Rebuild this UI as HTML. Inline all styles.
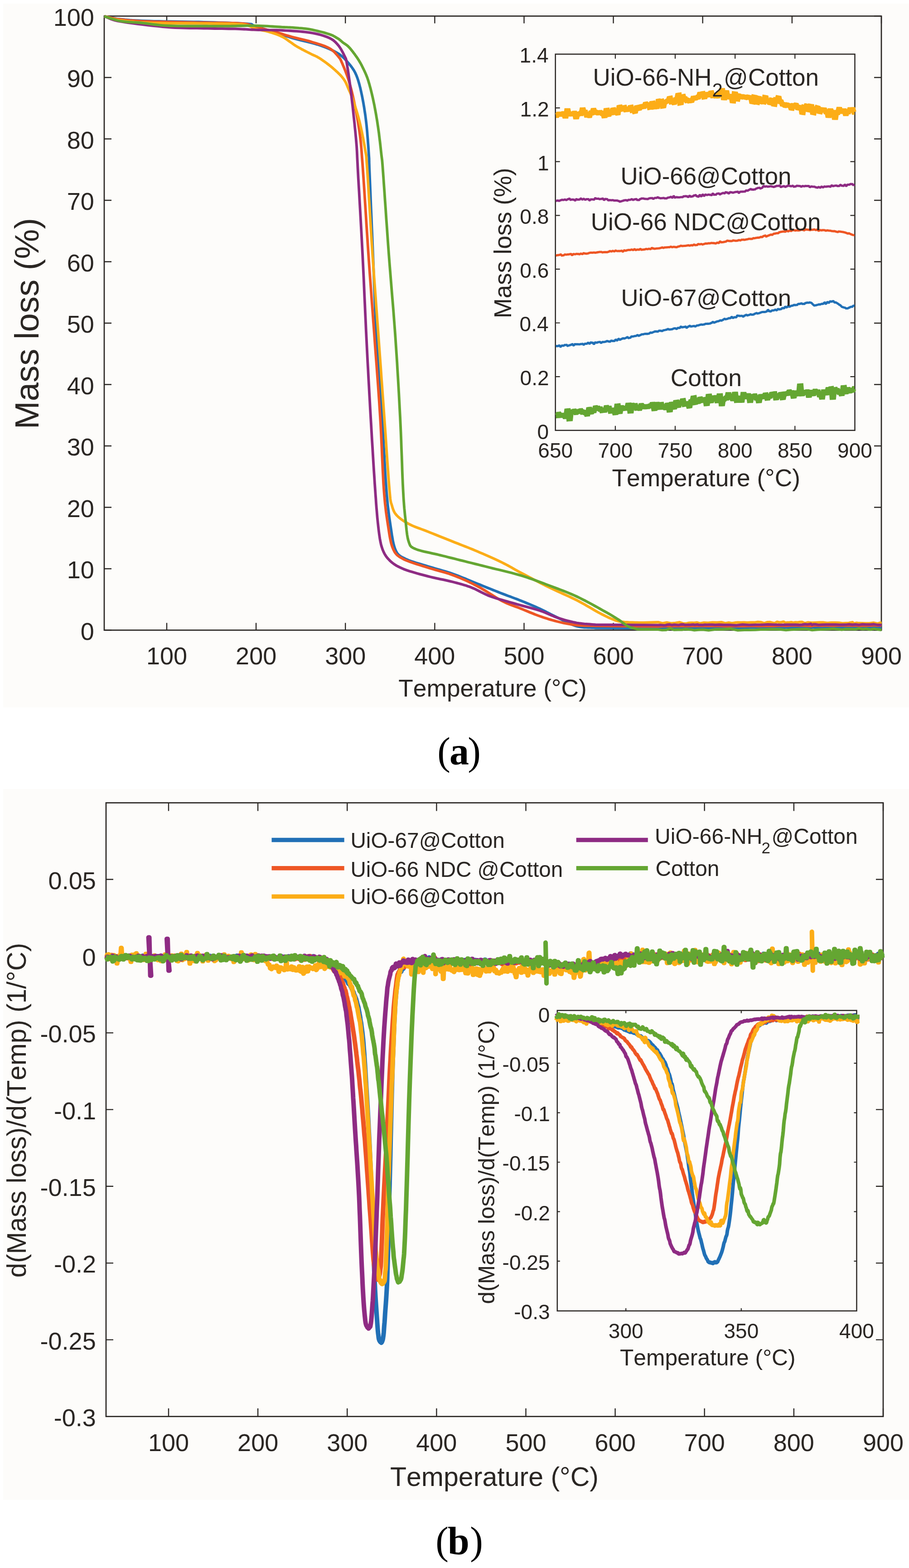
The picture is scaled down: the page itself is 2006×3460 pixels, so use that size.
<!DOCTYPE html><html><head><meta charset="utf-8"><title>TGA figure</title><style>html,body{margin:0;padding:0;background:#fff;overflow:hidden}svg{display:block}text{font-kerning:none}</style></head><body>
<svg width="2006" height="3460" viewBox="0 0 2006 3460">
<rect width="2006" height="3460" fill="#ffffff"/>
<rect x="7" y="8" width="1999" height="1552.8" fill="#fdfcfa"/>
<rect x="7" y="1741" width="1999" height="1568.5" fill="#fdfcfa"/>
<g stroke="#2a2623" fill="none">
<path d="M368 1390.5 V1374.5 M368 35.5 V51.5" stroke-width="2.4"/>
<path d="M565.1 1390.5 V1374.5 M565.1 35.5 V51.5" stroke-width="2.4"/>
<path d="M762.2 1390.5 V1374.5 M762.2 35.5 V51.5" stroke-width="2.4"/>
<path d="M959.4 1390.5 V1374.5 M959.4 35.5 V51.5" stroke-width="2.4"/>
<path d="M1156.5 1390.5 V1374.5 M1156.5 35.5 V51.5" stroke-width="2.4"/>
<path d="M1353.6 1390.5 V1374.5 M1353.6 35.5 V51.5" stroke-width="2.4"/>
<path d="M1550.7 1390.5 V1374.5 M1550.7 35.5 V51.5" stroke-width="2.4"/>
<path d="M1747.9 1390.5 V1374.5 M1747.9 35.5 V51.5" stroke-width="2.4"/>
<path d="M1945 1390.5 V1374.5 M1945 35.5 V51.5" stroke-width="2.4"/>
<path d="M230 1390.5 H246 M1945 1390.5 H1929" stroke-width="2.4"/>
<path d="M230 1255 H246 M1945 1255 H1929" stroke-width="2.4"/>
<path d="M230 1119.5 H246 M1945 1119.5 H1929" stroke-width="2.4"/>
<path d="M230 984 H246 M1945 984 H1929" stroke-width="2.4"/>
<path d="M230 848.5 H246 M1945 848.5 H1929" stroke-width="2.4"/>
<path d="M230 713 H246 M1945 713 H1929" stroke-width="2.4"/>
<path d="M230 577.5 H246 M1945 577.5 H1929" stroke-width="2.4"/>
<path d="M230 442 H246 M1945 442 H1929" stroke-width="2.4"/>
<path d="M230 306.5 H246 M1945 306.5 H1929" stroke-width="2.4"/>
<path d="M230 171 H246 M1945 171 H1929" stroke-width="2.4"/>
<path d="M230 35.5 H246 M1945 35.5 H1929" stroke-width="2.4"/>
<rect x="230" y="35.5" width="1715" height="1355" stroke-width="2.7"/>
</g>
<g>
<path d="M230 36 L233.5 36.7 L236.8 37.3 L239.9 38 L243.1 38.7 L246.2 39.4 L249.6 40.1 L253.1 40.7 L257 41.4 L261.3 42 L266 42.5 L271 43 L276.1 43.5 L281.4 43.9 L286.9 44.4 L292.8 44.8 L299 45.1 L305.8 45.5 L313.2 45.8 L321.2 46.2 L330 46.5 L339.8 46.8 L350.8 47 L362.7 47.3 L375.2 47.5 L388.1 47.7 L401.1 47.9 L414.1 48.1 L426.7 48.3 L438.8 48.5 L450 48.8 L460.9 49.1 L471.8 49.4 L482.7 49.8 L493.4 50.1 L503.8 50.4 L513.6 50.8 L522.8 51.2 L531.2 51.6 L538.7 52.1 L545 52.5 L549.8 52.9 L552.8 53.2 L554.6 53.4 L555.5 53.6 L555.9 53.9 L556.2 54.3 L556.8 54.8 L558.2 55.6 L560.7 56.6 L564.7 58 L570.3 59.8 L577 62 L584.6 64.4 L592.9 67.2 L601.6 70 L610.5 72.9 L619.4 75.8 L628.1 78.6 L636.2 81.1 L643.7 83.4 L650.7 85.4 L657.5 87.2 L664.1 88.9 L670.6 90.5 L676.9 92 L683 93.5 L688.9 95 L694.6 96.5 L700 98.1 L705.3 99.8 L710.3 101.5 L715.1 103.3 L719.7 105.1 L724.1 106.9 L728.2 108.7 L732.2 110.6 L736 112.4 L739.6 114.3 L743.1 116.3 L746.4 118.3 L749.5 120.3 L752.3 122.4 L754.9 124.5 L757.4 126.6 L759.6 128.8 L761.8 131 L763.8 133.2 L765.8 135.5 L767.8 137.8 L769.8 140.2 L771.8 142.6 L773.7 144.9 L775.5 147.3 L777.2 149.6 L778.9 152.1 L780.5 154.6 L782.1 157.3 L783.7 160.2 L785.1 163.3 L786.6 166.6 L788 170.2 L789.3 173.9 L790.6 177.8 L791.8 181.8 L793 186.1 L794.1 190.4 L795.3 195 L796.3 199.7 L797.4 204.6 L798.5 209.7 L799.6 215 L800.6 220.4 L801.7 226.1 L802.7 231.9 L803.7 237.8 L804.6 244 L805.6 250.2 L806.5 256.6 L807.3 263 L808.1 269.6 L808.9 276.5 L809.6 283.7 L810.3 291.3 L810.9 299.1 L811.6 306.9 L812.1 314.6 L812.7 322 L813.2 329.1 L813.6 335.6 L814 341.5 L814.3 346.1 L814.5 349 L814.6 351 L814.6 352.4 L814.6 353.9 L814.7 355.9 L814.7 358.9 L814.9 363.6 L815.1 370.4 L815.5 379.8 L816 392.1 L816.6 406.7 L817.3 423.3 L818 441.4 L818.8 460.7 L819.7 480.8 L820.5 501.1 L821.4 521.4 L822.2 541.1 L823 560 L823.8 578.4 L824.5 596.9 L825.2 615.5 L826 634.1 L826.7 652.8 L827.5 671.5 L828.3 690.1 L829.1 708.6 L830 726.9 L831 745 L832 763 L833.2 780.9 L834.4 798.7 L835.6 816.4 L836.9 834.1 L838.2 851.6 L839.5 868.9 L840.7 886.1 L841.9 903.2 L843 920 L844.1 937 L845.1 954.2 L846.1 971.6 L847 988.8 L848 1005.8 L848.9 1022.3 L849.8 1038.2 L850.7 1053.2 L851.7 1067.2 L852.6 1080 L853.5 1091.5 L854.5 1101.9 L855.4 1111.3 L856.3 1119.9 L857.3 1127.8 L858.2 1135.2 L859.1 1142.1 L860.1 1148.8 L861.1 1155.5 L862.1 1162.1 L863.1 1168.7 L864 1175 L864.9 1181 L865.9 1186.7 L866.8 1192.1 L867.8 1197.2 L869 1201.9 L870.2 1206.4 L871.6 1210.5 L873.1 1214.2 L874.7 1217.5 L876.3 1220.2 L878 1222.4 L879.8 1224.3 L881.7 1226 L883.7 1227.4 L886.1 1228.8 L888.7 1230.2 L891.7 1231.6 L895 1233.3 L898.8 1235 L903 1236.8 L907.6 1238.4 L912.5 1240 L917.6 1241.7 L922.9 1243.3 L928.2 1244.9 L933.7 1246.5 L939 1248.1 L944.3 1249.7 L949.6 1251.3 L954.9 1252.9 L960.3 1254.5 L965.8 1256 L971.3 1257.6 L976.9 1259.2 L982.4 1260.8 L988 1262.6 L993.5 1264.3 L999 1266.2 L1004.5 1268.2 L1010 1270.2 L1015.4 1272.4 L1020.9 1274.6 L1026.4 1276.8 L1031.9 1279.1 L1037.4 1281.4 L1042.8 1283.6 L1048.3 1285.9 L1053.8 1288.1 L1059.3 1290.3 L1065 1292.6 L1070.6 1294.9 L1076.3 1297.2 L1082 1299.4 L1087.6 1301.7 L1093.1 1303.9 L1098.4 1306 L1103.6 1308.1 L1108.5 1310 L1113.2 1311.8 L1117.7 1313.5 L1121.9 1315.1 L1126.1 1316.6 L1130.1 1318.1 L1134.1 1319.6 L1138 1321.1 L1141.9 1322.5 L1145.9 1324.1 L1150 1325.7 L1154.1 1327.4 L1158.2 1329 L1162.3 1330.7 L1166.4 1332.4 L1170.5 1334.2 L1174.6 1335.9 L1178.7 1337.7 L1182.8 1339.5 L1186.9 1341.3 L1191 1343.2 L1195.1 1345.1 L1199.2 1347.1 L1203.3 1349.2 L1207.4 1351.3 L1211.5 1353.4 L1215.7 1355.5 L1219.8 1357.6 L1223.9 1359.7 L1228 1361.7 L1232.1 1363.7 L1236.2 1365.7 L1240.3 1367.7 L1244.4 1369.8 L1248.5 1371.9 L1252.6 1373.9 L1256.8 1375.9 L1260.9 1377.7 L1265 1379.3 L1269.1 1380.8 L1273.2 1382 L1277.3 1382.9 L1281.4 1383.6 L1285.5 1384.1 L1289.6 1384.5 L1293.8 1384.7 L1297.9 1384.8 L1302 1384.9 L1306.1 1385 L1310.2 1385.2 L1314.3 1385.5 L1452.4 1386.3 L1461.2 1386.4 L1470.3 1386.1 L1479.3 1385.8 L1488.1 1386 L1496.6 1385.7 L1504.6 1386.1 L1511.9 1386.6 L1518.5 1385.9 L1524.7 1385.8 L1531 1386.2 L1537.6 1386.2 L1544.9 1386 L1553 1385.6 L1561.9 1385.9 L1571 1386.1 L1580.2 1385.2 L1589 1385.5 L1597.1 1384.9 L1604.1 1385.1 L1610.1 1384.8 L1615.8 1385.5 L1621.7 1385 L1628.5 1385.6 L1636.6 1385.5 L1646.8 1385.3 L1658.7 1384.3 L1671.5 1385.1 L1684.1 1385.2 L1695.8 1385.2 L1705.7 1384.5 L1713.4 1384.9 L1719.7 1384.6 L1725.1 1384.6 L1729.9 1385.3 L1734.8 1384.5 L1740.1 1384.8 L1745.7 1385.2 L1751.2 1384.5 L1756.6 1384.7 L1762.3 1384.8 L1768.2 1384.7 L1774.6 1384.2 L1781.6 1384.6 L1789.1 1385.1 L1796.8 1383.9 L1804.8 1384.8 L1812.7 1384.5 L1820.5 1384.1 L1828.5 1385.1 L1837 1384.6 L1845.4 1383.7 L1853.4 1384.2 L1860.5 1384.3 L1866.3 1384 L1870.3 1384.3 L1872.8 1384.1 L1874.5 1384.4 L1875.9 1384.7 L1877.7 1383.9 L1880.5 1384.3 L1884.6 1384 L1889.4 1384.2 L1894.6 1383.6 L1899.9 1383.8 L1904.9 1383.9 L1909.2 1384.4 L1912.9 1384.5 L1916.1 1383.5 L1919 1383.8 L1921.8 1384.5 L1924.6 1383.5 L1927.5 1384.1 L1930.5 1384.3 L1933.5 1384.8 L1936.4 1384.6 L1939.4 1384.2 L1942.4 1384.1 L1945.4 1384.1" fill="none" stroke="#2170b6" stroke-width="5.8" stroke-linejoin="round" stroke-linecap="butt"/>
<path d="M230 36 L233.5 36.7 L236.8 37.4 L239.9 38.2 L243.1 38.9 L246.2 39.7 L249.6 40.4 L253.1 41.1 L257 41.8 L261.3 42.4 L266 43 L271 43.6 L276.1 44.1 L281.4 44.6 L286.9 45.1 L292.8 45.5 L299 46 L305.8 46.4 L313.2 46.8 L321.2 47.1 L330 47.5 L339.9 47.8 L351 48.1 L363 48.4 L375.6 48.7 L388.7 48.9 L401.8 49.1 L414.8 49.3 L427.3 49.6 L439.2 49.8 L450 50 L460.2 50.2 L470.1 50.3 L479.8 50.4 L489.2 50.5 L498.1 50.7 L506.7 50.8 L514.7 51 L522.1 51.2 L528.9 51.6 L535 52 L540.2 52.6 L544.3 53.2 L547.7 53.9 L550.5 54.7 L552.8 55.6 L554.9 56.4 L556.9 57.3 L559.1 58.2 L561.6 59.1 L564.7 60 L568.2 60.8 L571.7 61.7 L575.4 62.5 L579.2 63.4 L583 64.2 L586.9 65.1 L590.8 66 L594.8 67 L598.7 68 L602.7 69 L606.7 70.1 L610.7 71.3 L614.8 72.5 L618.9 73.8 L623 75.1 L627.1 76.4 L631.3 77.7 L635.4 78.9 L639.6 80.1 L643.7 81.3 L647.8 82.4 L651.9 83.4 L656 84.4 L660.1 85.4 L664.2 86.3 L668.4 87.3 L672.5 88.3 L676.6 89.3 L680.7 90.4 L684.8 91.6 L689 92.9 L693.3 94.2 L697.8 95.5 L702.2 96.9 L706.6 98.3 L710.9 99.7 L715.1 101.2 L719 102.8 L722.6 104.4 L725.9 106 L728.8 107.7 L731.5 109.5 L733.9 111.3 L736.1 113.2 L738.2 115.2 L740 117.1 L741.7 119 L743.4 120.9 L744.9 122.7 L746.4 124.5 L747.7 126.1 L748.8 127.5 L749.8 128.7 L750.6 129.9 L751.3 131.1 L752 132.4 L752.7 133.9 L753.4 135.7 L754.3 137.7 L755.4 140.2 L756.6 143.1 L758 146.3 L759.4 149.7 L760.9 153.4 L762.4 157.3 L764 161.4 L765.5 165.6 L767 169.9 L768.4 174.2 L769.8 178.5 L771.1 182.8 L772.4 187.2 L773.6 191.6 L774.8 196.1 L776 200.7 L777.1 205.5 L778.3 210.4 L779.4 215.5 L780.6 220.9 L781.8 226.5 L783 232.4 L784.3 238.5 L785.5 244.9 L786.8 251.5 L788.1 258.2 L789.3 265.1 L790.5 272.1 L791.6 279.2 L792.7 286.3 L793.7 293.5 L794.6 300.3 L795.3 306.4 L796 312.2 L796.6 318 L797.1 324.1 L797.7 330.8 L798.3 338.4 L798.9 347.3 L799.7 357.7 L800.6 370 L801.6 384.4 L802.7 400.8 L803.9 418.8 L805.1 438.1 L806.4 458.2 L807.7 478.9 L809 499.8 L810.4 520.5 L811.7 540.7 L813 560 L814.3 578.7 L815.6 597.5 L817 616.2 L818.4 634.8 L819.7 653.4 L821.1 672 L822.5 690.4 L823.8 708.7 L825.2 726.9 L826.5 745 L827.8 763 L829.1 780.9 L830.5 798.7 L831.8 816.4 L833.1 834.1 L834.4 851.6 L835.6 868.9 L836.8 886.1 L837.9 903.2 L839 920 L840 937 L840.9 954.2 L841.7 971.6 L842.5 988.8 L843.2 1005.8 L844 1022.3 L844.7 1038.2 L845.5 1053.2 L846.2 1067.2 L847.1 1080 L848 1091.5 L848.9 1101.9 L849.8 1111.4 L850.8 1120 L851.7 1128 L852.7 1135.4 L853.7 1142.3 L854.7 1149 L855.7 1155.6 L856.7 1162.1 L857.7 1168.5 L858.6 1174.5 L859.5 1180.2 L860.4 1185.5 L861.4 1190.5 L862.4 1195.2 L863.5 1199.7 L864.7 1203.8 L866.1 1207.7 L867.6 1211.4 L869.2 1214.7 L870.7 1217.6 L872.3 1220.1 L874 1222.3 L875.8 1224.2 L877.8 1226 L880.2 1227.8 L882.8 1229.5 L885.9 1231.3 L889.5 1233.3 L893.6 1235.3 L898.4 1237.4 L903.5 1239.3 L909.1 1241.3 L914.8 1243.2 L920.8 1245.2 L926.8 1247 L932.8 1248.9 L938.7 1250.7 L944.3 1252.5 L949.8 1254.2 L955.2 1255.8 L960.7 1257.4 L966.2 1258.9 L971.6 1260.4 L977.1 1261.9 L982.6 1263.5 L988.1 1265.1 L993.5 1266.9 L999 1268.9 L1004.5 1271 L1010 1273.2 L1015.4 1275.4 L1020.9 1277.8 L1026.4 1280.2 L1031.9 1282.7 L1037.4 1285.3 L1042.8 1288 L1048.3 1290.8 L1053.8 1293.6 L1059.3 1296.6 L1065 1299.9 L1070.6 1303.3 L1076.3 1306.9 L1082 1310.5 L1087.6 1314 L1093.1 1317.5 L1098.4 1320.7 L1103.6 1323.7 L1108.5 1326.4 L1113.2 1328.7 L1117.7 1330.8 L1121.9 1332.6 L1126.1 1334.3 L1130.1 1335.8 L1134.1 1337.3 L1138 1338.7 L1141.9 1340.1 L1145.9 1341.6 L1150 1343.2 L1154.1 1344.9 L1158.2 1346.6 L1162.3 1348.3 L1166.4 1350 L1170.5 1351.7 L1174.6 1353.3 L1178.7 1355 L1182.8 1356.6 L1186.9 1358.1 L1191 1359.6 L1195.1 1361 L1199.2 1362.4 L1203.3 1363.8 L1207.4 1365.1 L1211.5 1366.4 L1215.7 1367.6 L1219.8 1368.8 L1223.9 1369.9 L1228 1371 L1232.1 1372 L1236.2 1373 L1240.3 1373.9 L1244.4 1374.8 L1248.5 1375.6 L1252.6 1376.4 L1256.8 1377.2 L1260.9 1377.8 L1265 1378.5 L1269.1 1379 L1273.2 1379.5 L1277.3 1379.9 L1281.4 1380.2 L1285.5 1380.4 L1289.6 1380.5 L1293.8 1380.6 L1297.9 1380.7 L1302 1380.7 L1306.1 1380.8 L1310.2 1380.9 L1314.3 1381 L1452.4 1382.3 L1468.9 1381.5 L1485.5 1381.5 L1502 1381.7 L1518.5 1381.5 L1534.8 1381.4 L1550.9 1381 L1566.5 1381.4 L1582 1381.2 L1597.2 1381.8 L1612.3 1381.6 L1627.5 1381.3 L1642.7 1381.5 L1658.5 1381.1 L1674.7 1381.6 L1691 1381.1 L1706.7 1381.3 L1721.4 1380.5 L1734.6 1381.1 L1746.1 1380.3 L1756.4 1380.1 L1765.6 1380.7 L1774.1 1380.5 L1782 1380.9 L1789.7 1381.7 L1796.8 1380.4 L1803 1380.4 L1808.7 1380.7 L1814.2 1380.8 L1820 1380.4 L1826.5 1380.4 L1833.6 1380.7 L1841.1 1380.6 L1848.9 1380 L1856.8 1380.4 L1864.7 1380.4 L1872.4 1380 L1880.3 1380.5 L1888.5 1380.1 L1896.6 1380.8 L1904.5 1380.5 L1911.8 1380.5 L1918.4 1380.2 L1924 1380.5 L1928.8 1379.7 L1933.1 1380.1 L1937.1 1380.7 L1941.1 1379.8 L1945.4 1381" fill="none" stroke="#ee5624" stroke-width="5.8" stroke-linejoin="round" stroke-linecap="butt"/>
<path d="M230 36 L233.5 36.9 L236.8 37.9 L239.9 38.8 L243.1 39.8 L246.2 40.7 L249.6 41.7 L253.1 42.6 L257 43.4 L261.3 44.2 L266 45 L271 45.7 L276.1 46.4 L281.4 47 L286.9 47.7 L292.8 48.2 L299 48.8 L305.8 49.3 L313.2 49.7 L321.2 50.1 L330 50.5 L339.9 50.8 L351 51 L363 51.2 L375.6 51.3 L388.7 51.4 L401.8 51.4 L414.8 51.5 L427.3 51.5 L439.2 51.7 L450 51.8 L460.2 51.9 L470.1 52.1 L479.8 52.2 L489.2 52.2 L498.1 52.4 L506.7 52.5 L514.7 52.7 L522.1 53.1 L528.9 53.5 L535 54 L540.2 54.7 L544.5 55.5 L548 56.5 L551 57.6 L553.4 58.7 L555.6 59.8 L557.7 61 L559.8 62 L562.1 63 L564.7 63.9 L567.5 64.6 L570.3 65.3 L573.1 65.8 L575.8 66.4 L578.5 66.9 L581.2 67.4 L583.9 67.9 L586.7 68.5 L589.5 69.2 L592.4 70 L595.4 70.9 L598.4 71.8 L601.4 72.7 L604.5 73.7 L607.6 74.7 L610.7 75.9 L613.9 77.1 L617 78.4 L620.1 79.8 L623.2 81.3 L626.3 83 L629.4 84.9 L632.4 86.9 L635.5 89.1 L638.6 91.3 L641.7 93.5 L644.8 95.7 L647.8 97.9 L650.9 100 L654 101.9 L657.1 103.7 L660.3 105.5 L663.6 107.3 L666.8 109.1 L670 110.7 L673.2 112.4 L676.3 114 L679.3 115.5 L682.1 116.9 L684.8 118.3 L687.2 119.5 L689.4 120.6 L691.5 121.5 L693.4 122.3 L695.2 123.1 L697 124 L698.9 124.9 L700.8 125.9 L703 127.2 L705.3 128.6 L707.9 130.3 L710.6 132.1 L713.4 134.1 L716.4 136.2 L719.4 138.3 L722.4 140.6 L725.4 142.9 L728.4 145.2 L731.2 147.5 L733.9 149.8 L736.5 152.1 L739.2 154.4 L741.8 156.8 L744.4 159.2 L746.9 161.6 L749.3 164 L751.7 166.4 L753.9 168.9 L755.9 171.3 L757.8 173.7 L759.5 176.1 L761 178.5 L762.4 180.9 L763.6 183.3 L764.7 185.7 L765.7 188.1 L766.8 190.5 L767.7 192.9 L768.8 195.3 L769.8 197.7 L770.8 200 L771.8 202.1 L772.7 204.1 L773.6 206.2 L774.5 208.2 L775.3 210.4 L776.3 212.7 L777.2 215.4 L778.3 218.3 L779.4 221.7 L780.6 225.5 L782 229.6 L783.4 233.9 L784.9 238.6 L786.4 243.4 L787.9 248.4 L789.4 253.6 L790.9 258.9 L792.3 264.2 L793.7 269.6 L795 275.2 L796.4 281.1 L797.7 287.3 L799 293.6 L800.3 300 L801.6 306.4 L802.7 312.6 L803.8 318.6 L804.8 324.2 L805.7 329.5 L806.4 333.7 L806.9 336.4 L807.3 338.4 L807.6 339.9 L807.9 341.6 L808.2 344 L808.5 347.5 L808.9 352.6 L809.4 360 L810.1 370 L811 383 L812 398.5 L813.1 416.2 L814.2 435.5 L815.5 456 L816.8 477.2 L818.1 498.7 L819.4 519.9 L820.7 540.5 L822 560 L823.3 578.7 L824.6 597.5 L825.9 616.2 L827.3 634.8 L828.7 653.4 L830 672 L831.4 690.4 L832.7 708.7 L834.1 726.9 L835.4 745 L836.7 763 L838 780.9 L839.3 798.7 L840.6 816.4 L841.8 834.1 L843.1 851.6 L844.3 868.9 L845.6 886.1 L846.8 903.2 L848 920 L849.2 937.2 L850.5 955 L851.7 973 L852.9 991.1 L854.1 1008.7 L855.3 1025.7 L856.5 1041.6 L857.5 1056.2 L858.5 1069.1 L859.4 1080 L860.2 1088.7 L860.8 1095.3 L861.3 1100.3 L861.8 1103.9 L862.2 1106.4 L862.6 1108.3 L863 1109.8 L863.5 1111.3 L864.2 1113.2 L864.9 1115.6 L865.7 1118.4 L866.5 1120.9 L867.3 1123.3 L868.1 1125.5 L869 1127.6 L870 1129.6 L871.1 1131.6 L872.5 1133.5 L874 1135.5 L875.8 1137.5 L877.8 1139.5 L880 1141.6 L882.4 1143.5 L884.9 1145.5 L887.6 1147.4 L890.5 1149.4 L893.5 1151.2 L896.6 1153.1 L899.8 1154.9 L903.2 1156.7 L906.7 1158.4 L910.3 1160.1 L914.1 1161.7 L918 1163.2 L922 1164.7 L926.2 1166.3 L930.5 1167.9 L935 1169.5 L939.6 1171.2 L944.3 1173.1 L949.2 1175.1 L954.4 1177.1 L959.7 1179.3 L965.2 1181.5 L970.8 1183.7 L976.5 1186 L982.2 1188.3 L987.8 1190.5 L993.5 1192.8 L999 1195 L1004.5 1197.2 L1010 1199.3 L1015.4 1201.5 L1020.9 1203.6 L1026.4 1205.8 L1031.9 1207.9 L1037.4 1210.1 L1042.8 1212.3 L1048.3 1214.6 L1053.8 1216.9 L1059.3 1219.3 L1065 1221.7 L1070.6 1224.1 L1076.3 1226.6 L1082 1229.2 L1087.6 1231.7 L1093.1 1234.2 L1098.4 1236.7 L1103.6 1239.1 L1108.5 1241.5 L1113.1 1243.8 L1117.3 1246 L1121.3 1248.1 L1125.1 1250.2 L1128.8 1252.3 L1132.6 1254.5 L1136.5 1256.7 L1140.6 1259 L1145.1 1261.5 L1150 1264.1 L1155.3 1266.9 L1161 1269.9 L1167 1273.1 L1173.2 1276.3 L1179.5 1279.7 L1186 1283 L1192.5 1286.4 L1199 1289.7 L1205.3 1292.9 L1211.6 1296 L1217.8 1299 L1224.1 1301.9 L1230.4 1304.8 L1236.7 1307.7 L1243 1310.5 L1249.3 1313.4 L1255.5 1316.2 L1261.5 1319 L1267.5 1321.8 L1273.2 1324.7 L1278.8 1327.6 L1284.4 1330.7 L1290 1333.8 L1295.4 1336.9 L1300.8 1340 L1306 1343 L1310.9 1345.9 L1315.7 1348.7 L1320.2 1351.2 L1324.5 1353.5 L1328.5 1355.6 L1332.1 1357.4 L1335.6 1359.2 L1338.8 1360.7 L1341.8 1362.2 L1344.7 1363.5 L1347.5 1364.7 L1350.1 1365.8 L1352.7 1366.8 L1355.3 1367.8 L1357.7 1368.7 L1359.7 1369.4 L1361.5 1370 L1363.1 1370.5 L1364.8 1370.9 L1366.5 1371.3 L1368.3 1371.6 L1370.4 1371.9 L1372.9 1372.2 L1375.9 1372.5 L1379.4 1372.8 L1383.2 1373 L1387.4 1373.2 L1391.8 1373.3 L1396.5 1373.5 L1401.2 1373.6 L1406 1373.7 L1410.8 1373.8 L1415.5 1373.9 L1420 1374 L1452.4 1372.8 L1461.8 1375.3 L1471.5 1373.7 L1481.1 1375.3 L1490.5 1374.7 L1499.4 1373 L1507.6 1375.8 L1514.6 1375.9 L1520.7 1374.4 L1526.2 1374.2 L1531.8 1374.3 L1537.8 1373.5 L1544.9 1375.5 L1553.3 1373.8 L1562.6 1374.3 L1572.5 1373.5 L1582.4 1373.6 L1591.9 1372.9 L1600.5 1375.4 L1608.2 1373.9 L1615.2 1375 L1621.9 1374 L1628.3 1373.3 L1634.9 1373.6 L1641.8 1373.4 L1649.2 1373.9 L1656.9 1373.5 L1664.7 1373.5 L1672.4 1372.4 L1679.7 1372.9 L1686.6 1375.3 L1692.9 1373 L1698.8 1372.6 L1704.4 1374 L1709.8 1375 L1714.9 1372.1 L1719.9 1373.4 L1724.7 1372.9 L1729.1 1371.8 L1733.3 1374.3 L1737.5 1373.6 L1741.7 1373.7 L1746.2 1372.9 L1750.8 1374.1 L1755.2 1373.1 L1759.7 1373.5 L1764.5 1372.6 L1769.9 1372.5 L1776.1 1375.1 L1783.3 1373.3 L1791.4 1374.1 L1800 1373.9 L1808.9 1373.5 L1817.7 1373.5 L1826 1374.7 L1834.3 1373.8 L1842.8 1374 L1851.3 1374.2 L1859.3 1375.4 L1866.7 1374.9 L1873 1374.7 L1877.9 1373.7 L1881.3 1373 L1884 1375.3 L1886.8 1375.3 L1890.4 1374.3 L1895.4 1375 L1902.1 1375.2 L1910 1375.3 L1918.7 1375.4 L1927.7 1374 L1936.7 1376 L1945.4 1373.2" fill="none" stroke="#fcad17" stroke-width="5.8" stroke-linejoin="round" stroke-linecap="butt"/>
<path d="M230 36 L233.3 37.1 L236.1 38.3 L238.7 39.4 L241.2 40.6 L243.8 41.7 L246.8 42.8 L250.3 44 L254.5 45.1 L259.7 46.3 L266 47.5 L273.7 48.7 L282.6 50.1 L292.6 51.4 L303.3 52.8 L314.5 54.2 L326 55.5 L337.4 56.8 L348.5 57.9 L359 59 L368.7 59.8 L377.7 60.5 L386.4 61 L394.9 61.4 L403.1 61.6 L411.1 61.8 L419 62 L426.7 62.1 L434.5 62.2 L442.2 62.3 L450 62.5 L457.9 62.7 L466 62.9 L474.1 63 L482.1 63.1 L490.1 63.2 L497.8 63.4 L505.3 63.5 L512.4 63.6 L519 63.7 L525 63.9 L530.3 64.1 L534.9 64.3 L538.9 64.5 L542.5 64.7 L545.9 64.9 L549.2 65.1 L552.5 65.3 L556.1 65.5 L560.1 65.7 L564.7 65.9 L569.8 66 L575.1 66.1 L580.8 66.2 L586.6 66.2 L592.6 66.3 L598.7 66.3 L604.8 66.4 L611 66.5 L617.1 66.7 L623.2 67 L629.3 67.3 L635.6 67.7 L642.1 68 L648.6 68.5 L655.1 68.9 L661.5 69.4 L667.7 70 L673.7 70.6 L679.5 71.3 L684.8 72.1 L689.8 73 L694.7 73.9 L699.3 74.9 L703.7 75.9 L707.9 77 L711.9 78.2 L715.7 79.4 L719.3 80.7 L722.7 82 L725.9 83.4 L728.8 84.8 L731.4 86.2 L733.8 87.7 L735.9 89.2 L737.8 90.8 L739.6 92.4 L741.3 94.1 L743 95.9 L744.7 97.8 L746.4 99.8 L748.1 102 L749.8 104.4 L751.5 107 L753.1 109.6 L754.6 112.3 L756.1 115 L757.4 117.7 L758.7 120.2 L759.8 122.5 L760.8 124.5 L761.6 126.1 L762.2 127.3 L762.7 128.2 L763.1 129 L763.3 129.7 L763.6 130.5 L763.8 131.6 L764.1 133.1 L764.5 135.1 L765 137.8 L765.6 141.1 L766.2 145 L766.9 149.2 L767.7 153.9 L768.4 158.8 L769.2 164 L769.9 169.4 L770.7 174.8 L771.5 180.3 L772.2 185.7 L772.9 191.1 L773.6 196.7 L774.4 202.4 L775.1 208.2 L775.8 214.1 L776.5 220.2 L777.2 226.4 L778 232.7 L778.7 239.1 L779.4 245.6 L780.1 252.3 L780.9 259.4 L781.7 266.6 L782.5 273.9 L783.2 281.4 L784 288.8 L784.7 296.2 L785.4 303.5 L786 310.6 L786.6 317.5 L787.1 323.6 L787.4 328.7 L787.7 333.2 L787.9 337.5 L788.1 342 L788.3 347 L788.6 352.9 L789 360.1 L789.4 369 L790 380 L790.7 393.2 L791.6 408.4 L792.6 425.2 L793.6 443.3 L794.7 462.3 L795.8 482 L796.9 501.9 L798 521.8 L799 541.3 L800 560 L800.9 578.3 L801.8 596.8 L802.7 615.4 L803.5 634.1 L804.3 652.8 L805.2 671.5 L806 690.1 L806.9 708.6 L807.7 726.9 L808.6 745 L809.5 763 L810.4 780.9 L811.3 798.7 L812.3 816.4 L813.2 834.1 L814.2 851.6 L815.1 868.9 L816.1 886.1 L817 903.2 L818 920 L819 937 L820 954.2 L821 971.6 L822.1 988.8 L823.1 1005.8 L824.1 1022.3 L825.1 1038.2 L826.1 1053.2 L827 1067.2 L827.9 1080 L828.7 1091.5 L829.5 1102 L830.1 1111.5 L830.8 1120.2 L831.5 1128.1 L832.1 1135.6 L832.7 1142.5 L833.4 1149.2 L834.1 1155.7 L834.8 1162.1 L835.5 1168.3 L836.2 1174 L836.9 1179.3 L837.6 1184.2 L838.3 1188.8 L839.1 1193.1 L839.9 1197.2 L840.8 1201.2 L841.8 1205 L843 1208.7 L844.2 1212.3 L845.5 1215.5 L846.9 1218.6 L848.3 1221.4 L849.8 1224.1 L851.5 1226.7 L853.2 1229.1 L855.1 1231.5 L857.2 1233.8 L859.4 1236.1 L861.7 1238.4 L864.1 1240.5 L866.6 1242.5 L869.3 1244.5 L872 1246.3 L875 1248.2 L878.2 1249.9 L881.7 1251.7 L885.4 1253.4 L889.5 1255.2 L894 1257 L898.9 1258.7 L904.1 1260.4 L909.6 1262.1 L915.4 1263.8 L921.2 1265.5 L927.1 1267.1 L933 1268.6 L938.7 1270.1 L944.3 1271.6 L949.8 1273 L955.5 1274.3 L961.1 1275.6 L966.8 1276.9 L972.5 1278.1 L978.1 1279.2 L983.6 1280.4 L988.9 1281.6 L994.1 1282.8 L999 1284 L1003.7 1285.2 L1008.1 1286.4 L1012.3 1287.5 L1016.4 1288.6 L1020.4 1289.7 L1024.3 1290.9 L1028.2 1292.1 L1032.1 1293.4 L1036.1 1294.8 L1040.1 1296.3 L1044.1 1298 L1048.1 1299.7 L1052 1301.6 L1055.9 1303.6 L1059.8 1305.6 L1063.8 1307.7 L1067.9 1309.7 L1072.1 1311.7 L1076.5 1313.7 L1081.2 1315.5 L1086.1 1317.3 L1091.3 1319 L1096.6 1320.7 L1102.1 1322.3 L1107.7 1323.9 L1113.3 1325.5 L1119 1327.1 L1124.7 1328.7 L1130.4 1330.3 L1135.9 1331.9 L1141.5 1333.5 L1147.1 1335 L1152.8 1336.6 L1158.6 1338.1 L1164.3 1339.6 L1169.9 1341.1 L1175.5 1342.6 L1180.9 1344.2 L1186.1 1345.7 L1191 1347.3 L1195.7 1348.9 L1200.1 1350.6 L1204.4 1352.3 L1208.4 1354.1 L1212.4 1355.8 L1216.3 1357.5 L1220.2 1359.2 L1224.1 1360.8 L1228.1 1362.3 L1232.1 1363.7 L1236.2 1365 L1240.3 1366.3 L1244.4 1367.6 L1248.5 1368.7 L1252.6 1369.9 L1256.8 1370.9 L1260.9 1371.9 L1265 1372.9 L1269.1 1373.7 L1273.2 1374.5 L1277.3 1375.2 L1281.4 1375.7 L1285.5 1376.2 L1289.6 1376.6 L1293.8 1376.9 L1297.9 1377.2 L1302 1377.5 L1306.1 1377.8 L1310.2 1378.1 L1314.3 1378.5 L1452.4 1379.4 L1456.6 1379.2 L1460.7 1379.3 L1464.8 1379.8 L1469 1379.6 L1473.3 1378.3 L1477.8 1378 L1482.6 1379.3 L1487.7 1378.3 L1492.9 1378.9 L1498 1379.3 L1503 1378 L1507.6 1377.8 L1511.8 1379 L1515.7 1378.9 L1519.3 1378.7 L1522.9 1378.9 L1526.4 1378.4 L1530 1378.1 L1533.4 1378.8 L1536.5 1378.4 L1539.5 1378.1 L1542.8 1379.2 L1546.5 1378.9 L1550.9 1379.1 L1555.5 1378.4 L1560.2 1378.6 L1565.4 1378.4 L1571.3 1378.4 L1578.5 1379 L1587.2 1378.5 L1598 1379 L1610.6 1379 L1624.3 1379.8 L1638.7 1378.1 L1653.1 1379.2 L1666.8 1378.7 L1680.6 1378.7 L1694.8 1377.9 L1709.1 1378.4 L1722.9 1378.9 L1735.5 1378.5 L1746.5 1378.5 L1755.7 1378.3 L1763.7 1379 L1770.5 1378.4 L1776.5 1377.3 L1781.7 1378 L1786.3 1377.3 L1789.6 1376.7 L1791.2 1378 L1792.1 1378.9 L1793.2 1378.2 L1795.4 1377.6 L1799.6 1377.7 L1806.2 1378.8 L1814.7 1378.3 L1824.2 1378.2 L1834.2 1378.2 L1843.9 1378.2 L1852.6 1378.6 L1860.2 1378.5 L1867.4 1378.3 L1874.2 1377.7 L1881 1378.5 L1888 1377.9 L1895.4 1378.8 L1903.3 1377.6 L1911.5 1378.1 L1919.9 1378.2 L1928.5 1377.5 L1937 1379 L1945.4 1378.8" fill="none" stroke="#8e2b83" stroke-width="5.8" stroke-linejoin="round" stroke-linecap="butt"/>
<path d="M230 36 L233.6 37.1 L237 38.2 L240.5 39.4 L243.9 40.5 L247.4 41.7 L250.9 42.8 L254.5 43.8 L258.2 44.8 L262 45.7 L266 46.5 L270.1 47.2 L274.4 47.7 L278.7 48.1 L283.2 48.5 L287.7 48.8 L292.3 49.1 L297.1 49.3 L302 49.7 L306.9 50 L312 50.5 L317.1 51.1 L322.3 51.7 L327.4 52.4 L332.7 53.1 L338.1 53.8 L343.7 54.5 L349.5 55.2 L355.6 55.8 L362 56.3 L368.7 56.7 L376 57 L383.9 57.2 L392.3 57.4 L401 57.4 L409.8 57.5 L418.6 57.5 L427.1 57.5 L435.3 57.5 L443 57.5 L450 57.5 L456.2 57.5 L461.8 57.6 L466.8 57.6 L471.5 57.7 L476 57.7 L480.4 57.7 L484.9 57.7 L489.6 57.7 L494.5 57.7 L500 57.7 L505.9 57.6 L512.1 57.5 L518.5 57.4 L525.1 57.2 L531.8 57 L538.6 56.9 L545.3 56.7 L551.9 56.7 L558.4 56.6 L564.7 56.7 L570.9 56.9 L577.3 57.1 L583.7 57.4 L590.1 57.7 L596.3 58.1 L602.4 58.5 L608.2 58.9 L613.6 59.2 L618.7 59.5 L623.2 59.8 L627.1 60 L630.5 60.1 L633.3 60.2 L635.8 60.3 L638.1 60.4 L640.2 60.5 L642.4 60.6 L644.6 60.7 L647.1 60.9 L650 61.1 L653.1 61.3 L656.3 61.6 L659.7 61.9 L663 62.1 L666.5 62.4 L670 62.8 L673.6 63.2 L677.3 63.7 L681 64.2 L684.8 64.9 L688.8 65.7 L693 66.6 L697.3 67.5 L701.8 68.6 L706.3 69.7 L710.7 70.8 L714.9 71.9 L718.9 73.1 L722.6 74.2 L725.9 75.2 L728.8 76.2 L731.4 77.2 L733.7 78.2 L735.8 79.2 L737.7 80.2 L739.5 81.2 L741.1 82.2 L742.7 83.2 L744.3 84.2 L745.8 85.1 L747.3 86 L748.6 86.9 L749.7 87.8 L750.8 88.7 L751.8 89.5 L752.8 90.4 L753.8 91.3 L754.8 92.2 L755.8 93.1 L757 94 L758.2 94.9 L759.4 95.7 L760.6 96.5 L761.9 97.3 L763.1 98.2 L764.4 99 L765.7 100 L767.1 101.2 L768.5 102.5 L770 104 L771.6 105.7 L773.3 107.7 L775.1 109.9 L776.9 112.1 L778.8 114.5 L780.6 117 L782.5 119.4 L784.2 121.9 L785.9 124.2 L787.5 126.5 L789 128.6 L790.3 130.7 L791.6 132.7 L792.8 134.7 L794 136.8 L795.2 138.8 L796.4 140.9 L797.6 143.1 L798.8 145.5 L800 148 L801.3 150.6 L802.6 153.2 L803.9 155.9 L805.2 158.7 L806.5 161.6 L807.8 164.6 L809.1 167.8 L810.4 171.1 L811.6 174.7 L812.9 178.5 L814.1 182.6 L815.4 186.9 L816.6 191.4 L817.9 196.1 L819.1 201 L820.3 205.9 L821.5 211 L822.7 216.2 L823.8 221.3 L824.9 226.5 L826 231.7 L827 237 L828 242.4 L829 247.8 L830 253.3 L830.9 258.9 L831.9 264.5 L832.8 270.2 L833.6 275.9 L834.5 281.6 L835.3 287.5 L836.2 293.6 L836.9 299.9 L837.7 306.3 L838.5 312.6 L839.2 318.9 L839.9 325 L840.5 330.8 L841.1 336.4 L841.7 341.5 L842.2 345.6 L842.5 348.3 L842.8 350.1 L843 351.6 L843.2 353.1 L843.4 355.3 L843.7 358.6 L844.1 363.4 L844.6 370.3 L845.3 379.8 L846.2 392.1 L847.2 406.7 L848.4 423.3 L849.6 441.4 L851 460.7 L852.3 480.8 L853.8 501.1 L855.2 521.4 L856.6 541.1 L858 560 L859.4 578.4 L860.9 596.9 L862.4 615.5 L863.9 634.1 L865.4 652.8 L867 671.5 L868.5 690.1 L869.9 708.6 L871.3 726.9 L872.6 745 L873.8 763 L875 780.9 L876.2 798.7 L877.2 816.4 L878.3 834.1 L879.3 851.6 L880.3 868.9 L881.2 886.1 L882.1 903.2 L883 920 L883.8 937 L884.6 954.4 L885.3 972 L885.9 989.5 L886.6 1006.7 L887.2 1023.3 L887.7 1039.2 L888.3 1054.1 L888.9 1067.8 L889.5 1080 L890.1 1090.6 L890.6 1099.9 L891.2 1107.9 L891.7 1115 L892.2 1121.3 L892.8 1127 L893.3 1132.4 L893.8 1137.6 L894.4 1142.9 L895 1148.4 L895.6 1154.1 L896.1 1159.6 L896.7 1164.9 L897.2 1170.1 L897.8 1175 L898.4 1179.6 L899.1 1183.9 L899.9 1188 L900.8 1191.7 L901.8 1195 L902.8 1197.9 L903.7 1200.3 L904.5 1202.2 L905.3 1203.9 L906.4 1205.3 L907.6 1206.5 L909.2 1207.6 L911.2 1208.8 L913.7 1210 L916.9 1211.4 L920.8 1212.9 L925.3 1214.3 L930.4 1215.7 L935.9 1217.1 L941.8 1218.4 L947.8 1219.7 L953.9 1221.1 L960 1222.4 L965.9 1223.7 L971.6 1225.1 L977.1 1226.5 L982.6 1227.8 L988 1229.2 L993.5 1230.6 L999 1231.9 L1004.5 1233.3 L1010 1234.7 L1015.4 1236.1 L1020.9 1237.4 L1026.4 1238.8 L1031.8 1240.2 L1037.1 1241.5 L1042.4 1242.8 L1047.6 1244.1 L1052.9 1245.4 L1058.3 1246.7 L1063.7 1248.1 L1069.3 1249.5 L1075.2 1251 L1081.2 1252.5 L1087.5 1254.1 L1094.2 1255.7 L1101 1257.3 L1108.1 1259 L1115.2 1260.7 L1122.3 1262.5 L1129.4 1264.3 L1136.5 1266.2 L1143.3 1268.1 L1150 1270 L1156.5 1272 L1162.8 1274.1 L1169 1276.2 L1175.2 1278.3 L1181.2 1280.5 L1187.3 1282.7 L1193.3 1285 L1199.4 1287.3 L1205.5 1289.6 L1211.6 1291.9 L1217.8 1294.2 L1223.9 1296.5 L1230.1 1298.8 L1236.2 1301.1 L1242.4 1303.5 L1248.6 1305.9 L1254.7 1308.4 L1260.9 1311 L1267 1313.7 L1273.2 1316.5 L1279.5 1319.5 L1286 1322.8 L1292.7 1326.2 L1299.3 1329.8 L1305.9 1333.3 L1312.4 1336.9 L1318.6 1340.3 L1324.5 1343.6 L1329.9 1346.7 L1334.8 1349.4 L1339.2 1351.8 L1343.1 1354.1 L1346.6 1356.1 L1349.8 1358 L1352.8 1359.8 L1355.5 1361.4 L1358.1 1363 L1360.6 1364.6 L1363.1 1366.2 L1365.6 1367.8 L1368.1 1369.4 L1370.4 1371.1 L1372.5 1372.7 L1374.5 1374.2 L1376.5 1375.8 L1378.4 1377.2 L1380.3 1378.6 L1382.2 1379.9 L1384.1 1381.1 L1386.1 1382.2 L1388.2 1383.2 L1390.2 1384 L1392.3 1384.7 L1394.3 1385.3 L1396.4 1385.9 L1398.5 1386.4 L1400.5 1386.9 L1402.6 1387.4 L1404.6 1387.9 L1406.7 1388.5 L1452.4 1389.2 L1461.2 1390.4 L1470.2 1390 L1479.1 1387 L1487.9 1389.9 L1496.5 1389.5 L1504.9 1389.6 L1512.4 1388.5 L1519 1389.2 L1525.4 1389.3 L1532.4 1390.7 L1540.6 1389.8 L1550.9 1389.4 L1563.8 1390.9 L1578.9 1388.8 L1595.4 1388.9 L1612.1 1387.5 L1628.2 1390.8 L1642.7 1390.2 L1655.5 1390.1 L1667.4 1389.8 L1678.6 1389.2 L1689.5 1389.2 L1700.4 1388.7 L1711.6 1388.7 L1723.1 1389 L1734.6 1390.4 L1746.1 1389.4 L1757.6 1388.8 L1769.1 1388.3 L1780.6 1388.2 L1792.3 1390.4 L1804.4 1389.3 L1816.4 1388.8 L1828.2 1388.4 L1839.3 1387.6 L1849.5 1388.6 L1858.4 1389.5 L1866.3 1388.2 L1873.6 1388.4 L1880.6 1388.4 L1887.8 1388.7 L1895.4 1387 L1903.5 1388.3 L1911.8 1387.7 L1920.1 1389.4 L1928.6 1387.7 L1937 1389 L1945.4 1390" fill="none" stroke="#64a632" stroke-width="5.8" stroke-linejoin="round" stroke-linecap="butt"/>
</g>
<rect x="1225.7" y="119.5" width="660.8" height="830.2" fill="#fdfcfa"/>
<g stroke="#2a2623" fill="none">
<path d="M1357.9 949.7 V939.7 M1357.9 119.5 V129.5" stroke-width="2.2"/>
<path d="M1490 949.7 V939.7 M1490 119.5 V129.5" stroke-width="2.2"/>
<path d="M1622.2 949.7 V939.7 M1622.2 119.5 V129.5" stroke-width="2.2"/>
<path d="M1754.3 949.7 V939.7 M1754.3 119.5 V129.5" stroke-width="2.2"/>
<path d="M1225.7 831.1 H1235.7 M1886.5 831.1 H1876.5" stroke-width="2.2"/>
<path d="M1225.7 712.5 H1235.7 M1886.5 712.5 H1876.5" stroke-width="2.2"/>
<path d="M1225.7 593.9 H1235.7 M1886.5 593.9 H1876.5" stroke-width="2.2"/>
<path d="M1225.7 475.3 H1235.7 M1886.5 475.3 H1876.5" stroke-width="2.2"/>
<path d="M1225.7 356.7 H1235.7 M1886.5 356.7 H1876.5" stroke-width="2.2"/>
<path d="M1225.7 238.1 H1235.7 M1886.5 238.1 H1876.5" stroke-width="2.2"/>
<rect x="1225.7" y="119.5" width="660.8" height="830.2" stroke-width="2.5"/>
</g>
<path d="M1226.7 763.7 L1228.3 763.5 L1229.9 763.8 L1231.5 763.7 L1233.1 762.5 L1234.7 762.4 L1236.3 764.9 L1237.9 764.8 L1239.5 762.7 L1241.1 762.5 L1242.7 762.9 L1244.3 762.7 L1245.9 761.3 L1247.5 761.2 L1249.1 761.2 L1250.7 761.1 L1252.3 763.2 L1253.9 763 L1255.5 762 L1257.1 761.9 L1258.7 761.1 L1260.3 760.9 L1261.9 759.8 L1263.5 759.6 L1265.1 762 L1266.7 761.9 L1268.3 759.6 L1269.9 759.5 L1271.5 759.7 L1273.1 759.6 L1274.7 759.7 L1276.3 759.6 L1277.9 759.9 L1279.5 759.7 L1281.1 759.3 L1282.7 759.2 L1284.3 759 L1285.9 758.8 L1287.5 760.5 L1289.1 760.3 L1290.7 758.5 L1292.3 758.4 L1293.9 758.5 L1295.5 758.4 L1297.1 756.6 L1298.7 756.5 L1300.3 758.2 L1301.9 758.1 L1303.5 755.8 L1305.1 755.7 L1306.7 756.5 L1308.3 756.3 L1309.9 758.8 L1311.5 758.7 L1313.1 755.8 L1314.7 755.7 L1316.3 756.2 L1317.9 756.1 L1319.5 755 L1321.1 754.9 L1322.7 754.7 L1324.3 754.6 L1325.9 756.4 L1327.5 756.3 L1329.1 754.7 L1330.7 754.6 L1332.3 754.7 L1333.9 754.5 L1335.5 754.1 L1337.1 753.9 L1338.7 752.7 L1340.3 752.5 L1341.9 753.4 L1343.5 753.2 L1345.1 754.1 L1346.7 753.8 L1348.3 752 L1349.9 751.7 L1351.5 752.5 L1353.1 752.2 L1354.7 752.5 L1356.3 752.2 L1357.9 749.9 L1359.5 749.6 L1361.1 751.2 L1362.7 750.8 L1364.3 748.1 L1365.9 747.8 L1367.5 749.7 L1369.1 749.4 L1370.7 748.2 L1372.3 747.8 L1373.9 746.8 L1375.5 746.5 L1377.1 747 L1378.7 746.7 L1380.3 745.9 L1381.9 745.6 L1383.5 744.3 L1385.1 744 L1386.7 746 L1388.3 745.7 L1389.9 745.4 L1391.5 745 L1393.1 742.8 L1394.7 742.4 L1396.3 742.6 L1397.9 742.3 L1399.5 741.8 L1401.1 741.5 L1402.7 741.4 L1404.3 741 L1405.9 739.8 L1407.5 739.4 L1409.1 741 L1410.7 740.7 L1412.3 739.6 L1413.9 739.2 L1415.5 738 L1417.1 737.7 L1418.7 737.8 L1420.3 737.5 L1421.9 736.9 L1423.5 736.6 L1425.1 736.8 L1426.7 736.5 L1428.3 736.9 L1429.9 736.5 L1431.5 736.2 L1433.1 735.9 L1434.7 734.1 L1436.3 733.7 L1437.9 734.4 L1439.5 734.1 L1441.1 732.9 L1442.7 732.6 L1444.3 731.6 L1445.9 731.3 L1447.5 731.5 L1449.1 731.2 L1450.7 731.8 L1452.3 731.5 L1453.9 729.9 L1455.5 729.6 L1457.1 730.1 L1458.7 729.8 L1460.3 730.5 L1461.9 730.2 L1463.5 729 L1465.1 728.7 L1466.7 728.4 L1468.3 728.1 L1469.9 727.6 L1471.5 727.4 L1473.1 726.3 L1474.7 726.1 L1476.3 727.2 L1477.9 726.9 L1479.5 726.9 L1481.1 726.7 L1482.7 726.5 L1484.3 726.3 L1485.9 725.1 L1487.5 724.8 L1489.1 724.6 L1490.7 724.4 L1492.3 725.7 L1493.9 725.5 L1495.5 723.7 L1497.1 723.5 L1498.7 723.8 L1500.3 723.6 L1501.9 721.1 L1503.5 720.9 L1505.1 722.3 L1506.7 722 L1508.3 721.8 L1509.9 721.6 L1511.5 721 L1513.1 720.7 L1514.7 723.1 L1516.3 722.9 L1517.9 721 L1519.5 720.8 L1521.1 719.2 L1522.7 719 L1524.3 720.5 L1525.9 720.2 L1527.5 720 L1529.1 719.7 L1530.7 719.5 L1532.3 719.3 L1533.9 720.3 L1535.5 720 L1537.1 718.5 L1538.7 718.3 L1540.3 718.1 L1541.9 717.9 L1543.5 717 L1545.1 716.8 L1546.7 716.2 L1548.3 716 L1549.9 716.6 L1551.5 716.3 L1553.1 716 L1554.7 715.7 L1556.3 714.8 L1557.9 714.5 L1559.5 714.6 L1561.1 714.3 L1562.7 714.5 L1564.3 714.2 L1565.9 714 L1567.5 713.7 L1569.1 712.8 L1570.7 712.4 L1572.3 710.8 L1573.9 710.4 L1575.5 712 L1577.1 711.6 L1578.7 710.7 L1580.3 710.3 L1581.9 709.4 L1583.5 709 L1585.1 708.9 L1586.7 708.4 L1588.3 707.3 L1589.9 706.8 L1591.5 707.6 L1593.1 707.1 L1594.7 706 L1596.3 705.5 L1597.9 703.9 L1599.5 703.4 L1601.1 704.6 L1602.7 704.1 L1604.3 703.8 L1605.9 703.4 L1607.5 702.4 L1609.1 702 L1610.7 702.2 L1612.3 701.9 L1613.9 699.8 L1615.5 699.5 L1617.1 701.6 L1618.7 701.3 L1620.3 700.1 L1621.9 699.9 L1623.5 700.2 L1625.1 700 L1626.7 696.6 L1628.3 696.4 L1629.9 697 L1631.5 696.8 L1633.1 697.4 L1634.7 697.1 L1636.3 697.1 L1637.9 696.9 L1639.5 698.6 L1641.1 698.3 L1642.7 696.4 L1644.3 696.2 L1645.9 694.9 L1647.5 694.7 L1649.1 695.9 L1650.7 695.7 L1652.3 695.1 L1653.9 694.8 L1655.5 693.8 L1657.1 693.5 L1658.7 694.5 L1660.3 694.2 L1661.9 694.2 L1663.5 693.9 L1665.1 692.4 L1666.7 692.1 L1668.3 691.1 L1669.9 690.8 L1671.5 691.9 L1673.1 691.6 L1674.7 691.1 L1676.3 690.8 L1677.9 689.8 L1679.5 689.5 L1681.1 688.8 L1682.7 688.4 L1684.3 688.6 L1685.9 688.3 L1687.5 688.6 L1689.1 688.3 L1690.7 687.6 L1692.3 687.3 L1693.9 684.5 L1695.5 684.1 L1697.1 686.8 L1698.7 686.4 L1700.3 687.2 L1701.9 686.8 L1703.5 685.3 L1705.1 684.9 L1706.7 685 L1708.3 684.7 L1709.9 683.6 L1711.5 683.3 L1713.1 684.7 L1714.7 684.4 L1716.3 682.3 L1717.9 681.9 L1719.5 682.8 L1721.1 682.5 L1722.7 682.3 L1724.3 681.9 L1725.9 680 L1727.5 679.7 L1729.1 680.2 L1730.7 679.8 L1732.3 677.3 L1733.9 677 L1735.5 678.2 L1737.1 677.8 L1738.7 675.8 L1740.3 675.4 L1741.9 676.8 L1743.5 676.4 L1745.1 675.2 L1746.7 674.8 L1748.3 674.6 L1749.9 674.2 L1751.5 673.2 L1753.1 672.8 L1754.7 673.4 L1756.3 673 L1757.9 673.1 L1759.5 672.7 L1761.1 670.9 L1762.7 670.5 L1764.3 670.7 L1765.9 670.3 L1767.5 669.7 L1769.1 669.4 L1770.7 670.7 L1772.3 670.4 L1773.9 670.8 L1775.5 670.5 L1777.1 668.7 L1778.7 668.5 L1780.3 668 L1781.9 667.8 L1783.5 668 L1785.1 668 L1786.7 667.3 L1788.3 667.7 L1789.9 667.9 L1791.5 669 L1793.1 671.1 L1794.7 672.3 L1796.3 673.9 L1797.9 674.2 L1799.5 673.7 L1801.1 673.6 L1802.7 672.9 L1804.3 672.6 L1805.9 672.1 L1807.5 671.6 L1809.1 672.1 L1810.7 671.6 L1812.3 670.8 L1813.9 670.3 L1815.5 670.7 L1817.1 670.2 L1818.7 668.1 L1820.3 667.6 L1821.9 670.3 L1823.5 669.8 L1825.1 667 L1826.7 666.6 L1828.3 668.1 L1829.9 667.7 L1831.5 665.2 L1833.1 665 L1834.7 665.5 L1836.3 665.4 L1837.9 664.5 L1839.5 664.7 L1841.1 667 L1842.7 667.5 L1844.3 667.2 L1845.9 668.1 L1847.5 669 L1849.1 670.2 L1850.7 671.2 L1852.3 672.6 L1853.9 673.2 L1855.5 674.5 L1857.1 676.4 L1858.7 677.5 L1860.3 677.7 L1861.9 678.4 L1863.5 678.8 L1865.1 679 L1866.7 680.6 L1868.3 680.6 L1869.9 680.4 L1871.5 680.2 L1873.1 679 L1874.7 678.7 L1876.3 677.5 L1877.9 677.1 L1879.5 677.1 L1881.1 676.7 L1882.7 675 L1884.3 674.6 L1885.9 674.8" fill="none" stroke="#2170b6" stroke-width="5" stroke-linejoin="round" stroke-linecap="butt" stroke-miterlimit="2"/>
<path d="M1226.7 563.8 L1228.3 563.6 L1229.9 563.1 L1231.5 563 L1233.1 562.7 L1234.7 562.6 L1236.3 561.7 L1237.9 561.6 L1239.5 563.9 L1241.1 563.8 L1242.7 563.4 L1244.3 563.2 L1245.9 561.7 L1247.5 561.6 L1249.1 561.9 L1250.7 561.8 L1252.3 561.6 L1253.9 561.4 L1255.5 561.2 L1257.1 561.1 L1258.7 560.5 L1260.3 560.4 L1261.9 562.7 L1263.5 562.6 L1265.1 560.7 L1266.7 560.6 L1268.3 561.1 L1269.9 561 L1271.5 560.3 L1273.1 560.2 L1274.7 560.4 L1276.3 560.3 L1277.9 561.1 L1279.5 560.9 L1281.1 559.8 L1282.7 559.7 L1284.3 560.6 L1285.9 560.5 L1287.5 558.8 L1289.1 558.7 L1290.7 559.5 L1292.3 559.4 L1293.9 559.8 L1295.5 559.7 L1297.1 559.2 L1298.7 559 L1300.3 557.9 L1301.9 557.8 L1303.5 557.5 L1305.1 557.4 L1306.7 557.7 L1308.3 557.6 L1309.9 557.3 L1311.5 557.2 L1313.1 557.7 L1314.7 557.6 L1316.3 557.1 L1317.9 557 L1319.5 556.5 L1321.1 556.4 L1322.7 556 L1324.3 555.9 L1325.9 556.1 L1327.5 556 L1329.1 556.9 L1330.7 556.7 L1332.3 556.4 L1333.9 556.3 L1335.5 556.4 L1337.1 556.2 L1338.7 556.6 L1340.3 556.4 L1341.9 555.7 L1343.5 555.6 L1345.1 554.2 L1346.7 554.1 L1348.3 554.8 L1349.9 554.7 L1351.5 553.8 L1353.1 553.7 L1354.7 554.6 L1356.3 554.5 L1357.9 553.1 L1359.5 553 L1361.1 554 L1362.7 553.9 L1364.3 553.9 L1365.9 553.8 L1367.5 554 L1369.1 553.9 L1370.7 553.4 L1372.3 553.2 L1373.9 555 L1375.5 554.8 L1377.1 552.6 L1378.7 552.5 L1380.3 553.3 L1381.9 553.1 L1383.5 552.1 L1385.1 552 L1386.7 551.6 L1388.3 551.5 L1389.9 551.7 L1391.5 551.6 L1393.1 550.8 L1394.7 550.7 L1396.3 551.7 L1397.9 551.6 L1399.5 550.1 L1401.1 550 L1402.7 551.7 L1404.3 551.6 L1405.9 550.8 L1407.5 550.7 L1409.1 551.1 L1410.7 551 L1412.3 549.6 L1413.9 549.5 L1415.5 551.2 L1417.1 551.1 L1418.7 550.8 L1420.3 550.7 L1421.9 550.4 L1423.5 550.3 L1425.1 549.4 L1426.7 549.3 L1428.3 549.8 L1429.9 549.7 L1431.5 549 L1433.1 548.9 L1434.7 549.7 L1436.3 549.6 L1437.9 547.4 L1439.5 547.2 L1441.1 548.4 L1442.7 548.2 L1444.3 549 L1445.9 548.9 L1447.5 548.4 L1449.1 548.3 L1450.7 548.2 L1452.3 548.1 L1453.9 547.9 L1455.5 547.8 L1457.1 547.2 L1458.7 547.1 L1460.3 546.2 L1461.9 546.1 L1463.5 546.9 L1465.1 546.8 L1466.7 546 L1468.3 545.9 L1469.9 545.9 L1471.5 545.7 L1473.1 545.7 L1474.7 545.6 L1476.3 545.5 L1477.9 545.4 L1479.5 544.6 L1481.1 544.4 L1482.7 545.4 L1484.3 545.3 L1485.9 544.8 L1487.5 544.7 L1489.1 545.2 L1490.7 545.1 L1492.3 545.5 L1493.9 545.4 L1495.5 544.3 L1497.1 544.2 L1498.7 543.6 L1500.3 543.5 L1501.9 542.3 L1503.5 542.2 L1505.1 542.9 L1506.7 542.7 L1508.3 542.8 L1509.9 542.6 L1511.5 542.5 L1513.1 542.4 L1514.7 542 L1516.3 541.9 L1517.9 541.4 L1519.5 541.2 L1521.1 542 L1522.7 541.9 L1524.3 541.2 L1525.9 541 L1527.5 541.5 L1529.1 541.4 L1530.7 540 L1532.3 539.8 L1533.9 541 L1535.5 540.8 L1537.1 540.7 L1538.7 540.5 L1540.3 538.7 L1541.9 538.6 L1543.5 539.1 L1545.1 539 L1546.7 538.6 L1548.3 538.5 L1549.9 539.4 L1551.5 539.2 L1553.1 538.5 L1554.7 538.3 L1556.3 537.4 L1557.9 537.3 L1559.5 537.5 L1561.1 537.4 L1562.7 536.9 L1564.3 536.7 L1565.9 536.9 L1567.5 536.8 L1569.1 536.3 L1570.7 536.1 L1572.3 536.4 L1573.9 536.2 L1575.5 536.7 L1577.1 536.6 L1578.7 537.2 L1580.3 537 L1581.9 535.8 L1583.5 535.6 L1585.1 536.2 L1586.7 536 L1588.3 533.2 L1589.9 533 L1591.5 534.7 L1593.1 534.5 L1594.7 534.4 L1596.3 534.2 L1597.9 533.8 L1599.5 533.7 L1601.1 533.1 L1602.7 532.9 L1604.3 531.2 L1605.9 531.1 L1607.5 531.7 L1609.1 531.6 L1610.7 532 L1612.3 531.8 L1613.9 532 L1615.5 531.8 L1617.1 530.8 L1618.7 530.6 L1620.3 531 L1621.9 530.9 L1623.5 531.4 L1625.1 531.3 L1626.7 531.1 L1628.3 530.9 L1629.9 529.9 L1631.5 529.8 L1633.1 530.4 L1634.7 530.2 L1636.3 529.1 L1637.9 528.9 L1639.5 529 L1641.1 528.8 L1642.7 529.3 L1644.3 529.1 L1645.9 528.5 L1647.5 528.3 L1649.1 528 L1650.7 527.8 L1652.3 527.1 L1653.9 526.9 L1655.5 527.2 L1657.1 527 L1658.7 527.2 L1660.3 527 L1661.9 525.8 L1663.5 525.6 L1665.1 525.7 L1666.7 525.4 L1668.3 524.9 L1669.9 524.7 L1671.5 524.5 L1673.1 524.2 L1674.7 524.4 L1676.3 524.1 L1677.9 523.1 L1679.5 522.8 L1681.1 523.2 L1682.7 522.9 L1684.3 521.1 L1685.9 520.7 L1687.5 520.2 L1689.1 519.8 L1690.7 521.9 L1692.3 521.5 L1693.9 520.4 L1695.5 520 L1697.1 519.2 L1698.7 518.8 L1700.3 518 L1701.9 517.6 L1703.5 518.3 L1705.1 517.8 L1706.7 516.2 L1708.3 515.7 L1709.9 515.6 L1711.5 515.1 L1713.1 514.9 L1714.7 514.4 L1716.3 514.7 L1717.9 514.3 L1719.5 512.5 L1721.1 512.2 L1722.7 511.8 L1724.3 511.5 L1725.9 511.3 L1727.5 511 L1729.1 511.1 L1730.7 510.8 L1732.3 511.3 L1733.9 511.1 L1735.5 509.5 L1737.1 509.3 L1738.7 510.4 L1740.3 510.3 L1741.9 508.9 L1743.5 508.7 L1745.1 509.7 L1746.7 509.5 L1748.3 508 L1749.9 507.8 L1751.5 508 L1753.1 507.9 L1754.7 508.8 L1756.3 508.6 L1757.9 508.3 L1759.5 508.2 L1761.1 508.6 L1762.7 508.5 L1764.3 508.2 L1765.9 508.1 L1767.5 506.9 L1769.1 506.8 L1770.7 507.2 L1772.3 507.2 L1773.9 508.2 L1775.5 508.1 L1777.1 506.3 L1778.7 506.3 L1780.3 506.8 L1781.9 506.8 L1783.5 507.1 L1785.1 507.1 L1786.7 507.7 L1788.3 507.7 L1789.9 506.9 L1791.5 506.9 L1793.1 507 L1794.7 507 L1796.3 506.3 L1797.9 506.4 L1799.5 507.6 L1801.1 507.7 L1802.7 506.7 L1804.3 506.8 L1805.9 508.9 L1807.5 509 L1809.1 507.7 L1810.7 507.8 L1812.3 508.2 L1813.9 508.3 L1815.5 507.7 L1817.1 507.8 L1818.7 508 L1820.3 508.1 L1821.9 508.9 L1823.5 509 L1825.1 508.3 L1826.7 508.4 L1828.3 508.8 L1829.9 509 L1831.5 509 L1833.1 509.2 L1834.7 509.7 L1836.3 509.9 L1837.9 510 L1839.5 510.2 L1841.1 510 L1842.7 510.2 L1844.3 511 L1845.9 511.2 L1847.5 511.8 L1849.1 511.9 L1850.7 510.7 L1852.3 510.9 L1853.9 511.1 L1855.5 511.3 L1857.1 511.6 L1858.7 511.8 L1860.3 512 L1861.9 512.3 L1863.5 512.7 L1865.1 513 L1866.7 513.8 L1868.3 514.2 L1869.9 515 L1871.5 515.4 L1873.1 514.8 L1874.7 515.2 L1876.3 516.3 L1877.9 516.7 L1879.5 517.6 L1881.1 518 L1882.7 518.6 L1884.3 518.9 L1885.9 518.6" fill="none" stroke="#ee5624" stroke-width="5" stroke-linejoin="round" stroke-linecap="butt" stroke-miterlimit="2"/>
<path d="M1226.7 254.6 L1228.3 254.5 L1229.9 254.5 L1231.5 252.1 L1233.1 252 L1234.7 252 L1236.3 252.1 L1237.9 252.1 L1239.5 252.1 L1241.1 251.1 L1242.7 251.1 L1244.3 251.1 L1245.9 255.9 L1247.5 255.9 L1249.1 255.9 L1250.7 244.5 L1252.3 244.5 L1253.9 244.5 L1255.5 251.5 L1257.1 251.5 L1258.7 251.4 L1260.3 251.4 L1261.9 251.3 L1263.5 251.3 L1265.1 250.1 L1266.7 250 L1268.3 250 L1269.9 257.8 L1271.5 257.8 L1273.1 257.7 L1274.7 251.8 L1276.3 251.8 L1277.9 251.7 L1279.5 250.5 L1281.1 250.4 L1282.7 250.4 L1284.3 242.7 L1285.9 242.7 L1287.5 242.6 L1289.1 248.1 L1290.7 248.1 L1292.3 248 L1293.9 254 L1295.5 254 L1297.1 253.9 L1298.7 255 L1300.3 254.9 L1301.9 254.8 L1303.5 249.2 L1305.1 249.1 L1306.7 249.1 L1308.3 243.9 L1309.9 243.8 L1311.5 243.7 L1313.1 247.8 L1314.7 247.7 L1316.3 247.7 L1317.9 249 L1319.5 249 L1321.1 248.9 L1322.7 248.5 L1324.3 248.4 L1325.9 248.3 L1327.5 250.2 L1329.1 250.1 L1330.7 249.9 L1332.3 255.4 L1333.9 255.3 L1335.5 255.1 L1337.1 244 L1338.7 243.8 L1340.3 243.6 L1341.9 252.5 L1343.5 252.3 L1345.1 252.1 L1346.7 249.2 L1348.3 249 L1349.9 248.8 L1351.5 243 L1353.1 242.7 L1354.7 242.5 L1356.3 247.8 L1357.9 247.5 L1359.5 247.3 L1361.1 249.3 L1362.7 249 L1364.3 248.8 L1365.9 237.1 L1367.5 236.8 L1369.1 236.6 L1370.7 241.1 L1372.3 240.8 L1373.9 240.6 L1375.5 238 L1377.1 237.7 L1378.7 237.4 L1380.3 241.9 L1381.9 241.7 L1383.5 241.4 L1385.1 241.6 L1386.7 241.3 L1388.3 241 L1389.9 237.4 L1391.5 237.1 L1393.1 236.8 L1394.7 243.4 L1396.3 243.1 L1397.9 242.8 L1399.5 246 L1401.1 245.7 L1402.7 245.4 L1404.3 237.6 L1405.9 237.3 L1407.5 237 L1409.1 239.1 L1410.7 238.8 L1412.3 238.5 L1413.9 235.6 L1415.5 235.3 L1417.1 235.1 L1418.7 235.4 L1420.3 235.1 L1421.9 234.9 L1423.5 230.2 L1425.1 229.9 L1426.7 229.7 L1428.3 231.8 L1429.9 231.6 L1431.5 231.3 L1433.1 236.9 L1434.7 236.6 L1436.3 236.4 L1437.9 228.5 L1439.5 228.3 L1441.1 228 L1442.7 235.9 L1444.3 235.6 L1445.9 235.4 L1447.5 235.6 L1449.1 235.3 L1450.7 235.1 L1452.3 223.5 L1453.9 223.2 L1455.5 223 L1457.1 224.1 L1458.7 223.9 L1460.3 223.6 L1461.9 234.1 L1463.5 233.9 L1465.1 233.6 L1466.7 225.3 L1468.3 225.1 L1469.9 224.8 L1471.5 223.2 L1473.1 222.9 L1474.7 222.6 L1476.3 217.5 L1477.9 217.2 L1479.5 216.9 L1481.1 224.6 L1482.7 224.3 L1484.3 224.1 L1485.9 226.3 L1487.5 226 L1489.1 225.7 L1490.7 219.7 L1492.3 219.4 L1493.9 219.1 L1495.5 210.5 L1497.1 210.2 L1498.7 210 L1500.3 227.1 L1501.9 226.8 L1503.5 226.5 L1505.1 213.8 L1506.7 213.5 L1508.3 213.2 L1509.9 219 L1511.5 218.7 L1513.1 218.5 L1514.7 221.8 L1516.3 221.5 L1517.9 221.2 L1519.5 222.6 L1521.1 222.3 L1522.7 222 L1524.3 222.1 L1525.9 221.8 L1527.5 221.5 L1529.1 216.8 L1530.7 216.6 L1532.3 216.3 L1533.9 216.5 L1535.5 216.3 L1537.1 216 L1538.7 214.4 L1540.3 214.2 L1541.9 214 L1543.5 208.2 L1545.1 208 L1546.7 207.7 L1548.3 207.2 L1549.9 206.9 L1551.5 206.7 L1553.1 213.9 L1554.7 213.6 L1556.3 213.4 L1557.9 208.6 L1559.5 208.4 L1561.1 208.2 L1562.7 209.5 L1564.3 209.3 L1565.9 209.1 L1567.5 205.5 L1569.1 205.3 L1570.7 205.1 L1572.3 211.1 L1573.9 211 L1575.5 210.8 L1577.1 211.7 L1578.7 211.6 L1580.3 211.5 L1581.9 211.7 L1583.5 211.7 L1585.1 211.6 L1586.7 207.6 L1588.3 207.6 L1589.9 207.6 L1591.5 199.9 L1593.1 199.9 L1594.7 199.9 L1596.3 215.6 L1597.9 215.7 L1599.5 215.7 L1601.1 204.4 L1602.7 204.6 L1604.3 204.7 L1605.9 213.7 L1607.5 213.8 L1609.1 214 L1610.7 212.6 L1612.3 212.8 L1613.9 213 L1615.5 222.4 L1617.1 222.6 L1618.7 222.7 L1620.3 207.2 L1621.9 207.4 L1623.5 207.6 L1625.1 218.2 L1626.7 218.4 L1628.3 218.6 L1629.9 211.6 L1631.5 211.8 L1633.1 212.1 L1634.7 213.4 L1636.3 213.7 L1637.9 214 L1639.5 213.4 L1641.1 213.7 L1642.7 214 L1644.3 214.5 L1645.9 214.8 L1647.5 215.1 L1649.1 214.2 L1650.7 214.4 L1652.3 214.7 L1653.9 215.3 L1655.5 215.5 L1657.1 215.8 L1658.7 224.1 L1660.3 224.4 L1661.9 224.7 L1663.5 214.3 L1665.1 214.6 L1666.7 214.9 L1668.3 225.1 L1669.9 225.4 L1671.5 225.7 L1673.1 216.8 L1674.7 217.1 L1676.3 217.4 L1677.9 224.1 L1679.5 224.4 L1681.1 224.7 L1682.7 224.1 L1684.3 224.4 L1685.9 224.7 L1687.5 215.2 L1689.1 215.5 L1690.7 215.8 L1692.3 222.7 L1693.9 223 L1695.5 223.3 L1697.1 226.1 L1698.7 226.4 L1700.3 226.7 L1701.9 221.1 L1703.5 221.4 L1705.1 221.7 L1706.7 229.6 L1708.3 229.9 L1709.9 230.1 L1711.5 220.5 L1713.1 220.8 L1714.7 221.1 L1716.3 216 L1717.9 216.3 L1719.5 216.6 L1721.1 224.2 L1722.7 224.5 L1724.3 224.8 L1725.9 229.8 L1727.5 230.1 L1729.1 230.4 L1730.7 232.2 L1732.3 232.5 L1733.9 232.7 L1735.5 231.4 L1737.1 231.7 L1738.7 231.9 L1740.3 232.9 L1741.9 233.2 L1743.5 233.5 L1745.1 238.2 L1746.7 238.5 L1748.3 238.7 L1749.9 233.2 L1751.5 233.4 L1753.1 233.7 L1754.7 232.1 L1756.3 232.3 L1757.9 232.6 L1759.5 237.7 L1761.1 238 L1762.7 238.2 L1764.3 236.9 L1765.9 237.2 L1767.5 237.5 L1769.1 247.7 L1770.7 248 L1772.3 248.2 L1773.9 236.6 L1775.5 236.9 L1777.1 237.1 L1778.7 233.9 L1780.3 234.2 L1781.9 234.4 L1783.5 242 L1785.1 242.3 L1786.7 242.6 L1788.3 234.6 L1789.9 234.9 L1791.5 235.1 L1793.1 248.1 L1794.7 248.4 L1796.3 248.7 L1797.9 240.6 L1799.5 241 L1801.1 241.4 L1802.7 237.7 L1804.3 238.2 L1805.9 238.6 L1807.5 245.9 L1809.1 246.2 L1810.7 246.5 L1812.3 242.1 L1813.9 242.3 L1815.5 242.5 L1817.1 242.6 L1818.7 242.7 L1820.3 242.8 L1821.9 246.5 L1823.5 246.5 L1825.1 246.6 L1826.7 254.6 L1828.3 254.7 L1829.9 254.7 L1831.5 244.7 L1833.1 244.8 L1834.7 244.8 L1836.3 248.2 L1837.9 248.2 L1839.5 248.2 L1841.1 259 L1842.7 259.1 L1844.3 259.1 L1845.9 248.2 L1847.5 248.2 L1849.1 248.2 L1850.7 241.5 L1852.3 241.5 L1853.9 241.6 L1855.5 245.8 L1857.1 245.8 L1858.7 245.8 L1860.3 244.8 L1861.9 244.8 L1863.5 244.8 L1865.1 250.5 L1866.7 250.5 L1868.3 250.5 L1869.9 246.3 L1871.5 246.3 L1873.1 246.4 L1874.7 242.2 L1876.3 242.2 L1877.9 242.3 L1879.5 242.1 L1881.1 242.1 L1882.7 242.1 L1884.3 247.5 L1885.9 247.5" fill="none" stroke="#fcad17" stroke-width="11.5" stroke-linejoin="miter" stroke-linecap="butt" stroke-miterlimit="2"/>
<path d="M1226.7 443.3 L1228.3 443.1 L1229.9 442.6 L1231.5 442.4 L1233.1 443.3 L1234.7 443.1 L1236.3 442 L1237.9 441.8 L1239.5 441 L1241.1 440.8 L1242.7 441.3 L1244.3 441.1 L1245.9 440.4 L1247.5 440.3 L1249.1 441.3 L1250.7 441.2 L1252.3 439.7 L1253.9 439.6 L1255.5 438.5 L1257.1 438.4 L1258.7 440.9 L1260.3 440.8 L1261.9 440.3 L1263.5 440.3 L1265.1 440.6 L1266.7 440.6 L1268.3 442.1 L1269.9 442.2 L1271.5 439.6 L1273.1 439.7 L1274.7 440.5 L1276.3 440.6 L1277.9 440.3 L1279.5 440.3 L1281.1 438.3 L1282.7 438.3 L1284.3 440.1 L1285.9 440.2 L1287.5 438.8 L1289.1 438.9 L1290.7 440.6 L1292.3 440.6 L1293.9 439.5 L1295.5 439.5 L1297.1 439.5 L1298.7 439.5 L1300.3 442 L1301.9 442 L1303.5 440.1 L1305.1 440 L1306.7 440 L1308.3 439.9 L1309.9 440.4 L1311.5 440.3 L1313.1 437.6 L1314.7 437.5 L1316.3 438.6 L1317.9 438.4 L1319.5 438.4 L1321.1 438.3 L1322.7 439.4 L1324.3 439.3 L1325.9 439.1 L1327.5 439.1 L1329.1 438.2 L1330.7 438.3 L1332.3 440.8 L1333.9 441 L1335.5 438.9 L1337.1 439.2 L1338.7 439.2 L1340.3 439.6 L1341.9 441.8 L1343.5 442.1 L1345.1 441.4 L1346.7 441.7 L1348.3 441.7 L1349.9 441.9 L1351.5 441.6 L1353.1 441.7 L1354.7 442.4 L1356.3 442.4 L1357.9 442.6 L1359.5 442.6 L1361.1 442.4 L1362.7 442.4 L1364.3 443.6 L1365.9 443.5 L1367.5 444.9 L1369.1 444.8 L1370.7 444.1 L1372.3 444 L1373.9 443 L1375.5 442.9 L1377.1 442.1 L1378.7 441.9 L1380.3 441.7 L1381.9 441.6 L1383.5 442.5 L1385.1 442.4 L1386.7 441 L1388.3 440.9 L1389.9 440.9 L1391.5 440.8 L1393.1 439.7 L1394.7 439.5 L1396.3 441 L1397.9 440.9 L1399.5 440.1 L1401.1 440 L1402.7 439.4 L1404.3 439.3 L1405.9 441.2 L1407.5 441.1 L1409.1 441.4 L1410.7 441.3 L1412.3 439.2 L1413.9 439.1 L1415.5 438 L1417.1 437.9 L1418.7 438 L1420.3 437.9 L1421.9 438.8 L1423.5 438.7 L1425.1 439 L1426.7 438.9 L1428.3 439.3 L1429.9 439.2 L1431.5 437.9 L1433.1 437.8 L1434.7 437.2 L1436.3 437.2 L1437.9 437.2 L1439.5 437.1 L1441.1 438.6 L1442.7 438.5 L1444.3 436.9 L1445.9 436.8 L1447.5 436.8 L1449.1 436.7 L1450.7 435.5 L1452.3 435.4 L1453.9 436.8 L1455.5 436.7 L1457.1 437.5 L1458.7 437.4 L1460.3 437.3 L1461.9 437.2 L1463.5 436.9 L1465.1 436.8 L1466.7 437.8 L1468.3 437.7 L1469.9 437.8 L1471.5 437.7 L1473.1 436.3 L1474.7 436.2 L1476.3 435.7 L1477.9 435.6 L1479.5 434.5 L1481.1 434.4 L1482.7 436 L1484.3 435.9 L1485.9 433.2 L1487.5 433.1 L1489.1 435.9 L1490.7 435.8 L1492.3 435.1 L1493.9 435 L1495.5 435.5 L1497.1 435.4 L1498.7 435.5 L1500.3 435.4 L1501.9 435.1 L1503.5 435 L1505.1 435 L1506.7 434.9 L1508.3 433.3 L1509.9 433.2 L1511.5 432.9 L1513.1 432.8 L1514.7 433.2 L1516.3 433.1 L1517.9 434.5 L1519.5 434.4 L1521.1 432.3 L1522.7 432.2 L1524.3 434 L1525.9 433.9 L1527.5 433.4 L1529.1 433.3 L1530.7 431.5 L1532.3 431.4 L1533.9 430.7 L1535.5 430.6 L1537.1 432.9 L1538.7 432.7 L1540.3 433.9 L1541.9 433.8 L1543.5 430.8 L1545.1 430.6 L1546.7 433 L1548.3 432.8 L1549.9 429.7 L1551.5 429.6 L1553.1 432 L1554.7 431.9 L1556.3 429.6 L1557.9 429.5 L1559.5 430.3 L1561.1 430.2 L1562.7 429.5 L1564.3 429.4 L1565.9 430 L1567.5 429.8 L1569.1 430.5 L1570.7 430.4 L1572.3 427.6 L1573.9 427.4 L1575.5 429.8 L1577.1 429.6 L1578.7 429.6 L1580.3 429.5 L1581.9 427.4 L1583.5 427.3 L1585.1 427 L1586.7 426.9 L1588.3 428.8 L1589.9 428.7 L1591.5 427.2 L1593.1 427.1 L1594.7 425.9 L1596.3 425.8 L1597.9 426.6 L1599.5 426.4 L1601.1 424.3 L1602.7 424.2 L1604.3 425.2 L1605.9 425 L1607.5 426.7 L1609.1 426.5 L1610.7 424.2 L1612.3 424 L1613.9 424.5 L1615.5 424.4 L1617.1 425.2 L1618.7 425.1 L1620.3 424.2 L1621.9 424.1 L1623.5 423.6 L1625.1 423.4 L1626.7 423.2 L1628.3 423 L1629.9 425.4 L1631.5 425.2 L1633.1 423.2 L1634.7 423 L1636.3 423 L1637.9 422.8 L1639.5 422.9 L1641.1 422.7 L1642.7 422.8 L1644.3 422.6 L1645.9 420.6 L1647.5 420.3 L1649.1 420.8 L1650.7 420.5 L1652.3 419.1 L1653.9 418.8 L1655.5 417.4 L1657.1 417.1 L1658.7 418.4 L1660.3 418.1 L1661.9 418.5 L1663.5 418.2 L1665.1 418.1 L1666.7 417.8 L1668.3 416.2 L1669.9 415.9 L1671.5 415 L1673.1 414.7 L1674.7 414.6 L1676.3 414.3 L1677.9 415.9 L1679.5 415.3 L1681.1 414.8 L1682.7 413.9 L1684.3 410.9 L1685.9 410.6 L1687.5 411.8 L1689.1 411.7 L1690.7 411.3 L1692.3 411.2 L1693.9 411.9 L1695.5 411.9 L1697.1 411.4 L1698.7 411.4 L1700.3 411.1 L1701.9 411 L1703.5 411.7 L1705.1 411.7 L1706.7 412.4 L1708.3 412.4 L1709.9 411.6 L1711.5 411.6 L1713.1 410.3 L1714.7 410.3 L1716.3 410.2 L1717.9 410.2 L1719.5 409.8 L1721.1 409.8 L1722.7 412.6 L1724.3 412.6 L1725.9 411.4 L1727.5 411.4 L1729.1 410.8 L1730.7 410.8 L1732.3 412.2 L1733.9 412.2 L1735.5 411 L1737.1 411 L1738.7 409.4 L1740.3 409.4 L1741.9 410.2 L1743.5 410.2 L1745.1 411 L1746.7 411 L1748.3 410 L1749.9 410 L1751.5 411.9 L1753.1 411.9 L1754.7 411.5 L1756.3 411.5 L1757.9 410 L1759.5 410 L1761.1 410.2 L1762.7 410.3 L1764.3 410.4 L1765.9 410.5 L1767.5 411.7 L1769.1 411.7 L1770.7 410.5 L1772.3 410.5 L1773.9 411.1 L1775.5 411.1 L1777.1 410.3 L1778.7 410.4 L1780.3 410.4 L1781.9 410.5 L1783.5 410.5 L1785.1 410.6 L1786.7 412.6 L1788.3 412.7 L1789.9 411.4 L1791.5 411.5 L1793.1 411.9 L1794.7 412 L1796.3 412 L1797.9 412.1 L1799.5 413.3 L1801.1 413.3 L1802.7 414.1 L1804.3 414.1 L1805.9 412.7 L1807.5 412.8 L1809.1 413.9 L1810.7 413.9 L1812.3 412 L1813.9 412 L1815.5 413.3 L1817.1 413.3 L1818.7 411.7 L1820.3 411.6 L1821.9 412.1 L1823.5 412 L1825.1 411.5 L1826.7 411.4 L1828.3 411.3 L1829.9 411.2 L1831.5 412 L1833.1 411.9 L1834.7 409.4 L1836.3 409.3 L1837.9 410.7 L1839.5 410.6 L1841.1 409.9 L1842.7 409.8 L1844.3 409.6 L1845.9 409.4 L1847.5 410.5 L1849.1 410.3 L1850.7 410.5 L1852.3 410.3 L1853.9 408.3 L1855.5 408.1 L1857.1 409.8 L1858.7 409.7 L1860.3 410.2 L1861.9 410.1 L1863.5 407.9 L1865.1 407.7 L1866.7 410.2 L1868.3 410.1 L1869.9 407.7 L1871.5 407.5 L1873.1 407.5 L1874.7 407.4 L1876.3 406.3 L1877.9 406.1 L1879.5 406.3 L1881.1 406.2 L1882.7 408.2 L1884.3 408.1 L1885.9 407" fill="none" stroke="#8e2b83" stroke-width="5" stroke-linejoin="round" stroke-linecap="butt" stroke-miterlimit="2"/>
<path d="M1226.7 917.4 L1228.3 917.3 L1229.9 917.1 L1231.5 914.4 L1233.1 914.3 L1234.7 914.1 L1236.3 916.7 L1237.9 916.5 L1239.5 916.4 L1241.1 916.5 L1242.7 916.4 L1244.3 916.3 L1245.9 919 L1247.5 918.9 L1249.1 918.8 L1250.7 907 L1252.3 906.8 L1253.9 906.7 L1255.5 924.1 L1257.1 923.9 L1258.7 923.8 L1260.3 908.8 L1261.9 908.7 L1263.5 908.5 L1265.1 907.6 L1266.7 907.4 L1268.3 907.3 L1269.9 910.2 L1271.5 910.1 L1273.1 910 L1274.7 908.2 L1276.3 908 L1277.9 907.9 L1279.5 906.7 L1281.1 906.5 L1282.7 906.4 L1284.3 909.4 L1285.9 909.2 L1287.5 909.1 L1289.1 910.3 L1290.7 910.2 L1292.3 910 L1293.9 913.7 L1295.5 913.5 L1297.1 913.4 L1298.7 903.8 L1300.3 903.6 L1301.9 903.5 L1303.5 909.2 L1305.1 909.1 L1306.7 908.9 L1308.3 906.6 L1309.9 906.4 L1311.5 906.2 L1313.1 900.2 L1314.7 900 L1316.3 899.8 L1317.9 901.3 L1319.5 901.1 L1321.1 901 L1322.7 902.9 L1324.3 902.8 L1325.9 902.6 L1327.5 906 L1329.1 905.8 L1330.7 905.6 L1332.3 905.4 L1333.9 905.2 L1335.5 905.1 L1337.1 899.7 L1338.7 899.6 L1340.3 899.4 L1341.9 901.4 L1343.5 901.2 L1345.1 901.1 L1346.7 907.2 L1348.3 907 L1349.9 906.9 L1351.5 905.1 L1353.1 904.9 L1354.7 904.8 L1356.3 910.7 L1357.9 910.6 L1359.5 910.4 L1361.1 896.1 L1362.7 896 L1364.3 895.8 L1365.9 908.2 L1367.5 908 L1369.1 907.9 L1370.7 899.8 L1372.3 899.7 L1373.9 899.6 L1375.5 901.3 L1377.1 901.2 L1378.7 901.1 L1380.3 900.8 L1381.9 900.7 L1383.5 900.6 L1385.1 894.3 L1386.7 894.2 L1388.3 894.1 L1389.9 906.9 L1391.5 906.8 L1393.1 906.7 L1394.7 894.6 L1396.3 894.5 L1397.9 894.4 L1399.5 895.3 L1401.1 895.2 L1402.7 895.1 L1404.3 900.6 L1405.9 900.5 L1407.5 900.4 L1409.1 901.2 L1410.7 901 L1412.3 900.9 L1413.9 895.2 L1415.5 895.1 L1417.1 895 L1418.7 897.5 L1420.3 897.4 L1421.9 897.3 L1423.5 897.7 L1425.1 897.6 L1426.7 897.5 L1428.3 897.2 L1429.9 897.1 L1431.5 897 L1433.1 895.8 L1434.7 895.7 L1436.3 895.6 L1437.9 892.7 L1439.5 892.6 L1441.1 892.5 L1442.7 901.6 L1444.3 901.5 L1445.9 901.3 L1447.5 892.7 L1449.1 892.6 L1450.7 892.5 L1452.3 899 L1453.9 898.8 L1455.5 898.7 L1457.1 892.9 L1458.7 892.7 L1460.3 892.6 L1461.9 898.3 L1463.5 898.2 L1465.1 898 L1466.7 899.6 L1468.3 899.5 L1469.9 899.4 L1471.5 894.3 L1473.1 894.1 L1474.7 894 L1476.3 904.6 L1477.9 904.5 L1479.5 904.3 L1481.1 892.1 L1482.7 891.9 L1484.3 891.8 L1485.9 898.4 L1487.5 898.2 L1489.1 898 L1490.7 888.1 L1492.3 887.9 L1493.9 887.7 L1495.5 894.7 L1497.1 894.5 L1498.7 894.3 L1500.3 888.9 L1501.9 888.7 L1503.5 888.5 L1505.1 884.6 L1506.7 884.4 L1508.3 884.2 L1509.9 892.1 L1511.5 891.8 L1513.1 891.6 L1514.7 891 L1516.3 890.8 L1517.9 890.5 L1519.5 896 L1521.1 895.8 L1522.7 895.5 L1524.3 886.3 L1525.9 886 L1527.5 885.8 L1529.1 878.4 L1530.7 878.2 L1532.3 877.9 L1533.9 888.1 L1535.5 887.8 L1537.1 887.6 L1538.7 886.3 L1540.3 886.1 L1541.9 885.9 L1543.5 881 L1545.1 880.7 L1546.7 880.5 L1548.3 883.8 L1549.9 883.5 L1551.5 883.3 L1553.1 881.9 L1554.7 881.7 L1556.3 881.5 L1557.9 890.6 L1559.5 890.5 L1561.1 890.3 L1562.7 874.7 L1564.3 874.5 L1565.9 874.4 L1567.5 884.6 L1569.1 884.4 L1570.7 884.2 L1572.3 878.2 L1573.9 878 L1575.5 877.9 L1577.1 877.5 L1578.7 877.4 L1580.3 877.3 L1581.9 884.1 L1583.5 884 L1585.1 883.9 L1586.7 873.8 L1588.3 873.8 L1589.9 873.7 L1591.5 891 L1593.1 891 L1594.7 890.9 L1596.3 880.7 L1597.9 880.6 L1599.5 880.6 L1601.1 878.4 L1602.7 878.4 L1604.3 878.3 L1605.9 870.9 L1607.5 870.9 L1609.1 870.9 L1610.7 876.7 L1612.3 876.7 L1613.9 876.6 L1615.5 879.8 L1617.1 879.8 L1618.7 879.8 L1620.3 870.2 L1621.9 870.1 L1623.5 870.1 L1625.1 883.4 L1626.7 883.3 L1628.3 883.3 L1629.9 878.5 L1631.5 878.4 L1633.1 878.4 L1634.7 883.2 L1636.3 883.2 L1637.9 883.1 L1639.5 870.4 L1641.1 870.4 L1642.7 870.4 L1644.3 875.6 L1645.9 875.6 L1647.5 875.6 L1649.1 873.3 L1650.7 873.2 L1652.3 873.2 L1653.9 883.7 L1655.5 883.6 L1657.1 883.6 L1658.7 875.1 L1660.3 875 L1661.9 874.9 L1663.5 873.9 L1665.1 873.8 L1666.7 873.7 L1668.3 877.9 L1669.9 877.8 L1671.5 877.7 L1673.1 884.1 L1674.7 884 L1676.3 883.9 L1677.9 875.2 L1679.5 875.1 L1681.1 875 L1682.7 875.5 L1684.3 875.4 L1685.9 875.2 L1687.5 871.9 L1689.1 871.7 L1690.7 871.5 L1692.3 878.4 L1693.9 878.2 L1695.5 878.1 L1697.1 874.7 L1698.7 874.5 L1700.3 874.3 L1701.9 870.2 L1703.5 870 L1705.1 869.8 L1706.7 869.3 L1708.3 869.1 L1709.9 869 L1711.5 877.9 L1713.1 877.8 L1714.7 877.6 L1716.3 873.5 L1717.9 873.3 L1719.5 873.1 L1721.1 870.6 L1722.7 870.4 L1724.3 870.2 L1725.9 877.5 L1727.5 877.3 L1729.1 877.1 L1730.7 869.5 L1732.3 869.3 L1733.9 869.1 L1735.5 868.5 L1737.1 868.3 L1738.7 868.1 L1740.3 865.1 L1741.9 864.9 L1743.5 864.8 L1745.1 867.2 L1746.7 867 L1748.3 866.9 L1749.9 874.2 L1751.5 874.1 L1753.1 873.9 L1754.7 867.2 L1756.3 867 L1757.9 866.9 L1759.5 869.2 L1761.1 869.1 L1762.7 868.9 L1764.3 851.9 L1765.9 851.8 L1767.5 851.7 L1769.1 868.8 L1770.7 868.7 L1772.3 868.6 L1773.9 865.7 L1775.5 865.7 L1777.1 865.6 L1778.7 864.8 L1780.3 864.7 L1781.9 864.7 L1783.5 872.2 L1785.1 872.2 L1786.7 872.1 L1788.3 865.7 L1789.9 865.7 L1791.5 865.6 L1793.1 868.7 L1794.7 868.7 L1796.3 868.6 L1797.9 863.5 L1799.5 863.5 L1801.1 863.4 L1802.7 865.1 L1804.3 865 L1805.9 865 L1807.5 870.9 L1809.1 870.8 L1810.7 870.8 L1812.3 876.2 L1813.9 876.1 L1815.5 876.1 L1817.1 864.8 L1818.7 864.7 L1820.3 864.6 L1821.9 867.1 L1823.5 866.9 L1825.1 866.8 L1826.7 859.7 L1828.3 859.6 L1829.9 859.5 L1831.5 858.1 L1833.1 858 L1834.7 857.8 L1836.3 876.5 L1837.9 876.4 L1839.5 876.3 L1841.1 859.8 L1842.7 859.7 L1844.3 859.5 L1845.9 862.4 L1847.5 862.3 L1849.1 862.1 L1850.7 865.4 L1852.3 865.2 L1853.9 865.1 L1855.5 868.7 L1857.1 868.5 L1858.7 868.4 L1860.3 855.7 L1861.9 855.6 L1863.5 855.4 L1865.1 864.7 L1866.7 864.5 L1868.3 864.4 L1869.9 859.9 L1871.5 859.7 L1873.1 859.6 L1874.7 862.7 L1876.3 862.6 L1877.9 862.4 L1879.5 861.1 L1881.1 860.9 L1882.7 860.8 L1884.3 857.6 L1885.9 857.5" fill="none" stroke="#64a632" stroke-width="11.5" stroke-linejoin="miter" stroke-linecap="butt" stroke-miterlimit="2"/>
<g font-family="'Liberation Sans', Arial, sans-serif" fill="#2a2623">
<text x="177.8" y="1411.6" font-size="54">0</text>
<text x="147.7" y="1276.1" font-size="54">10</text>
<text x="147.7" y="1140.6" font-size="54">20</text>
<text x="147.7" y="1005.1" font-size="54">30</text>
<text x="147.7" y="869.6" font-size="54">40</text>
<text x="147.7" y="734.1" font-size="54">50</text>
<text x="147.7" y="598.6" font-size="54">60</text>
<text x="147.7" y="463.1" font-size="54">70</text>
<text x="147.7" y="327.6" font-size="54">80</text>
<text x="147.7" y="192.1" font-size="54">90</text>
<text x="117.7" y="56.6" font-size="54">100</text>
<text x="322.9" y="1466" font-size="54">100</text>
<text x="520.1" y="1466" font-size="54">200</text>
<text x="717.2" y="1466" font-size="54">300</text>
<text x="914.3" y="1466" font-size="54">400</text>
<text x="1111.4" y="1466" font-size="54">500</text>
<text x="1308.6" y="1466" font-size="54">600</text>
<text x="1505.7" y="1466" font-size="54">700</text>
<text x="1702.8" y="1466" font-size="54">800</text>
<text x="1900" y="1466" font-size="54">900</text>
<text x="879.3" y="1536.8" font-size="53.32">Temperature (°C)</text>
<text transform="translate(84.8 947) rotate(-90)" x="0" y="0" font-size="74.25">Mass loss (%)</text>
<text x="1185.4" y="968.5" font-size="46">0</text>
<text x="1147.6" y="849.9" font-size="46">0.2</text>
<text x="1146.6" y="731.3" font-size="46">0.4</text>
<text x="1147.3" y="612.7" font-size="46">0.6</text>
<text x="1147.3" y="494.1" font-size="46">0.8</text>
<text x="1185.9" y="375.5" font-size="46">1</text>
<text x="1147.6" y="256.9" font-size="46">1.2</text>
<text x="1146.6" y="138.3" font-size="46">1.4</text>
<text x="1187.3" y="1009.6" font-size="46">650</text>
<text x="1319.5" y="1009.6" font-size="46">700</text>
<text x="1451.6" y="1009.6" font-size="46">750</text>
<text x="1583.8" y="1009.6" font-size="46">800</text>
<text x="1716" y="1009.6" font-size="46">850</text>
<text x="1848.1" y="1009.6" font-size="46">900</text>
<text x="1350.4" y="1073.1" font-size="53.35">Temperature (°C)</text>
<text transform="translate(1127.9 702.2) rotate(-90)" x="0" y="0" font-size="52.87">Mass loss (%)</text>
<text y="188.7" font-size="53.0"><tspan x="1308.4">UiO-66-NH</tspan><tspan x="1571.5" y="213.3" font-size="42">2</tspan><tspan x="1597.1" y="188.7">@Cotton</tspan></text>
<text x="1369.6" y="406.8" font-size="52.87">UiO-66@Cotton</text>
<text x="1303.7" y="508.4" font-size="53.06">UiO-66 NDC@Cotton</text>
<text x="1370.5" y="675.4" font-size="52.68">UiO-67@Cotton</text>
<text x="1479.7" y="851.6" font-size="53.35">Cotton</text>
</g>
<text y="1687.2" font-family="'Liberation Serif', 'Times New Roman', serif" font-size="86" fill="#000"><tspan x="965.2">(</tspan><tspan x="992" font-weight="bold">a</tspan><tspan x="1032.3">)</tspan></text>
<g stroke="#2a2623" fill="none">
<path d="M372 3125.7 V3107.7 M372 1771.5 V1789.5" stroke-width="2.4"/>
<path d="M569.1 3125.7 V3107.7 M569.1 1771.5 V1789.5" stroke-width="2.4"/>
<path d="M766.2 3125.7 V3107.7 M766.2 1771.5 V1789.5" stroke-width="2.4"/>
<path d="M963.4 3125.7 V3107.7 M963.4 1771.5 V1789.5" stroke-width="2.4"/>
<path d="M1160.5 3125.7 V3107.7 M1160.5 1771.5 V1789.5" stroke-width="2.4"/>
<path d="M1357.6 3125.7 V3107.7 M1357.6 1771.5 V1789.5" stroke-width="2.4"/>
<path d="M1554.7 3125.7 V3107.7 M1554.7 1771.5 V1789.5" stroke-width="2.4"/>
<path d="M1751.9 3125.7 V3107.7 M1751.9 1771.5 V1789.5" stroke-width="2.4"/>
<path d="M1949 3125.7 V3107.7 M1949 1771.5 V1789.5" stroke-width="2.4"/>
<path d="M234 1940.5 H250 M1949 1940.5 H1933" stroke-width="2.4"/>
<path d="M234 2109.8 H250 M1949 2109.8 H1933" stroke-width="2.4"/>
<path d="M234 2279.1 H250 M1949 2279.1 H1933" stroke-width="2.4"/>
<path d="M234 2448.4 H250 M1949 2448.4 H1933" stroke-width="2.4"/>
<path d="M234 2617.7 H250 M1949 2617.7 H1933" stroke-width="2.4"/>
<path d="M234 2787.1 H250 M1949 2787.1 H1933" stroke-width="2.4"/>
<path d="M234 2956.4 H250 M1949 2956.4 H1933" stroke-width="2.4"/>
<rect x="234" y="1771.5" width="1715" height="1354.2" stroke-width="2.7"/>
</g>
<g>
<path d="M234 2112 L235.2 2112 L236.4 2112.2 L237.5 2112.2 L238.7 2110 L239.9 2110 L241.1 2110.4 L242.3 2110.4 L243.5 2114.3 L244.6 2114.3 L245.8 2112.4 L247 2112.4 L248.2 2113.5 L249.4 2113.6 L250.6 2112 L251.7 2112 L252.9 2112.3 L254.1 2112.3 L255.3 2112.8 L256.5 2112.8 L257.7 2110.6 L258.8 2110.6 L260 2112.4 L261.2 2112.4 L262.4 2111.3 L263.6 2111.3 L264.8 2112 L265.9 2112 L267.1 2110.7 L268.3 2110.7 L269.5 2112.1 L270.7 2112.1 L271.8 2111 L273 2111 L274.2 2111.4 L275.4 2111.4 L276.6 2109.3 L277.8 2109.3 L278.9 2113 L280.1 2113 L281.3 2111.4 L282.5 2111.4 L283.7 2111.8 L284.9 2111.8 L286 2112.1 L287.2 2112.1 L288.4 2108.4 L289.6 2108.4 L290.8 2111.2 L292 2111.2 L293.1 2110 L294.3 2110 L295.5 2109.9 L296.7 2109.9 L297.9 2111.3 L299.1 2111.3 L300.2 2111.2 L301.4 2111.2 L302.6 2113.1 L303.8 2113.1 L305 2112.9 L306.1 2112.9 L307.3 2111.7 L308.5 2111.7 L309.7 2114.6 L310.9 2114.6 L312.1 2110.3 L313.2 2110.3 L314.4 2109 L315.6 2109 L316.8 2113.8 L318 2113.8 L319.2 2111.1 L320.3 2111.1 L321.5 2110.2 L322.7 2110.2 L323.9 2112.8 L325.1 2112.8 L326.3 2113.1 L327.4 2113.1 L328.6 2114.3 L329.8 2114.3 L331 2110.9 L332.2 2110.9 L333.4 2111.2 L334.5 2111.2 L335.7 2113.2 L336.9 2113.2 L338.1 2111.8 L339.3 2111.8 L340.4 2110.3 L341.6 2110.3 L342.8 2111.9 L344 2111.9 L345.2 2110.7 L346.4 2110.7 L347.5 2110 L348.7 2110 L349.9 2111.7 L351.1 2111.7 L352.3 2111.1 L353.5 2111.1 L354.6 2110.3 L355.8 2110.3 L357 2110.5 L358.2 2110.5 L359.4 2109.8 L360.6 2109.8 L361.7 2115.5 L362.9 2115.5 L364.1 2111.8 L365.3 2111.8 L366.5 2112.3 L367.7 2112.3 L368.8 2108.4 L370 2108.4 L371.2 2114.7 L372.4 2114.7 L373.6 2112.7 L374.7 2112.7 L375.9 2113.8 L377.1 2113.8 L378.3 2111.9 L379.5 2111.9 L380.7 2112.7 L381.8 2112.8 L383 2111.3 L384.2 2111.3 L385.4 2115.3 L386.6 2115.3 L387.8 2113 L388.9 2113 L390.1 2111.3 L391.3 2111.3 L392.5 2110.2 L393.7 2110.2 L394.9 2113.1 L396 2113.1 L397.2 2113 L398.4 2113 L399.6 2108.7 L400.8 2108.7 L402 2113.2 L403.1 2113.2 L404.3 2114.8 L405.5 2114.8 L406.7 2113 L407.9 2113 L409 2112 L410.2 2112 L411.4 2113 L412.6 2113 L413.8 2111.1 L415 2111.2 L416.1 2111.8 L417.3 2111.8 L418.5 2110.4 L419.7 2110.4 L420.9 2112.2 L422.1 2112.2 L423.2 2112 L424.4 2112 L425.6 2111 L426.8 2111 L428 2113.6 L429.2 2113.6 L430.3 2111 L431.5 2111 L432.7 2110.3 L433.9 2110.3 L435.1 2112.8 L436.3 2112.8 L437.4 2113.5 L438.6 2113.5 L439.8 2112.5 L441 2112.5 L442.2 2109.7 L443.3 2109.7 L444.5 2109.6 L445.7 2109.6 L446.9 2111.6 L448.1 2111.6 L449.3 2111.8 L450.4 2111.8 L451.6 2111.9 L452.8 2111.9 L454 2110.1 L455.2 2110.1 L456.4 2112.8 L457.5 2112.8 L458.7 2110.6 L459.9 2110.6 L461.1 2111 L462.3 2111 L463.5 2109.5 L464.6 2109.5 L465.8 2110.8 L467 2110.8 L468.2 2113 L469.4 2113 L470.6 2111.7 L471.7 2111.7 L472.9 2111.8 L474.1 2111.8 L475.3 2113.8 L476.5 2113.8 L477.6 2113.1 L478.8 2113.1 L480 2114.3 L481.2 2114.3 L482.4 2115 L483.6 2115 L484.7 2111.4 L485.9 2111.4 L487.1 2114.5 L488.3 2114.5 L489.5 2112.2 L490.7 2112.2 L491.8 2113.5 L493 2113.6 L494.2 2110.8 L495.4 2110.8 L496.6 2111.8 L497.8 2111.9 L498.9 2111.8 L500.1 2111.8 L501.3 2111.1 L502.5 2111.1 L503.7 2112.3 L504.9 2112.3 L506 2114.4 L507.2 2114.4 L508.4 2112.5 L509.6 2112.5 L510.8 2111.9 L511.9 2111.9 L513.1 2112.6 L514.3 2112.6 L515.5 2112.1 L516.7 2112.1 L517.9 2114.6 L519 2114.6 L520.2 2112.2 L521.4 2112.2 L522.6 2109 L523.8 2109 L525 2114.1 L526.1 2114.1 L527.3 2114 L528.5 2114 L529.7 2108.2 L530.9 2108.2 L532.1 2111.4 L533.2 2111.4 L534.4 2109.5 L535.6 2109.6 L536.8 2110.6 L538 2110.6 L539.2 2115 L540.3 2115 L541.5 2110.1 L542.7 2110.1 L543.9 2112.3 L545.1 2112.3 L546.2 2113.8 L547.4 2113.8 L548.6 2111.6 L549.8 2111.6 L551 2112 L552.2 2112 L553.3 2111.8 L554.5 2111.8 L555.7 2114.7 L556.9 2114.7 L558.1 2109 L559.3 2109 L560.4 2112.9 L561.6 2112.9 L562.8 2111.1 L564 2111.1 L565.2 2115.5 L566.4 2115.5 L567.5 2114.7 L568.7 2114.7 L569.9 2111.8 L571.1 2111.8 L572.3 2111.4 L573.5 2111.4 L574.6 2111.4 L575.8 2111.5 L577 2114.3 L578.2 2114.3 L579.4 2114.6 L580.5 2114.6 L581.7 2114.6 L582.9 2114.6 L584.1 2113.2 L585.3 2113.2 L586.5 2115.2 L587.6 2115.2 L588.8 2112 L590 2112.1 L591.2 2111.1 L592.4 2111.1 L593.6 2113.4 L594.7 2113.4 L595.9 2115.3 L597.1 2115.3 L598.3 2110.8 L599.5 2110.8 L600.7 2114.8 L601.8 2114.8 L603 2116 L604.2 2116 L605.4 2111.6 L606.6 2111.6 L607.8 2113.7 L608.9 2113.7 L610.1 2114.7 L611.3 2114.7 L612.5 2113.7 L613.7 2113.8 L614.8 2112.1 L616 2112.1 L617.2 2109.7 L618.4 2109.7 L619.6 2109.6 L620.8 2109.6 L621.9 2111.9 L623.1 2111.9 L624.3 2115.2 L625.5 2115.2 L626.7 2111.8 L627.9 2111.8 L629 2111 L630.2 2111 L631.4 2112.8 L632.6 2112.8 L633.8 2112 L635 2112 L636.1 2110.3 L637.3 2110.3 L638.5 2113.7 L639.7 2113.7 L640.9 2115.9 L642.1 2115.9 L643.2 2112.1 L644.4 2112.1 L645.6 2114.9 L646.8 2115 L648 2110.4 L649.1 2110.4 L650.3 2114 L651.5 2114 L652.7 2112.3 L653.9 2112.3 L655.1 2114.1 L656.2 2114.1 L657.4 2115.1 L658.6 2115.1 L659.8 2113.5 L661 2113.5 L662.2 2112.2 L663.3 2112.2 L664.5 2112.7 L665.7 2112.7 L666.9 2116.8 L668.1 2116.8 L669.3 2114.7 L670.4 2114.7 L671.6 2113.6 L672.8 2113.6 L674 2115 L675.2 2115 L676.4 2112.9 L677.5 2113 L678.7 2112.3 L679.9 2112.3 L681.1 2114.9 L682.3 2114.9 L683.4 2110 L684.6 2110 L685.8 2111.2 L687 2111.2 L688.2 2110.7 L689.4 2110.9 L690.5 2110.2 L691.7 2110.3 L692.9 2114.3 L694.1 2114.4 L695.3 2113.1 L696.5 2113.3 L697.6 2114.7 L698.8 2114.9 L700 2116 L701.2 2116.1 L702.4 2113.7 L703.6 2113.8 L704.7 2113.5 L705.9 2113.6 L706.7 2113.7 L707.3 2114 L707.9 2113.1 L708.5 2113.3 L709.1 2116.2 L709.7 2116.5 L710.3 2119.8 L710.8 2120.1 L711.4 2115.8 L712 2116.1 L712.6 2119.5 L713.2 2119.8 L713.8 2117.2 L714.4 2117.6 L715 2120.9 L715.6 2121.2 L716.2 2118.5 L716.8 2118.8 L717.4 2122.2 L717.9 2122.5 L718.5 2119 L719.1 2119.3 L719.7 2126.7 L720.3 2127.1 L720.9 2124.8 L721.5 2125.2 L722.1 2122.8 L722.7 2123.2 L723.3 2125.8 L723.9 2126.2 L724.5 2127.1 L725 2127.5 L725.6 2127.4 L726.2 2127.8 L726.8 2125.7 L727.4 2126.2 L728 2129.7 L728.6 2130.1 L729.2 2131.6 L729.8 2132.1 L730.4 2131 L731 2131.4 L731.5 2131.3 L732.1 2131.8 L732.7 2133.8 L733.3 2134.3 L733.9 2132.6 L734.5 2133 L735.1 2131.5 L735.7 2132 L736.3 2132.6 L736.9 2133 L737.5 2135.3 L738.1 2135.8 L738.6 2138.5 L739.2 2139 L739.8 2134.9 L740.4 2135.4 L741 2137 L741.6 2137.5 L742.2 2139.9 L742.8 2140.4 L743.4 2138.6 L744 2139.1 L744.6 2141.7 L745.1 2142.2 L745.7 2141.4 L746.3 2141.9 L746.9 2144.8 L747.5 2145.3 L748.1 2144 L748.7 2144.6 L749.3 2143.1 L749.9 2143.6 L750.5 2146.8 L751.1 2147.4 L751.7 2149.7 L752.2 2150.3 L752.8 2152.9 L753.4 2153.5 L754 2153.5 L754.6 2154.1 L755.2 2152 L755.8 2152.7 L756.4 2153 L757 2153.6 L757.6 2153.8 L758.2 2154.5 L758.8 2155.3 L759.3 2156.1 L759.9 2157.3 L760.5 2158.1 L761.1 2158.4 L761.7 2159.1 L762.3 2160 L762.9 2160.8 L763.5 2161.4 L764.1 2162.2 L764.7 2163.4 L765.3 2164.2 L765.8 2164.3 L766.4 2165.2 L767 2166.8 L767.6 2167.7 L768.2 2169.8 L768.8 2170.7 L769.4 2169.6 L770 2170.5 L770.6 2170.3 L771.2 2171.2 L771.8 2172.9 L772.4 2173.8 L772.9 2175.1 L773.5 2176.2 L774.1 2177.5 L774.7 2178.6 L775.3 2179.4 L775.9 2180.5 L776.5 2182.3 L777.1 2183.5 L777.7 2185.2 L778.3 2186.4 L778.9 2186.9 L779.4 2188.2 L780 2189 L780.6 2190.4 L781.2 2193.4 L781.8 2194.8 L782.4 2195.9 L783 2197.4 L783.6 2198.5 L784.2 2200.2 L784.8 2201.3 L785.4 2203 L786 2204.8 L786.5 2206.7 L787.1 2208.8 L787.7 2210.9 L788.3 2213.9 L788.9 2216.2 L789.5 2217.9 L790.1 2220.5 L790.7 2222.2 L791.3 2224.9 L791.9 2228.9 L792.5 2231.9 L793.1 2234.9 L793.6 2238.1 L794.2 2240.8 L794.8 2244.3 L795.4 2249.2 L796 2252.9 L796.6 2255.5 L797.2 2259.5 L797.8 2264.5 L798.4 2268.8 L799 2273.3 L799.6 2277.8 L800.1 2282.6 L800.7 2288.1 L801.3 2293.4 L801.9 2300.1 L802.5 2308.1 L803.1 2315.8 L803.7 2323.2 L804.3 2331.7 L804.9 2341 L805.5 2350.1 L806.1 2359.5 L806.7 2369.1 L807.2 2378.5 L807.8 2388.3 L808.4 2398.3 L809 2408.1 L809.6 2417.5 L810.2 2427.4 L810.8 2437.6 L811.4 2447.8 L812 2457.8 L812.6 2468.5 L813.2 2480.7 L813.7 2491.9 L814.3 2502.3 L814.9 2514 L815.5 2526.1 L816.1 2538.5 L816.7 2552.2 L817.3 2565.3 L817.9 2577.9 L818.5 2591.8 L819.1 2606 L819.7 2621.5 L820.3 2639.9 L820.8 2658.1 L821.4 2676.8 L822 2695.7 L822.6 2713.2 L823.2 2730.7 L823.8 2747.1 L824.4 2763.7 L825 2781.5 L825.6 2797.5 L826.2 2811.9 L826.8 2825.9 L827.4 2838.2 L827.9 2849.3 L828.5 2859.3 L829.1 2868.8 L829.7 2877.8 L830.3 2886.5 L830.9 2895.4 L831.5 2904.1 L832.1 2912.4 L832.7 2921.6 L833.3 2929.9 L833.9 2937.1 L834.4 2942.1 L835 2946.7 L835.6 2952 L836.2 2955.2 L836.8 2956.9 L837.4 2958.4 L838 2959.2 L838.6 2960.3 L839.2 2961 L839.8 2961.6 L840.4 2961.9 L841 2961.9 L841.5 2963 L842.1 2962.4 L842.7 2961.4 L843.3 2960.3 L843.9 2958.4 L844.5 2956.9 L845.1 2954.2 L845.7 2950 L846.3 2946 L846.9 2940.2 L847.5 2931.3 L848 2924.6 L848.6 2918.2 L849.2 2909.6 L849.8 2899.6 L850.4 2890.8 L851 2883.4 L851.6 2875.1 L852.2 2866.3 L852.8 2857 L853.4 2846.7 L854 2835 L854.6 2821.4 L855.1 2803.8 L855.7 2783.7 L856.3 2760.7 L856.9 2735.8 L857.5 2710.1 L858.1 2683 L858.7 2657.2 L859.3 2634.2 L859.9 2610.9 L860.5 2586.8 L861.1 2562.4 L861.7 2537 L862.2 2511.8 L862.8 2486.6 L863.4 2461.8 L864 2437.8 L864.6 2414.6 L865.2 2394 L865.8 2373.4 L866.4 2353.1 L867 2336.4 L867.6 2322.1 L868.2 2307 L868.7 2291.7 L869.3 2277.6 L869.9 2263.5 L870.5 2250.7 L871.1 2238.8 L871.7 2227.7 L872.3 2217.1 L872.9 2208.1 L873.5 2200.9 L874.1 2194.4 L874.7 2187.9 L875.3 2182.3 L875.8 2178.4 L876.4 2173.5 L877 2168 L877.6 2163.7 L878.2 2160.1 L878.8 2156.6 L879.4 2153.4 L880 2150.7 L880.6 2146.7 L881.2 2145.1 L881.8 2142.1 L882.3 2141 L882.9 2138 L883.5 2136.9 L884.1 2140.5 L884.7 2139.5 L885.3 2144.2 L885.9 2143.3 L886.5 2137.4 L887.1 2136.6 L887.7 2138.5 L888.3 2137.7 L888.9 2135.1 L889.4 2134.4 L890 2137.7 L890.6 2137.1 L891.2 2132.8 L891.8 2132.2 L892.4 2131 L893 2130.5 L893.6 2128.6 L894.2 2128.2 L894.8 2128.4 L895.4 2128 L896 2126.8 L896.5 2126.5 L897.1 2130.3 L897.7 2130.1 L898.3 2125.2 L898.9 2125 L899.5 2126.9 L900.1 2126.7 L900.7 2126.6 L901.3 2126.4 L901.9 2126.9 L902.5 2126.7 L903 2122.3 L903.6 2122.2 L904.2 2126.7 L904.8 2126.5 L905.4 2126.6 L906 2126.4 L906.6 2123.7 L907.2 2123.6 L907.8 2124.6 L908.4 2124.5 L909 2126.3 L909.6 2126.1 L910.1 2123.5 L910.7 2123.3 L911.3 2125.1 L911.9 2125 L912.5 2122 L913.1 2121.9 L913.7 2125.6 L914.3 2125.5 L914.9 2122.8 L915.5 2122.7 L916.1 2122.9 L916.6 2122.8 L917.2 2120.8 L917.8 2120.7 L918.4 2122.2 L919 2122.1 L919.6 2121.1 L920.2 2120.9 L920.8 2121.6 L921.4 2121.5 L922 2122.1 L922.6 2122 L923.2 2123 L923.7 2122.9 L924.3 2120.2 L924.9 2120.1 L925.5 2120.8 L926.1 2120.7 L926.7 2118 L927.3 2117.9 L927.9 2121.7 L928.5 2121.6 L929.1 2120 L929.7 2119.9 L930.3 2119.1 L930.8 2119 L931.4 2120.9 L932 2120.8 L932.6 2120.3 L933.2 2120.3 L933.8 2120.1 L934.4 2120 L935 2118.6 L935.6 2118.5 L936.2 2115.9 L936.8 2115.8 L937.3 2118 L937.9 2118 L938.5 2121.9 L939.1 2121.8 L939.7 2120.6 L940.3 2120.5 L940.9 2118.8 L941.5 2118.7 L942.1 2117.1 L942.7 2117.1 L943.3 2118 L943.9 2118 L944.4 2117.1 L945 2117 L945.6 2119.7 L946.2 2119.7 L946.8 2112.9 L947.4 2112.8 L948 2118.6 L948.6 2118.6 L949.2 2121 L949.8 2121 L950.4 2117.8 L950.9 2117.8 L951.5 2114.2 L952.1 2114.1 L952.7 2119.7 L953.3 2119.6 L953.9 2116.5 L954.5 2116.5 L955.1 2116.8 L955.7 2116.7 L956.3 2114.5 L956.9 2114.5 L957.5 2117 L958 2116.9 L958.6 2115.8 L959.2 2115.8 L959.8 2116.9 L960.4 2116.9 L961 2116.6 L961.6 2116.6 L962.2 2119.3 L962.8 2119.3 L963.4 2122.1 L964.6 2122.1 L965.7 2119.5 L966.9 2119.5 L968.1 2120 L969.3 2120.1 L970.5 2119.8 L971.6 2119.8 L972.8 2117.6 L974 2117.6 L975.2 2122.7 L976.4 2122.7 L977.6 2120.3 L978.7 2120.3 L979.9 2118 L981.1 2118 L982.3 2122.8 L983.5 2122.8 L984.7 2122.3 L985.8 2122.3 L987 2124.1 L988.2 2124.1 L989.4 2119.2 L990.6 2119.3 L991.8 2119.7 L992.9 2119.7 L994.1 2123.6 L995.3 2123.6 L996.5 2118.4 L997.7 2118.4 L998.9 2121.7 L1000 2121.7 L1001.2 2121.5 L1002.4 2121.5 L1003.6 2119.9 L1004.8 2119.9 L1005.9 2119.3 L1007.1 2119.3 L1008.3 2122.9 L1009.5 2122.9 L1010.7 2120.5 L1011.9 2120.5 L1013 2121.3 L1014.2 2121.3 L1015.4 2118.2 L1016.6 2118.3 L1017.8 2122.7 L1019 2122.7 L1020.1 2118.4 L1021.3 2118.4 L1022.5 2124.8 L1023.7 2124.8 L1024.9 2120.1 L1026.1 2120.1 L1027.2 2118.2 L1028.4 2118.2 L1029.6 2119.9 L1030.8 2119.9 L1032 2118.6 L1033.2 2118.6 L1034.3 2119.2 L1035.5 2119.2 L1036.7 2124.2 L1037.9 2124.2 L1039.1 2122.5 L1040.2 2122.5 L1041.4 2118.9 L1042.6 2118.9 L1043.8 2120.8 L1045 2120.8 L1046.2 2121.6 L1047.3 2121.6 L1048.5 2118.4 L1049.7 2118.4 L1050.9 2120.3 L1052.1 2120.3 L1053.3 2125.4 L1054.4 2125.4 L1055.6 2123.6 L1056.8 2123.6 L1058 2121.1 L1059.2 2121.1 L1060.4 2122.1 L1061.5 2122.1 L1062.7 2123.3 L1063.9 2123.3 L1065.1 2121.8 L1066.3 2121.8 L1067.5 2122.2 L1068.6 2122.2 L1069.8 2117.8 L1071 2117.8 L1072.2 2121.4 L1073.4 2121.4 L1074.5 2121.5 L1075.7 2121.5 L1076.9 2122 L1078.1 2122 L1079.3 2122.3 L1080.5 2122.3 L1081.6 2121.3 L1082.8 2121.3 L1084 2121.7 L1085.2 2121.7 L1086.4 2121.3 L1087.6 2121.3 L1088.7 2121.4 L1089.9 2121.4 L1091.1 2123 L1092.3 2123 L1093.5 2120.9 L1094.7 2120.9 L1095.8 2123.5 L1097 2123.5 L1098.2 2120.2 L1099.4 2120.2 L1100.6 2117.9 L1101.8 2117.9 L1102.9 2121.5 L1104.1 2121.5 L1105.3 2121.2 L1106.5 2121.2 L1107.7 2116.9 L1108.8 2116.9 L1110 2121.5 L1111.2 2121.5 L1112.4 2123.5 L1113.6 2123.5 L1114.8 2120.5 L1115.9 2120.5 L1117.1 2123.1 L1118.3 2123.1 L1119.5 2120 L1120.7 2120 L1121.9 2123.8 L1123 2123.8 L1124.2 2121.1 L1125.4 2121.1 L1126.6 2119 L1127.8 2119 L1129 2120.5 L1130.1 2120.5 L1131.3 2123.5 L1132.5 2123.5 L1133.7 2120.9 L1134.9 2120.9 L1136.1 2121.1 L1137.2 2121.1 L1138.4 2118.2 L1139.6 2118.2 L1140.8 2122.1 L1142 2122.1 L1143.1 2121.8 L1144.3 2121.8 L1145.5 2120.4 L1146.7 2120.4 L1147.9 2121.8 L1149.1 2121.8 L1150.2 2123.3 L1151.4 2123.3 L1152.6 2122.8 L1153.8 2122.8 L1155 2121.1 L1156.2 2121.1 L1157.3 2121.3 L1158.5 2121.3 L1159.7 2123.2 L1160.9 2123.2 L1162.1 2121.8 L1163.3 2121.8 L1164.4 2121.2 L1165.6 2121.2 L1166.8 2125.4 L1168 2125.4 L1169.2 2124.3 L1170.4 2124.3 L1171.5 2125.3 L1172.7 2125.3 L1173.9 2124.7 L1175.1 2124.7 L1176.3 2123.9 L1177.4 2123.9 L1178.6 2122.4 L1179.8 2122.4 L1181 2122 L1182.2 2122 L1183.4 2121.7 L1184.5 2121.7 L1185.7 2122 L1186.9 2122 L1188.1 2122.1 L1189.3 2122.1 L1190.5 2117.5 L1191.6 2117.5 L1192.8 2120.9 L1194 2120.9 L1195.2 2122.8 L1196.4 2122.8 L1197.6 2123.6 L1198.7 2123.6 L1199.9 2121.5 L1201.1 2122 L1202.3 2118.4 L1203.5 2118.9 L1204.7 2122.7 L1205.8 2123.2 L1207 2126.8 L1208.2 2127.3 L1209.4 2124.7 L1210.6 2125.2 L1211.7 2128.5 L1212.9 2129 L1214.1 2125.7 L1215.3 2126.2 L1216.5 2129.4 L1217.7 2129.9 L1218.8 2126.8 L1220 2127.2 L1221.2 2127.8 L1222.4 2127.9 L1223.6 2130.9 L1224.8 2130.9 L1225.9 2127.2 L1227.1 2127.2 L1228.3 2134.5 L1229.5 2134.6 L1230.7 2126.6 L1231.9 2126.6 L1233 2133 L1234.2 2133 L1235.4 2130.5 L1236.6 2130.5 L1237.8 2131.3 L1239 2131.3 L1240.1 2131.2 L1241.3 2131.3 L1242.5 2132 L1243.7 2132 L1244.9 2130.7 L1246 2130.7 L1247.2 2129.6 L1248.4 2129.6 L1249.6 2129.3 L1250.8 2129.3 L1252 2128.2 L1253.1 2128.2 L1254.3 2126.8 L1255.5 2126.8 L1256.7 2130.6 L1257.9 2130.6 L1259.1 2128.7 L1260.2 2128.7 L1261.4 2130.7 L1262.6 2130.7 L1263.8 2134.3 L1265 2134.3 L1266.2 2129 L1267.3 2129 L1268.5 2133.2 L1269.7 2133.2 L1270.9 2131.7 L1272.1 2131.7 L1273.3 2129.8 L1274.4 2129.8 L1275.6 2131.9 L1276.8 2131.9 L1278 2132.6 L1279.2 2132.6 L1280.3 2129.8 L1281.5 2129.8 L1282.7 2128.9 L1283.9 2128.9 L1285.1 2132 L1286.3 2132.1 L1287.4 2131.6 L1288.6 2131.6 L1289.8 2129.9 L1291 2129.5 L1292.2 2129.9 L1293.4 2129.6 L1294.5 2129.9 L1295.7 2129.6 L1296.9 2125.2 L1298.1 2124.9 L1299.3 2128.8 L1300.5 2128.5 L1301.6 2127.7 L1302.8 2127.4 L1304 2131.3 L1305.2 2130.9 L1306.4 2125.1 L1307.6 2124.8 L1308.7 2126.4 L1309.9 2126.1 L1311.1 2123.5 L1312.3 2123.2 L1313.5 2125.1 L1314.6 2124.8 L1315.8 2123.7 L1317 2123.4 L1318.2 2123.5 L1319.4 2123.2 L1320.6 2122.7 L1321.7 2122.4 L1322.9 2124.1 L1324.1 2123.8 L1325.3 2118.9 L1326.5 2118.6 L1327.7 2124 L1328.8 2123.7 L1330 2123.5 L1331.2 2123.2 L1332.4 2118.4 L1333.6 2118.1 L1334.8 2120.8 L1335.9 2120.5 L1337.1 2118.2 L1338.3 2117.9 L1339.5 2119.5 L1340.7 2119.2 L1341.9 2115.9 L1343 2115.6 L1344.2 2118.7 L1345.4 2118.4 L1346.6 2116.5 L1347.8 2116.2 L1348.9 2115.9 L1350.1 2115.6 L1351.3 2116.2 L1352.5 2115.9 L1353.7 2114.3 L1354.9 2114 L1356 2115.5 L1357.2 2115.2 L1358.4 2112.6 L1359.6 2112.3 L1360.8 2114.9 L1362 2114.6 L1363.1 2109.3 L1364.3 2109 L1365.5 2108.2 L1366.7 2107.9 L1367.9 2111.2 L1369.1 2110.8 L1370.2 2111.1 L1371.4 2110.8 L1372.6 2108.6 L1373.8 2108.3 L1375 2107.3 L1376.2 2107 L1377.3 2108.5 L1378.5 2108.2 L1379.7 2106.1 L1380.9 2105.8 L1382.1 2106.2 L1383.2 2106.4 L1384.4 2109.2 L1385.6 2109.4 L1386.8 2110 L1388 2110.2 L1389.2 2112.7 L1390.3 2112.9 L1391.5 2104 L1392.7 2104.2 L1393.9 2112.3 L1395.1 2112.5 L1396.3 2106.2 L1397.4 2106.3 L1398.6 2108.1 L1399.8 2108.1 L1401 2110.8 L1402.2 2110.8 L1403.4 2109.6 L1404.5 2109.6 L1405.7 2111.1 L1406.9 2111.2 L1408.1 2108.7 L1409.3 2108.7 L1410.5 2109.5 L1411.6 2109.5 L1412.8 2108.4 L1414 2108.4 L1415.2 2110.6 L1416.4 2110.6 L1417.5 2111.4 L1418.7 2111.4 L1419.9 2110 L1421.1 2110 L1422.3 2109.7 L1423.5 2109.7 L1424.6 2112.9 L1425.8 2112.9 L1427 2112.2 L1428.2 2112.2 L1429.4 2116.7 L1430.6 2116.7 L1431.7 2114.4 L1432.9 2114.4 L1434.1 2107.6 L1435.3 2107.6 L1436.5 2109.5 L1437.7 2109.5 L1438.8 2104.6 L1440 2104.7 L1441.2 2106.9 L1442.4 2106.9 L1443.6 2112.9 L1444.8 2112.9 L1445.9 2110.4 L1447.1 2110.4 L1448.3 2109 L1449.5 2109 L1450.7 2107.8 L1451.8 2107.8 L1453 2108.6 L1454.2 2108.6 L1455.4 2108.6 L1456.6 2108.6 L1457.8 2107.4 L1458.9 2107.4 L1460.1 2107.5 L1461.3 2107.5 L1462.5 2108.2 L1463.7 2108.2 L1464.9 2107.7 L1466 2107.7 L1467.2 2109.7 L1468.4 2109.7 L1469.6 2113.7 L1470.8 2113.7 L1472 2108.2 L1473.1 2108.2 L1474.3 2111.7 L1475.5 2111.7 L1476.7 2106.1 L1477.9 2106.1 L1479.1 2104.4 L1480.2 2104.4 L1481.4 2112.4 L1482.6 2112.4 L1483.8 2105.4 L1485 2105.4 L1486.1 2105.8 L1487.3 2105.8 L1488.5 2106 L1489.7 2106 L1490.9 2114.3 L1492.1 2114.3 L1493.2 2107.5 L1494.4 2107.5 L1495.6 2105.4 L1496.8 2105.4 L1498 2110.7 L1499.2 2110.7 L1500.3 2110.9 L1501.5 2110.9 L1502.7 2110.8 L1503.9 2110.8 L1505.1 2109.6 L1506.3 2109.6 L1507.4 2103.1 L1508.6 2103.1 L1509.8 2111.4 L1511 2111.4 L1512.2 2113.4 L1513.4 2113.4 L1514.5 2115.1 L1515.7 2115.2 L1516.9 2108.5 L1518.1 2108.5 L1519.3 2110.3 L1520.4 2110.3 L1521.6 2108.8 L1522.8 2108.8 L1524 2112.4 L1525.2 2112.4 L1526.4 2109.9 L1527.5 2109.9 L1528.7 2112.4 L1529.9 2112.4 L1531.1 2107 L1532.3 2107 L1533.5 2107.2 L1534.6 2107.2 L1535.8 2107.8 L1537 2107.8 L1538.2 2108.3 L1539.4 2108.3 L1540.6 2112.6 L1541.7 2112.6 L1542.9 2108.4 L1544.1 2108.4 L1545.3 2106.4 L1546.5 2106.4 L1547.7 2109.3 L1548.8 2109.3 L1550 2107.4 L1551.2 2107.5 L1552.4 2110.4 L1553.6 2110.4 L1554.7 2107.5 L1555.9 2107.5 L1557.1 2108.8 L1558.3 2108.8 L1559.5 2107.2 L1560.7 2107.2 L1561.8 2107.9 L1563 2107.9 L1564.2 2111.4 L1565.4 2111.4 L1566.6 2112.4 L1567.8 2112.4 L1568.9 2111.5 L1570.1 2111.5 L1571.3 2109.4 L1572.5 2109.4 L1573.7 2113.2 L1574.9 2113.2 L1576 2112.4 L1577.2 2112.4 L1578.4 2110.2 L1579.6 2110.2 L1580.8 2104 L1582 2104 L1583.1 2108.3 L1584.3 2108.3 L1585.5 2115.6 L1586.7 2115.6 L1587.9 2108.7 L1589 2108.7 L1590.2 2109.2 L1591.4 2109.2 L1592.6 2111.3 L1593.8 2111.3 L1595 2117.7 L1596.1 2117.7 L1597.3 2112.8 L1598.5 2112.8 L1599.7 2109.7 L1600.9 2109.7 L1602.1 2105.6 L1603.2 2105.6 L1604.4 2108 L1605.6 2108 L1606.8 2111.4 L1608 2111.4 L1609.2 2111.4 L1610.3 2111.4 L1611.5 2109.1 L1612.7 2109.2 L1613.9 2109.3 L1615.1 2109.3 L1616.3 2106.8 L1617.4 2106.8 L1618.6 2117.8 L1619.8 2117.8 L1621 2110.5 L1622.2 2110.5 L1623.3 2111.2 L1624.5 2111.2 L1625.7 2112.2 L1626.9 2112.2 L1628.1 2111.6 L1629.3 2111.6 L1630.4 2112.4 L1631.6 2112.4 L1632.8 2111.8 L1634 2111.8 L1635.2 2108.7 L1636.4 2108.7 L1637.5 2109.4 L1638.7 2109.4 L1639.9 2107.1 L1641.1 2107.1 L1642.3 2112 L1643.5 2112 L1644.6 2113.9 L1645.8 2113.9 L1647 2109.2 L1648.2 2109.2 L1649.4 2111.3 L1650.6 2111.3 L1651.7 2106.3 L1652.9 2106.3 L1654.1 2110.1 L1655.3 2110.1 L1656.5 2108.7 L1657.6 2108.7 L1658.8 2114.8 L1660 2114.8 L1661.2 2111.9 L1662.4 2111.9 L1663.6 2105.8 L1664.7 2105.8 L1665.9 2111.4 L1667.1 2111.4 L1668.3 2110 L1669.5 2110 L1670.7 2110.7 L1671.8 2110.7 L1673 2112.6 L1674.2 2112.6 L1675.4 2109.9 L1676.6 2109.9 L1677.8 2107.7 L1678.9 2107.7 L1680.1 2109.9 L1681.3 2109.9 L1682.5 2111.9 L1683.7 2111.9 L1684.9 2104.8 L1686 2104.8 L1687.2 2108.1 L1688.4 2108.1 L1689.6 2110.4 L1690.8 2110.4 L1691.9 2110.6 L1693.1 2110.6 L1694.3 2104.8 L1695.5 2104.8 L1696.7 2108.7 L1697.9 2108.7 L1699 2112.2 L1700.2 2112.2 L1701.4 2108.9 L1702.6 2108.9 L1703.8 2108 L1705 2108 L1706.1 2115.4 L1707.3 2115.4 L1708.5 2115.1 L1709.7 2115.1 L1710.9 2107.5 L1712.1 2107.5 L1713.2 2110 L1714.4 2110 L1715.6 2107.2 L1716.8 2107.2 L1718 2107 L1719.2 2107 L1720.3 2110.6 L1721.5 2110.6 L1722.7 2114.5 L1723.9 2114.5 L1725.1 2110.9 L1726.2 2110.9 L1727.4 2111.6 L1728.6 2111.6 L1729.8 2108 L1731 2108 L1732.2 2108.5 L1733.3 2108.5 L1734.5 2111.7 L1735.7 2111.7 L1736.9 2109.8 L1738.1 2109.8 L1739.3 2112 L1740.4 2112 L1741.6 2111.2 L1742.8 2111.2 L1744 2109.3 L1745.2 2109.3 L1746.4 2110.4 L1747.5 2110.4 L1748.7 2111.8 L1749.9 2111.9 L1751.1 2112.5 L1752.3 2112.5 L1753.5 2105.7 L1754.6 2105.7 L1755.8 2106.2 L1757 2106.2 L1758.2 2111.3 L1759.4 2111.3 L1760.5 2109 L1761.7 2109 L1762.9 2115.2 L1764.1 2115.2 L1765.3 2113.5 L1766.5 2113.5 L1767.6 2111.3 L1768.8 2111.3 L1770 2113.8 L1771.2 2113.8 L1772.4 2114.2 L1773.6 2114.2 L1774.7 2111.4 L1775.9 2111.4 L1777.1 2112.6 L1778.3 2112.6 L1779.5 2107.2 L1780.7 2107.3 L1781.8 2115.6 L1783 2115.6 L1784.2 2113.8 L1785.4 2113.8 L1786.6 2108.3 L1787.8 2108.3 L1788.9 2108.4 L1790.1 2108.4 L1791.3 2106.7 L1792.5 2106.7 L1793.7 2112.1 L1794.8 2112.1 L1796 2113 L1797.2 2113 L1798.4 2107.7 L1799.6 2107.7 L1800.8 2108.3 L1801.9 2108.3 L1803.1 2113.1 L1804.3 2113.1 L1805.5 2105.1 L1806.7 2105.1 L1807.9 2110.1 L1809 2110.1 L1810.2 2107.9 L1811.4 2107.9 L1812.6 2110.7 L1813.8 2110.8 L1815 2111.9 L1816.1 2111.9 L1817.3 2109 L1818.5 2109 L1819.7 2110.8 L1820.9 2110.8 L1822.1 2110.3 L1823.2 2110.3 L1824.4 2111.8 L1825.6 2111.8 L1826.8 2110.7 L1828 2110.7 L1829.1 2108.9 L1830.3 2108.9 L1831.5 2117.5 L1832.7 2117.5 L1833.9 2108.8 L1835.1 2108.8 L1836.2 2116.3 L1837.4 2116.3 L1838.6 2108.4 L1839.8 2108.4 L1841 2112.1 L1842.2 2112.1 L1843.3 2107.6 L1844.5 2107.6 L1845.7 2111.2 L1846.9 2111.2 L1848.1 2106.5 L1849.3 2106.5 L1850.4 2111.2 L1851.6 2111.2 L1852.8 2113.1 L1854 2113.1 L1855.2 2112.9 L1856.4 2112.9 L1857.5 2110 L1858.7 2110 L1859.9 2109.2 L1861.1 2109.2 L1862.3 2113.3 L1863.4 2113.3 L1864.6 2104.6 L1865.8 2104.6 L1867 2112.2 L1868.2 2112.2 L1869.4 2111.4 L1870.5 2111.4 L1871.7 2114.5 L1872.9 2114.6 L1874.1 2108.2 L1875.3 2108.2 L1876.5 2110.8 L1877.6 2110.8 L1878.8 2113.8 L1880 2113.8 L1881.2 2112.8 L1882.4 2112.8 L1883.6 2109 L1884.7 2109 L1885.9 2113.7 L1887.1 2113.7 L1888.3 2112.3 L1889.5 2112.3 L1890.7 2111.5 L1891.8 2111.5 L1893 2111 L1894.2 2111 L1895.4 2111.6 L1896.6 2111.6 L1897.7 2111.9 L1898.9 2111.9 L1900.1 2114.9 L1901.3 2114.9 L1902.5 2113.3 L1903.7 2113.3 L1904.8 2111.3 L1906 2111.3 L1907.2 2115.5 L1908.4 2115.5 L1909.6 2111.9 L1910.8 2111.9 L1911.9 2110.1 L1913.1 2110.1 L1914.3 2107.5 L1915.5 2107.5 L1916.7 2111.1 L1917.9 2111.1 L1919 2113.6 L1920.2 2113.6 L1921.4 2110.4 L1922.6 2110.4 L1923.8 2111.1 L1925 2111.1 L1926.1 2109.4 L1927.3 2109.4 L1928.5 2110.3 L1929.7 2110.3 L1930.9 2112.6 L1932 2112.6 L1933.2 2109.8 L1934.4 2109.8 L1935.6 2111.7 L1936.8 2111.7 L1938 2105 L1939.1 2105 L1940.3 2111.7 L1941.5 2111.7 L1942.7 2114.3 L1943.9 2114.3 L1945.1 2106.3 L1946.2 2106.3 L1947.4 2109.4 L1948.6 2109.4" fill="none" stroke="#2170b6" stroke-width="10" stroke-linejoin="round" stroke-linecap="butt"/>
<path d="M234 2111.9 L235.2 2111.9 L236.4 2112.5 L237.5 2112.5 L238.7 2112 L239.9 2112 L241.1 2111.5 L242.3 2111.5 L243.5 2116.3 L244.6 2116.3 L245.8 2107.5 L247 2107.5 L248.2 2112.9 L249.4 2112.9 L250.6 2111.7 L251.7 2111.7 L252.9 2110.8 L254.1 2110.8 L255.3 2110.3 L256.5 2110.3 L257.7 2116.4 L258.8 2116.4 L260 2113.7 L261.2 2113.7 L262.4 2113.5 L263.6 2113.5 L264.8 2110.2 L265.9 2110.2 L267.1 2110.2 L268.3 2110.2 L269.5 2111.1 L270.7 2111.1 L271.8 2112.3 L273 2112.3 L274.2 2111.2 L275.4 2111.2 L276.6 2110.8 L277.8 2110.8 L278.9 2110.9 L280.1 2110.9 L281.3 2109.2 L282.5 2109.2 L283.7 2114.7 L284.9 2114.7 L286 2113.7 L287.2 2113.7 L288.4 2113 L289.6 2113 L290.8 2109.3 L292 2109.3 L293.1 2113.2 L294.3 2113.2 L295.5 2110.8 L296.7 2110.8 L297.9 2111.7 L299.1 2111.7 L300.2 2112 L301.4 2112 L302.6 2110 L303.8 2110 L305 2112.2 L306.1 2112.2 L307.3 2111.3 L308.5 2111.3 L309.7 2110.6 L310.9 2110.6 L312.1 2110.5 L313.2 2110.5 L314.4 2115.4 L315.6 2115.4 L316.8 2112.8 L318 2112.8 L319.2 2111.6 L320.3 2111.6 L321.5 2108.8 L322.7 2108.8 L323.9 2109.7 L325.1 2109.7 L326.3 2110.7 L327.4 2110.7 L328.6 2112.8 L329.8 2112.8 L331 2111.8 L332.2 2111.8 L333.4 2116.3 L334.5 2116.3 L335.7 2114 L336.9 2114 L338.1 2113.4 L339.3 2113.4 L340.4 2113.4 L341.6 2113.4 L342.8 2110.5 L344 2110.5 L345.2 2112.5 L346.4 2112.5 L347.5 2112 L348.7 2112 L349.9 2113.7 L351.1 2113.7 L352.3 2116.8 L353.5 2116.8 L354.6 2115.4 L355.8 2115.4 L357 2112.6 L358.2 2112.6 L359.4 2112.8 L360.6 2112.8 L361.7 2113.6 L362.9 2113.6 L364.1 2115.2 L365.3 2115.2 L366.5 2117.4 L367.7 2117.4 L368.8 2109.7 L370 2109.7 L371.2 2114.4 L372.4 2114.4 L373.6 2110.9 L374.7 2110.9 L375.9 2114.5 L377.1 2114.5 L378.3 2112.2 L379.5 2112.2 L380.7 2109.9 L381.8 2109.9 L383 2115.7 L384.2 2115.7 L385.4 2109.1 L386.6 2109.1 L387.8 2112.3 L388.9 2112.3 L390.1 2114.9 L391.3 2114.9 L392.5 2113.9 L393.7 2113.9 L394.9 2112.6 L396 2112.6 L397.2 2114.7 L398.4 2114.7 L399.6 2116 L400.8 2116 L402 2113.7 L403.1 2113.7 L404.3 2115 L405.5 2115 L406.7 2110.7 L407.9 2110.7 L409 2111.6 L410.2 2111.6 L411.4 2113.6 L412.6 2113.6 L413.8 2110.8 L415 2110.8 L416.1 2110.9 L417.3 2110.9 L418.5 2116.2 L419.7 2116.2 L420.9 2114.6 L422.1 2114.7 L423.2 2111.7 L424.4 2111.7 L425.6 2112.6 L426.8 2112.6 L428 2113.5 L429.2 2113.5 L430.3 2112.6 L431.5 2112.6 L432.7 2113.7 L433.9 2113.7 L435.1 2113.7 L436.3 2113.7 L437.4 2114.2 L438.6 2114.2 L439.8 2110.7 L441 2110.7 L442.2 2115 L443.3 2115 L444.5 2114.1 L445.7 2114.1 L446.9 2116.7 L448.1 2116.7 L449.3 2111.5 L450.4 2111.5 L451.6 2111.3 L452.8 2111.3 L454 2114.6 L455.2 2114.6 L456.4 2116.3 L457.5 2116.3 L458.7 2115.9 L459.9 2115.9 L461.1 2111.2 L462.3 2111.2 L463.5 2115.4 L464.6 2115.4 L465.8 2112.6 L467 2112.6 L468.2 2111.3 L469.4 2111.3 L470.6 2115.7 L471.7 2115.7 L472.9 2113 L474.1 2113 L475.3 2112.5 L476.5 2112.5 L477.6 2114.3 L478.8 2114.3 L480 2110.4 L481.2 2110.4 L482.4 2114.8 L483.6 2114.8 L484.7 2112.3 L485.9 2112.3 L487.1 2113.4 L488.3 2113.5 L489.5 2110.6 L490.7 2110.6 L491.8 2116 L493 2116 L494.2 2113 L495.4 2113 L496.6 2113.7 L497.8 2113.7 L498.9 2114.1 L500.1 2114.1 L501.3 2113.3 L502.5 2113.3 L503.7 2112.3 L504.9 2112.3 L506 2114.1 L507.2 2114.1 L508.4 2115.4 L509.6 2115.4 L510.8 2114.2 L511.9 2114.2 L513.1 2115.6 L514.3 2115.6 L515.5 2116.7 L516.7 2116.7 L517.9 2114.3 L519 2114.3 L520.2 2113 L521.4 2113 L522.6 2111.6 L523.8 2111.6 L525 2112.2 L526.1 2112.3 L527.3 2113.5 L528.5 2113.5 L529.7 2112.7 L530.9 2112.7 L532.1 2112.6 L533.2 2112.6 L534.4 2111.6 L535.6 2111.7 L536.8 2116 L538 2116 L539.2 2113.7 L540.3 2113.7 L541.5 2114.2 L542.7 2114.2 L543.9 2111.9 L545.1 2111.9 L546.2 2113.8 L547.4 2113.8 L548.6 2110.4 L549.8 2110.4 L551 2112.9 L552.2 2112.9 L553.3 2112.3 L554.5 2112.3 L555.7 2113 L556.9 2113 L558.1 2113.5 L559.3 2113.5 L560.4 2112.8 L561.6 2112.9 L562.8 2112.8 L564 2112.8 L565.2 2115.5 L566.4 2115.5 L567.5 2115.1 L568.7 2115.1 L569.9 2112.7 L571.1 2112.7 L572.3 2113 L573.5 2113 L574.6 2116.4 L575.8 2116.4 L577 2115.3 L578.2 2115.3 L579.4 2116.3 L580.5 2116.3 L581.7 2110.9 L582.9 2110.9 L584.1 2113.7 L585.3 2113.7 L586.5 2113.6 L587.6 2113.6 L588.8 2113.6 L590 2113.6 L591.2 2111.2 L592.4 2111.2 L593.6 2113 L594.7 2113 L595.9 2112.9 L597.1 2112.9 L598.3 2112.8 L599.5 2112.8 L600.7 2115.4 L601.8 2115.4 L603 2115.6 L604.2 2115.6 L605.4 2113.1 L606.6 2113.1 L607.8 2115.3 L608.9 2115.3 L610.1 2115.6 L611.3 2115.6 L612.5 2113 L613.7 2113 L614.8 2112.1 L616 2112.1 L617.2 2112.5 L618.4 2112.5 L619.6 2111.5 L620.8 2111.5 L621.9 2115 L623.1 2115 L624.3 2112.1 L625.5 2112.1 L626.7 2112.2 L627.9 2112.2 L629 2116.5 L630.2 2116.5 L631.4 2116.2 L632.6 2116.2 L633.8 2115.1 L635 2115.1 L636.1 2112.7 L637.3 2112.7 L638.5 2113.8 L639.7 2113.8 L640.9 2113.7 L642.1 2113.7 L643.2 2113.3 L644.4 2113.3 L645.6 2114.5 L646.8 2114.5 L648 2113.2 L649.1 2113.2 L650.3 2116.4 L651.5 2116.5 L652.7 2115.2 L653.9 2115.2 L655.1 2113 L656.2 2113 L657.4 2115 L658.6 2115 L659.8 2116.2 L661 2116.3 L662.2 2112.8 L663.3 2112.8 L664.5 2117.2 L665.7 2117.2 L666.9 2113.9 L668.1 2113.9 L669.3 2111.8 L670.4 2111.8 L671.6 2117.5 L672.8 2117.6 L674 2113 L675.2 2113 L676.4 2113.1 L677.5 2113.1 L678.7 2110.4 L679.9 2110.4 L681.1 2114.1 L682.3 2114.2 L683.4 2109.8 L684.6 2109.8 L685.8 2111.5 L687 2111.6 L688.2 2116.1 L689.4 2116.3 L690.5 2115.3 L691.7 2115.5 L692.9 2114.4 L694.1 2114.6 L695.3 2114.3 L696.5 2114.5 L697.6 2113.7 L698.8 2113.9 L700 2117.2 L701.2 2117.4 L702.4 2118.5 L703.6 2118.8 L704.7 2117.2 L705.9 2117.5 L706.7 2122 L707.3 2122 L707.9 2119.3 L708.5 2119.4 L709.1 2118.6 L709.7 2118.7 L710.3 2120.2 L710.8 2120.4 L711.4 2113.4 L712 2113.6 L712.6 2117.1 L713.2 2117.3 L713.8 2119.1 L714.4 2119.3 L715 2117.9 L715.6 2118.2 L716.2 2119.9 L716.8 2120.2 L717.4 2121.8 L717.9 2122.1 L718.5 2120.1 L719.1 2120.4 L719.7 2124.3 L720.3 2124.7 L720.9 2124.1 L721.5 2124.5 L722.1 2121.5 L722.7 2121.9 L723.3 2124 L723.9 2124.4 L724.5 2123.5 L725 2124 L725.6 2125.5 L726.2 2126 L726.8 2129.7 L727.4 2130.3 L728 2129.1 L728.6 2129.6 L729.2 2127.1 L729.8 2127.7 L730.4 2130.6 L731 2131.2 L731.5 2129.9 L732.1 2130.5 L732.7 2132.6 L733.3 2133.2 L733.9 2136.3 L734.5 2137 L735.1 2133.4 L735.7 2134 L736.3 2137.1 L736.9 2137.8 L737.5 2141.4 L738.1 2142.1 L738.6 2135.9 L739.2 2136.6 L739.8 2140.8 L740.4 2141.5 L741 2143 L741.6 2143.7 L742.2 2147.9 L742.8 2148.6 L743.4 2145.5 L744 2146.2 L744.6 2145.5 L745.1 2146.2 L745.7 2151.4 L746.3 2152.2 L746.9 2150.2 L747.5 2151.1 L748.1 2152.8 L748.7 2153.9 L749.3 2152.7 L749.9 2153.8 L750.5 2155.6 L751.1 2156.8 L751.7 2157.5 L752.2 2158.8 L752.8 2159.6 L753.4 2160.9 L754 2164 L754.6 2165.4 L755.2 2168.3 L755.8 2169.8 L756.4 2168.9 L757 2170.5 L757.6 2173.4 L758.2 2175 L758.8 2177.6 L759.3 2179.3 L759.9 2179.2 L760.5 2181 L761.1 2183.7 L761.7 2185.5 L762.3 2185.5 L762.9 2187.5 L763.5 2190.5 L764.1 2192.7 L764.7 2196.9 L765.3 2199.3 L765.8 2200.3 L766.4 2202.9 L767 2206 L767.6 2208.7 L768.2 2210.5 L768.8 2213.4 L769.4 2217 L770 2220 L770.6 2221.9 L771.2 2225 L771.8 2228.6 L772.4 2231.8 L772.9 2233.8 L773.5 2237.1 L774.1 2241.6 L774.7 2245 L775.3 2249.1 L775.9 2252.5 L776.5 2255.5 L777.1 2259 L777.7 2263.1 L778.3 2266.8 L778.9 2270.8 L779.4 2274.6 L780 2277.6 L780.6 2281.6 L781.2 2285.5 L781.8 2289.6 L782.4 2294.5 L783 2298.8 L783.6 2302.9 L784.2 2307.3 L784.8 2312.6 L785.4 2317.2 L786 2321.6 L786.5 2326.3 L787.1 2330.9 L787.7 2335.7 L788.3 2342 L788.9 2347 L789.5 2351.6 L790.1 2356.6 L790.7 2360.9 L791.3 2366.1 L791.9 2371.9 L792.5 2377.3 L793.1 2382.4 L793.6 2388.1 L794.2 2395.1 L794.8 2401 L795.4 2405.2 L796 2411.3 L796.6 2416.9 L797.2 2423.1 L797.8 2430.5 L798.4 2436.9 L799 2443 L799.6 2449.5 L800.1 2456.4 L800.7 2463.2 L801.3 2469.4 L801.9 2476.3 L802.5 2483.7 L803.1 2490.6 L803.7 2498.7 L804.3 2505.8 L804.9 2510.6 L805.5 2517.9 L806.1 2527.7 L806.7 2535.4 L807.2 2541.7 L807.8 2549.7 L808.4 2557.7 L809 2565.9 L809.6 2575.7 L810.2 2584.1 L810.8 2591.9 L811.4 2600.4 L812 2608.8 L812.6 2617.3 L813.2 2625.4 L813.7 2633.8 L814.3 2641.7 L814.9 2650 L815.5 2659.6 L816.1 2667.6 L816.7 2674.8 L817.3 2682.9 L817.9 2690.4 L818.5 2698.9 L819.1 2707.4 L819.7 2716.1 L820.3 2724.6 L820.8 2733.2 L821.4 2741.8 L822 2750 L822.6 2758.7 L823.2 2766.4 L823.8 2774.2 L824.4 2781.1 L825 2785.9 L825.6 2791.7 L826.2 2797.2 L826.8 2801.9 L827.4 2807.7 L827.9 2811.8 L828.5 2815.8 L829.1 2818.2 L829.7 2818.2 L830.3 2819.5 L830.9 2819.7 L831.5 2820.6 L832.1 2822.7 L832.7 2823 L833.3 2823.5 L833.9 2823 L834.4 2820.9 L835 2819.9 L835.6 2818.7 L836.2 2817.3 L836.8 2816.3 L837.4 2814.1 L838 2812 L838.6 2808.7 L839.2 2802.7 L839.8 2798.2 L840.4 2792.9 L841 2782.9 L841.5 2768.9 L842.1 2754.3 L842.7 2740.3 L843.3 2723.8 L843.9 2706.1 L844.5 2690.4 L845.1 2676.9 L845.7 2664.3 L846.3 2651.8 L846.9 2639.9 L847.5 2627.8 L848 2616.4 L848.6 2605.7 L849.2 2594.5 L849.8 2582.6 L850.4 2571.4 L851 2560.5 L851.6 2549.1 L852.2 2538.1 L852.8 2526.3 L853.4 2514.5 L854 2502 L854.6 2488.9 L855.1 2476 L855.7 2461.6 L856.3 2448.5 L856.9 2436.7 L857.5 2423.7 L858.1 2411.4 L858.7 2398.6 L859.3 2384.1 L859.9 2372 L860.5 2360 L861.1 2348.7 L861.7 2339.4 L862.2 2329.1 L862.8 2317.9 L863.4 2308 L864 2299.1 L864.6 2289.4 L865.2 2280.1 L865.8 2270.8 L866.4 2260.5 L867 2251.6 L867.6 2244.1 L868.2 2235.8 L868.7 2226.8 L869.3 2219.3 L869.9 2212.8 L870.5 2206.2 L871.1 2200.9 L871.7 2195.4 L872.3 2188.6 L872.9 2183.4 L873.5 2179.5 L874.1 2174.5 L874.7 2169.5 L875.3 2165 L875.8 2160.2 L876.4 2156.5 L877 2152.7 L877.6 2149.9 L878.2 2149.7 L878.8 2148 L879.4 2145.9 L880 2144.8 L880.6 2145.7 L881.2 2144.7 L881.8 2145 L882.3 2144.1 L882.9 2139.5 L883.5 2138.6 L884.1 2137.3 L884.7 2136.6 L885.3 2134.5 L885.9 2133.7 L886.5 2136 L887.1 2135.4 L887.7 2130.4 L888.3 2129.9 L888.9 2135 L889.4 2134.5 L890 2133.5 L890.6 2133.1 L891.2 2130.7 L891.8 2130.3 L892.4 2134.1 L893 2133.7 L893.6 2128.7 L894.2 2128.4 L894.8 2129.2 L895.4 2128.9 L896 2128.3 L896.5 2128 L897.1 2131 L897.7 2130.7 L898.3 2128.2 L898.9 2128 L899.5 2126.2 L900.1 2126.1 L900.7 2125.6 L901.3 2125.5 L901.9 2126.4 L902.5 2126.2 L903 2124.8 L903.6 2124.7 L904.2 2121.7 L904.8 2121.5 L905.4 2126.1 L906 2125.9 L906.6 2128 L907.2 2127.8 L907.8 2120.8 L908.4 2120.7 L909 2126.7 L909.6 2126.6 L910.1 2122.3 L910.7 2122.1 L911.3 2123.7 L911.9 2123.5 L912.5 2126 L913.1 2125.9 L913.7 2122.5 L914.3 2122.4 L914.9 2120 L915.5 2119.9 L916.1 2128.4 L916.6 2128.3 L917.2 2122.8 L917.8 2122.7 L918.4 2123 L919 2122.9 L919.6 2119.9 L920.2 2119.8 L920.8 2121.3 L921.4 2121.2 L922 2125 L922.6 2124.9 L923.2 2127.5 L923.7 2127.4 L924.3 2121.2 L924.9 2121.1 L925.5 2120.2 L926.1 2120.1 L926.7 2122.9 L927.3 2122.8 L927.9 2122.2 L928.5 2122.1 L929.1 2124.1 L929.7 2124 L930.3 2119.8 L930.8 2119.8 L931.4 2121.2 L932 2121.2 L932.6 2119.5 L933.2 2119.4 L933.8 2121.8 L934.4 2121.7 L935 2122.8 L935.6 2122.8 L936.2 2122.3 L936.8 2122.2 L937.3 2116.3 L937.9 2116.2 L938.5 2117.6 L939.1 2117.6 L939.7 2118.1 L940.3 2118 L940.9 2117.4 L941.5 2117.3 L942.1 2120.7 L942.7 2120.6 L943.3 2120.2 L943.9 2120.1 L944.4 2123.3 L945 2123.2 L945.6 2118.4 L946.2 2118.3 L946.8 2117.1 L947.4 2117.1 L948 2120.7 L948.6 2120.7 L949.2 2115.5 L949.8 2115.5 L950.4 2121.9 L950.9 2121.9 L951.5 2119.9 L952.1 2119.9 L952.7 2119.2 L953.3 2119.2 L953.9 2116.9 L954.5 2116.9 L955.1 2116.5 L955.7 2116.5 L956.3 2121.3 L956.9 2121.2 L957.5 2117.3 L958 2117.3 L958.6 2112.4 L959.2 2112.4 L959.8 2120.7 L960.4 2120.7 L961 2117.5 L961.6 2117.5 L962.2 2119.8 L962.8 2119.8 L963.4 2119.7 L964.6 2119.7 L965.7 2122.4 L966.9 2122.5 L968.1 2119.8 L969.3 2119.8 L970.5 2129.2 L971.6 2129.2 L972.8 2123.8 L974 2123.8 L975.2 2121.6 L976.4 2121.6 L977.6 2120.6 L978.7 2120.6 L979.9 2122.1 L981.1 2122.1 L982.3 2123.6 L983.5 2123.7 L984.7 2118.6 L985.8 2118.6 L987 2127.2 L988.2 2127.2 L989.4 2123.3 L990.6 2123.3 L991.8 2120 L992.9 2120 L994.1 2123.2 L995.3 2123.2 L996.5 2121.6 L997.7 2121.6 L998.9 2122 L1000 2122 L1001.2 2123.5 L1002.4 2123.6 L1003.6 2122.7 L1004.8 2122.8 L1005.9 2125.9 L1007.1 2125.9 L1008.3 2123.5 L1009.5 2123.5 L1010.7 2123.3 L1011.9 2123.4 L1013 2123 L1014.2 2123.1 L1015.4 2125.1 L1016.6 2125.1 L1017.8 2124.9 L1019 2124.9 L1020.1 2127.8 L1021.3 2127.9 L1022.5 2121 L1023.7 2121 L1024.9 2124.9 L1026.1 2124.9 L1027.2 2125.8 L1028.4 2125.8 L1029.6 2128.6 L1030.8 2128.6 L1032 2124.9 L1033.2 2124.9 L1034.3 2121.3 L1035.5 2121.3 L1036.7 2119.5 L1037.9 2119.5 L1039.1 2128.2 L1040.2 2128.2 L1041.4 2119.7 L1042.6 2119.7 L1043.8 2124.9 L1045 2124.9 L1046.2 2125.9 L1047.3 2125.9 L1048.5 2123.5 L1049.7 2123.5 L1050.9 2123.8 L1052.1 2123.8 L1053.3 2121.3 L1054.4 2121.3 L1055.6 2123.9 L1056.8 2123.9 L1058 2124 L1059.2 2124 L1060.4 2123.4 L1061.5 2123.4 L1062.7 2122.1 L1063.9 2122.1 L1065.1 2120.4 L1066.3 2120.4 L1067.5 2123.2 L1068.6 2123.2 L1069.8 2122 L1071 2122 L1072.2 2121.2 L1073.4 2121.2 L1074.5 2121.9 L1075.7 2121.9 L1076.9 2123.1 L1078.1 2123.1 L1079.3 2125.2 L1080.5 2125.2 L1081.6 2124.6 L1082.8 2124.6 L1084 2125 L1085.2 2125 L1086.4 2119.7 L1087.6 2119.7 L1088.7 2127.2 L1089.9 2127.2 L1091.1 2120.9 L1092.3 2120.9 L1093.5 2120.7 L1094.7 2120.7 L1095.8 2122.3 L1097 2122.3 L1098.2 2124.5 L1099.4 2124.5 L1100.6 2123.2 L1101.8 2123.2 L1102.9 2122.3 L1104.1 2122.3 L1105.3 2123.2 L1106.5 2123.2 L1107.7 2127.2 L1108.8 2127.2 L1110 2125.2 L1111.2 2125.2 L1112.4 2124 L1113.6 2124 L1114.8 2125.4 L1115.9 2125.4 L1117.1 2122.7 L1118.3 2122.7 L1119.5 2123.3 L1120.7 2123.3 L1121.9 2119.3 L1123 2119.3 L1124.2 2124.2 L1125.4 2124.2 L1126.6 2123.8 L1127.8 2123.8 L1129 2119.6 L1130.1 2119.6 L1131.3 2121.3 L1132.5 2121.3 L1133.7 2125.6 L1134.9 2125.6 L1136.1 2121.7 L1137.2 2121.7 L1138.4 2125.4 L1139.6 2125.4 L1140.8 2122.3 L1142 2122.3 L1143.1 2117.9 L1144.3 2117.9 L1145.5 2123.9 L1146.7 2123.9 L1147.9 2121.1 L1149.1 2121.1 L1150.2 2121.9 L1151.4 2121.9 L1152.6 2119.8 L1153.8 2119.8 L1155 2124.5 L1156.2 2124.5 L1157.3 2123.1 L1158.5 2123.1 L1159.7 2121.8 L1160.9 2121.8 L1162.1 2124 L1163.3 2124 L1164.4 2124.6 L1165.6 2124.6 L1166.8 2122.6 L1168 2122.6 L1169.2 2121.4 L1170.4 2121.4 L1171.5 2122 L1172.7 2122 L1173.9 2125.1 L1175.1 2125.1 L1176.3 2122.7 L1177.4 2122.7 L1178.6 2123 L1179.8 2123 L1181 2120.2 L1182.2 2120.2 L1183.4 2124.8 L1184.5 2124.8 L1185.7 2124 L1186.9 2124 L1188.1 2119.5 L1189.3 2119.5 L1190.5 2123.9 L1191.6 2123.9 L1192.8 2125.3 L1194 2125.3 L1195.2 2124.2 L1196.4 2124.2 L1197.6 2124.4 L1198.7 2124.4 L1199.9 2124.4 L1201.1 2124.9 L1202.3 2120.8 L1203.5 2121.3 L1204.7 2126.9 L1205.8 2127.4 L1207 2129.7 L1208.2 2130.2 L1209.4 2124.4 L1210.6 2124.9 L1211.7 2127.9 L1212.9 2128.4 L1214.1 2128.2 L1215.3 2128.7 L1216.5 2129.9 L1217.7 2130.4 L1218.8 2130.3 L1220 2130.6 L1221.2 2130.3 L1222.4 2130.3 L1223.6 2131.2 L1224.8 2131.2 L1225.9 2135.2 L1227.1 2135.2 L1228.3 2131.6 L1229.5 2131.7 L1230.7 2133.9 L1231.9 2134 L1233 2131.1 L1234.2 2131.1 L1235.4 2131.7 L1236.6 2131.7 L1237.8 2128.6 L1239 2128.6 L1240.1 2137 L1241.3 2137 L1242.5 2133.9 L1243.7 2133.9 L1244.9 2134.1 L1246 2134.1 L1247.2 2134.2 L1248.4 2134.2 L1249.6 2130.6 L1250.8 2130.6 L1252 2134.3 L1253.1 2134.3 L1254.3 2134.2 L1255.5 2134.2 L1256.7 2130.3 L1257.9 2130.3 L1259.1 2134.7 L1260.2 2134.7 L1261.4 2135.5 L1262.6 2135.5 L1263.8 2134.3 L1265 2134.3 L1266.2 2131.8 L1267.3 2131.8 L1268.5 2135.1 L1269.7 2135.1 L1270.9 2132 L1272.1 2132 L1273.3 2133.7 L1274.4 2133.7 L1275.6 2130 L1276.8 2130.1 L1278 2132.6 L1279.2 2132.6 L1280.3 2128 L1281.5 2128 L1282.7 2132.4 L1283.9 2132.4 L1285.1 2134 L1286.3 2134 L1287.4 2132 L1288.6 2132 L1289.8 2132.4 L1291 2132.2 L1292.2 2132.7 L1293.4 2132.4 L1294.5 2125.5 L1295.7 2125.3 L1296.9 2127.5 L1298.1 2127.3 L1299.3 2127.6 L1300.5 2127.3 L1301.6 2127.1 L1302.8 2126.8 L1304 2131.1 L1305.2 2130.9 L1306.4 2129.8 L1307.6 2129.5 L1308.7 2130.7 L1309.9 2130.5 L1311.1 2125 L1312.3 2124.8 L1313.5 2122.9 L1314.6 2122.7 L1315.8 2127.5 L1317 2127.2 L1318.2 2126.3 L1319.4 2126 L1320.6 2126.5 L1321.7 2126.3 L1322.9 2124.3 L1324.1 2124.1 L1325.3 2124.3 L1326.5 2124.1 L1327.7 2123.4 L1328.8 2123.2 L1330 2122.5 L1331.2 2122.3 L1332.4 2122.8 L1333.6 2122.6 L1334.8 2123.2 L1335.9 2123 L1337.1 2119.2 L1338.3 2119 L1339.5 2120.7 L1340.7 2120.5 L1341.9 2123 L1343 2122.7 L1344.2 2117.5 L1345.4 2117.2 L1346.6 2120.4 L1347.8 2120.2 L1348.9 2117.7 L1350.1 2117.5 L1351.3 2119.4 L1352.5 2119.2 L1353.7 2114.8 L1354.9 2114.6 L1356 2114.3 L1357.2 2114.1 L1358.4 2117.7 L1359.6 2117.5 L1360.8 2117.7 L1362 2117.4 L1363.1 2117.5 L1364.3 2117.3 L1365.5 2115.2 L1366.7 2115 L1367.9 2114.6 L1369.1 2114.3 L1370.2 2122.8 L1371.4 2122.6 L1372.6 2119.2 L1373.8 2119 L1375 2116.6 L1376.2 2116.3 L1377.3 2110.8 L1378.5 2110.5 L1379.7 2113.1 L1380.9 2112.8 L1382.1 2117.6 L1383.2 2117.4 L1384.4 2112.7 L1385.6 2112.5 L1386.8 2114.2 L1388 2114 L1389.2 2113.1 L1390.3 2113 L1391.5 2114.1 L1392.7 2113.9 L1393.9 2112.7 L1395.1 2112.6 L1396.3 2114.4 L1397.4 2114.3 L1398.6 2112.6 L1399.8 2112.6 L1401 2113.6 L1402.2 2113.6 L1403.4 2108.6 L1404.5 2108.6 L1405.7 2112.2 L1406.9 2112.2 L1408.1 2110.5 L1409.3 2110.5 L1410.5 2113 L1411.6 2113 L1412.8 2109 L1414 2109 L1415.2 2110.6 L1416.4 2110.6 L1417.5 2112.6 L1418.7 2112.6 L1419.9 2108 L1421.1 2108 L1422.3 2111.8 L1423.5 2111.8 L1424.6 2104 L1425.8 2104 L1427 2110.5 L1428.2 2110.5 L1429.4 2110.7 L1430.6 2110.7 L1431.7 2110.6 L1432.9 2110.7 L1434.1 2107.3 L1435.3 2107.3 L1436.5 2110.6 L1437.7 2110.6 L1438.8 2112.4 L1440 2112.4 L1441.2 2114.6 L1442.4 2114.6 L1443.6 2106 L1444.8 2106 L1445.9 2107.3 L1447.1 2107.3 L1448.3 2106.6 L1449.5 2106.6 L1450.7 2111.3 L1451.8 2111.3 L1453 2114.5 L1454.2 2114.5 L1455.4 2110.3 L1456.6 2110.3 L1457.8 2113.9 L1458.9 2113.9 L1460.1 2112.6 L1461.3 2112.6 L1462.5 2107.5 L1463.7 2107.5 L1464.9 2112.7 L1466 2112.7 L1467.2 2114.8 L1468.4 2114.8 L1469.6 2110.9 L1470.8 2110.9 L1472 2116.2 L1473.1 2116.2 L1474.3 2109.6 L1475.5 2109.6 L1476.7 2114 L1477.9 2114 L1479.1 2107.2 L1480.2 2107.2 L1481.4 2115.3 L1482.6 2115.3 L1483.8 2114.8 L1485 2114.8 L1486.1 2112.6 L1487.3 2112.6 L1488.5 2118.9 L1489.7 2118.9 L1490.9 2114.9 L1492.1 2114.9 L1493.2 2111.7 L1494.4 2111.7 L1495.6 2109.7 L1496.8 2109.7 L1498 2112 L1499.2 2112 L1500.3 2109.9 L1501.5 2109.9 L1502.7 2110.8 L1503.9 2110.8 L1505.1 2111.4 L1506.3 2111.4 L1507.4 2114 L1508.6 2114 L1509.8 2112.1 L1511 2112.1 L1512.2 2108.4 L1513.4 2108.4 L1514.5 2108.6 L1515.7 2108.6 L1516.9 2109.5 L1518.1 2109.5 L1519.3 2113.7 L1520.4 2113.7 L1521.6 2107.5 L1522.8 2107.5 L1524 2113.4 L1525.2 2113.4 L1526.4 2111.2 L1527.5 2111.2 L1528.7 2106.2 L1529.9 2106.2 L1531.1 2116.8 L1532.3 2116.8 L1533.5 2111.2 L1534.6 2111.2 L1535.8 2108.9 L1537 2108.9 L1538.2 2112.3 L1539.4 2112.3 L1540.6 2116.6 L1541.7 2116.6 L1542.9 2108.6 L1544.1 2108.6 L1545.3 2107.6 L1546.5 2107.6 L1547.7 2106.6 L1548.8 2106.6 L1550 2114.5 L1551.2 2114.5 L1552.4 2115.9 L1553.6 2115.9 L1554.7 2110.4 L1555.9 2110.4 L1557.1 2105.3 L1558.3 2105.3 L1559.5 2112 L1560.7 2112 L1561.8 2108.2 L1563 2108.2 L1564.2 2113.1 L1565.4 2113.1 L1566.6 2109.5 L1567.8 2109.5 L1568.9 2109 L1570.1 2109 L1571.3 2112.5 L1572.5 2112.5 L1573.7 2105.9 L1574.9 2105.9 L1576 2105.7 L1577.2 2105.7 L1578.4 2113.3 L1579.6 2113.3 L1580.8 2115 L1582 2115 L1583.1 2116.8 L1584.3 2116.8 L1585.5 2108 L1586.7 2108 L1587.9 2110.6 L1589 2110.6 L1590.2 2112.5 L1591.4 2112.5 L1592.6 2113.4 L1593.8 2113.4 L1595 2112.8 L1596.1 2112.8 L1597.3 2107.3 L1598.5 2107.3 L1599.7 2109.6 L1600.9 2109.6 L1602.1 2118.1 L1603.2 2118.1 L1604.4 2115.4 L1605.6 2115.4 L1606.8 2116 L1608 2116 L1609.2 2110.3 L1610.3 2110.3 L1611.5 2111 L1612.7 2111 L1613.9 2108.6 L1615.1 2108.6 L1616.3 2112.7 L1617.4 2112.7 L1618.6 2112.4 L1619.8 2112.4 L1621 2113.2 L1622.2 2113.2 L1623.3 2109.2 L1624.5 2109.2 L1625.7 2114.9 L1626.9 2114.9 L1628.1 2113.1 L1629.3 2113.1 L1630.4 2117.2 L1631.6 2117.2 L1632.8 2109 L1634 2109 L1635.2 2115.5 L1636.4 2115.5 L1637.5 2112.9 L1638.7 2112.9 L1639.9 2111.6 L1641.1 2111.6 L1642.3 2112.6 L1643.5 2112.6 L1644.6 2118.3 L1645.8 2118.3 L1647 2109.8 L1648.2 2109.8 L1649.4 2109.1 L1650.6 2109.1 L1651.7 2111 L1652.9 2111 L1654.1 2112.7 L1655.3 2112.7 L1656.5 2111.6 L1657.6 2111.6 L1658.8 2104.8 L1660 2104.8 L1661.2 2114.3 L1662.4 2114.3 L1663.6 2108.8 L1664.7 2108.8 L1665.9 2105.9 L1667.1 2105.9 L1668.3 2108.1 L1669.5 2108.1 L1670.7 2111.3 L1671.8 2111.3 L1673 2120.5 L1674.2 2120.5 L1675.4 2105.9 L1676.6 2105.9 L1677.8 2113 L1678.9 2113 L1680.1 2109.6 L1681.3 2109.6 L1682.5 2116.7 L1683.7 2116.7 L1684.9 2108.7 L1686 2108.7 L1687.2 2111.5 L1688.4 2111.5 L1689.6 2107.3 L1690.8 2107.3 L1691.9 2119.3 L1693.1 2119.3 L1694.3 2110.2 L1695.5 2110.2 L1696.7 2111.5 L1697.9 2111.5 L1699 2112 L1700.2 2112 L1701.4 2110.6 L1702.6 2110.6 L1703.8 2112.3 L1705 2112.3 L1706.1 2109 L1707.3 2109 L1708.5 2115 L1709.7 2115 L1710.9 2109.9 L1712.1 2109.9 L1713.2 2107.8 L1714.4 2107.8 L1715.6 2114.4 L1716.8 2114.4 L1718 2105.3 L1719.2 2105.3 L1720.3 2111.5 L1721.5 2111.5 L1722.7 2113.4 L1723.9 2113.4 L1725.1 2109.7 L1726.2 2109.7 L1727.4 2109.8 L1728.6 2109.8 L1729.8 2110.4 L1731 2110.4 L1732.2 2109.9 L1733.3 2109.9 L1734.5 2111.5 L1735.7 2111.5 L1736.9 2116.8 L1738.1 2116.8 L1739.3 2107 L1740.4 2107 L1741.6 2110.6 L1742.8 2110.6 L1744 2115.2 L1745.2 2115.2 L1746.4 2109 L1747.5 2109 L1748.7 2109.7 L1749.9 2109.7 L1751.1 2110 L1752.3 2110 L1753.5 2109.7 L1754.6 2109.7 L1755.8 2106.8 L1757 2106.8 L1758.2 2114.9 L1759.4 2114.9 L1760.5 2107.9 L1761.7 2107.9 L1762.9 2104.7 L1764.1 2104.7 L1765.3 2110.4 L1766.5 2110.4 L1767.6 2118.3 L1768.8 2118.3 L1770 2111.6 L1771.2 2111.6 L1772.4 2114.7 L1773.6 2114.7 L1774.7 2114.8 L1775.9 2114.8 L1777.1 2112.8 L1778.3 2112.8 L1779.5 2106.6 L1780.7 2106.6 L1781.8 2113.7 L1783 2113.7 L1784.2 2111.4 L1785.4 2111.4 L1786.6 2108.9 L1787.8 2108.9 L1788.9 2112.6 L1790.1 2112.6 L1791.3 2108.9 L1792.5 2108.9 L1793.7 2113 L1794.8 2113 L1796 2104.9 L1797.2 2104.9 L1798.4 2110.6 L1799.6 2110.6 L1800.8 2113 L1801.9 2113 L1803.1 2112.4 L1804.3 2112.4 L1805.5 2113.3 L1806.7 2113.3 L1807.9 2112.4 L1809 2112.4 L1810.2 2112.9 L1811.4 2112.9 L1812.6 2117.7 L1813.8 2117.7 L1815 2111.8 L1816.1 2111.8 L1817.3 2116.7 L1818.5 2116.7 L1819.7 2113.9 L1820.9 2113.9 L1822.1 2112.7 L1823.2 2112.7 L1824.4 2112.4 L1825.6 2112.4 L1826.8 2111.7 L1828 2111.7 L1829.1 2109.4 L1830.3 2109.4 L1831.5 2112.6 L1832.7 2112.6 L1833.9 2107.9 L1835.1 2107.9 L1836.2 2108.3 L1837.4 2108.3 L1838.6 2109.1 L1839.8 2109.1 L1841 2110.2 L1842.2 2110.2 L1843.3 2111 L1844.5 2111 L1845.7 2111.4 L1846.9 2111.4 L1848.1 2112.5 L1849.3 2112.5 L1850.4 2110.7 L1851.6 2110.7 L1852.8 2117.5 L1854 2117.5 L1855.2 2116.3 L1856.4 2116.3 L1857.5 2111 L1858.7 2111 L1859.9 2106.3 L1861.1 2106.3 L1862.3 2113.1 L1863.4 2113.1 L1864.6 2113.9 L1865.8 2113.9 L1867 2117.7 L1868.2 2117.8 L1869.4 2111.5 L1870.5 2111.5 L1871.7 2112.5 L1872.9 2112.5 L1874.1 2113.7 L1875.3 2113.7 L1876.5 2116.9 L1877.6 2116.9 L1878.8 2106.7 L1880 2106.7 L1881.2 2110.3 L1882.4 2110.3 L1883.6 2107.1 L1884.7 2107.1 L1885.9 2109 L1887.1 2109 L1888.3 2114.4 L1889.5 2114.4 L1890.7 2111.4 L1891.8 2111.4 L1893 2110.1 L1894.2 2110.1 L1895.4 2112.6 L1896.6 2112.6 L1897.7 2112.7 L1898.9 2112.7 L1900.1 2113.5 L1901.3 2113.5 L1902.5 2113.5 L1903.7 2113.5 L1904.8 2111.4 L1906 2111.4 L1907.2 2116.6 L1908.4 2116.6 L1909.6 2118.2 L1910.8 2118.2 L1911.9 2113 L1913.1 2113 L1914.3 2117.1 L1915.5 2117.1 L1916.7 2111.2 L1917.9 2111.2 L1919 2113.9 L1920.2 2113.9 L1921.4 2112 L1922.6 2112 L1923.8 2106.4 L1925 2106.4 L1926.1 2112.6 L1927.3 2112.6 L1928.5 2111 L1929.7 2111 L1930.9 2110.8 L1932 2110.8 L1933.2 2108.5 L1934.4 2108.5 L1935.6 2114.6 L1936.8 2114.6 L1938 2108.6 L1939.1 2108.6 L1940.3 2111.3 L1941.5 2111.3 L1942.7 2111.1 L1943.9 2111.1 L1945.1 2109.5 L1946.2 2109.5 L1947.4 2108.9 L1948.6 2108.9" fill="none" stroke="#ee5624" stroke-width="10" stroke-linejoin="round" stroke-linecap="butt"/>
<path d="M234 2111.7 L235.2 2111.7 L236.4 2106.7 L237.5 2106.7 L238.7 2106.1 L239.9 2106.1 L241.1 2110 L242.3 2110 L243.5 2109.7 L244.6 2109.7 L245.8 2108.6 L247 2108.6 L248.2 2111.5 L249.4 2111.5 L250.6 2107.7 L251.7 2107.7 L252.9 2116.1 L254.1 2116.1 L255.3 2110.3 L256.5 2110.3 L257.7 2125.8 L258.8 2125.8 L260 2115.7 L261.2 2115.7 L262.4 2109.1 L263.6 2109.1 L264.8 2108.4 L265.9 2108.4 L267.1 2091.8 L268.3 2091.8 L269.5 2114.8 L270.7 2114.8 L271.8 2112 L273 2112 L274.2 2115.1 L275.4 2115.1 L276.6 2114.4 L277.8 2114.4 L278.9 2111.2 L280.1 2111.2 L281.3 2112.9 L282.5 2112.9 L283.7 2110.3 L284.9 2110.3 L286 2113.7 L287.2 2113.7 L288.4 2122.3 L289.6 2122.3 L290.8 2107.1 L292 2107.1 L293.1 2111.4 L294.3 2111.4 L295.5 2115.2 L296.7 2115.2 L297.9 2105.8 L299.1 2105.8 L300.2 2103.7 L301.4 2103.7 L302.6 2116.3 L303.8 2116.3 L305 2115.1 L306.1 2115.1 L307.3 2118.5 L308.5 2118.5 L309.7 2115.5 L310.9 2115.5 L312.1 2116 L313.2 2116 L314.4 2114.3 L315.6 2114.3 L316.8 2118.2 L318 2118.2 L319.2 2116.3 L320.3 2116.3 L321.5 2104.9 L322.7 2104.9 L323.9 2105.9 L325.1 2105.9 L326.3 2113.7 L327.4 2113.7 L328.6 2113.3 L329.8 2113.3 L331 2114.5 L332.2 2114.5 L333.4 2112 L334.5 2112 L335.7 2114.9 L336.9 2114.9 L338.1 2115.3 L339.3 2115.3 L340.4 2108.4 L341.6 2108.4 L342.8 2116.3 L344 2116.3 L345.2 2113.9 L346.4 2113.9 L347.5 2118.4 L348.7 2118.4 L349.9 2111.9 L351.1 2111.9 L352.3 2118.2 L353.5 2118.2 L354.6 2120.4 L355.8 2120.4 L357 2117.5 L358.2 2117.5 L359.4 2115.2 L360.6 2115.2 L361.7 2117.6 L362.9 2117.6 L364.1 2106.3 L365.3 2106.3 L366.5 2112.3 L367.7 2112.3 L368.8 2113.7 L370 2113.8 L371.2 2113.3 L372.4 2113.3 L373.6 2111.3 L374.7 2111.3 L375.9 2114.4 L377.1 2114.4 L378.3 2108.6 L379.5 2108.6 L380.7 2113.9 L381.8 2113.9 L383 2114.6 L384.2 2114.6 L385.4 2110.4 L386.6 2110.4 L387.8 2114.3 L388.9 2114.3 L390.1 2120.2 L391.3 2120.2 L392.5 2120.9 L393.7 2120.9 L394.9 2114.7 L396 2114.7 L397.2 2113.2 L398.4 2113.2 L399.6 2104.7 L400.8 2104.7 L402 2118.4 L403.1 2118.4 L404.3 2116.1 L405.5 2116.1 L406.7 2115.9 L407.9 2115.9 L409 2106.7 L410.2 2106.7 L411.4 2101.1 L412.6 2101.1 L413.8 2114.3 L415 2114.3 L416.1 2111.5 L417.3 2111.5 L418.5 2126.1 L419.7 2126.1 L420.9 2109.1 L422.1 2109.1 L423.2 2113.3 L424.4 2113.3 L425.6 2111 L426.8 2111 L428 2120.7 L429.2 2120.7 L430.3 2109.1 L431.5 2109.2 L432.7 2110.5 L433.9 2110.5 L435.1 2103.2 L436.3 2103.2 L437.4 2113.8 L438.6 2113.8 L439.8 2108.1 L441 2108.1 L442.2 2109.8 L443.3 2109.8 L444.5 2113.7 L445.7 2113.7 L446.9 2121.1 L448.1 2121.1 L449.3 2109.8 L450.4 2109.8 L451.6 2113.5 L452.8 2113.5 L454 2107.1 L455.2 2107.1 L456.4 2113.3 L457.5 2113.3 L458.7 2119.6 L459.9 2119.6 L461.1 2113.2 L462.3 2113.2 L463.5 2113.2 L464.6 2113.2 L465.8 2111.7 L467 2111.7 L468.2 2110.8 L469.4 2110.8 L470.6 2113.6 L471.7 2113.6 L472.9 2120.5 L474.1 2120.5 L475.3 2118.7 L476.5 2118.7 L477.6 2113.4 L478.8 2113.4 L480 2113.3 L481.2 2113.3 L482.4 2109.1 L483.6 2109.1 L484.7 2113 L485.9 2113 L487.1 2109.4 L488.3 2109.4 L489.5 2112.6 L490.7 2112.6 L491.8 2115.1 L493 2115.1 L494.2 2106.2 L495.4 2106.2 L496.6 2113.9 L497.8 2113.9 L498.9 2114 L500.1 2114 L501.3 2112.9 L502.5 2112.9 L503.7 2109.6 L504.9 2109.6 L506 2114.7 L507.2 2114.7 L508.4 2112.7 L509.6 2112.7 L510.8 2116.1 L511.9 2116.1 L513.1 2111.8 L514.3 2111.8 L515.5 2122.6 L516.7 2122.6 L517.9 2116.3 L519 2116.3 L520.2 2115.8 L521.4 2115.8 L522.6 2114.4 L523.8 2114.4 L525 2115.4 L526.1 2115.4 L527.3 2109.7 L528.5 2109.7 L529.7 2110.7 L530.9 2110.7 L532.1 2101.8 L533.2 2101.8 L534.4 2112.7 L535.6 2112.7 L536.8 2107.8 L538 2107.8 L539.2 2116.1 L540.3 2116.1 L541.5 2115 L542.7 2115 L543.9 2111.5 L545.1 2111.5 L546.2 2119.3 L547.4 2119.3 L548.6 2114 L549.8 2114 L551 2108.5 L552.2 2108.5 L553.3 2106.4 L554.5 2106.4 L555.7 2117.4 L556.9 2117.4 L558.1 2108.8 L559.3 2108.8 L560.4 2118.4 L561.6 2118.4 L562.8 2105.5 L564 2105.5 L565.2 2111.3 L566.4 2111.3 L567.5 2114.1 L568.7 2114.1 L569.9 2115.4 L571.1 2116.2 L572.3 2113.3 L573.5 2114.1 L574.6 2111 L575.8 2111.9 L577 2116.3 L578.2 2117.1 L579.4 2115.8 L580.5 2116.6 L581.7 2118 L582.9 2118.8 L584.1 2119.9 L585.3 2120.7 L586.5 2116.8 L587.6 2117.6 L588.8 2122.3 L590 2123.1 L591.2 2128 L592.4 2128.8 L593.6 2128.3 L594.7 2128.7 L595.9 2136.4 L597.1 2136.8 L598.3 2138 L599.5 2138.4 L600.7 2133.5 L601.8 2133.9 L603 2132.9 L604.2 2133.3 L605.4 2135.1 L606.6 2135.5 L607.8 2135.3 L608.9 2135.7 L610.1 2130.9 L611.3 2131.3 L612.5 2134.8 L613.7 2135.2 L614.8 2143.9 L616 2144.3 L617.2 2134.5 L618.4 2134.9 L619.6 2135 L620.8 2135.1 L621.9 2138 L623.1 2138.1 L624.3 2137.2 L625.5 2137.3 L626.7 2140.5 L627.9 2140.5 L629 2136.5 L630.2 2136.5 L631.4 2122.3 L632.6 2122.3 L633.8 2139 L635 2139 L636.1 2134.9 L637.3 2135 L638.5 2138.3 L639.7 2138.3 L640.9 2138.6 L642.1 2138.6 L643.2 2132.8 L644.4 2132.9 L645.6 2139.9 L646.8 2140 L648 2134.7 L649.1 2134.7 L650.3 2138 L651.5 2138 L652.7 2141.3 L653.9 2141.3 L655.1 2141 L656.2 2141 L657.4 2137 L658.6 2137 L659.8 2132.5 L661 2132.5 L662.2 2143 L663.3 2143.1 L664.5 2144.3 L665.7 2144.3 L666.9 2133.9 L668.1 2133.8 L669.3 2148.4 L670.4 2148.1 L671.6 2137.9 L672.8 2137.6 L674 2144.3 L675.2 2144.1 L676.4 2133.3 L677.5 2133.1 L678.7 2143.4 L679.9 2143.2 L681.1 2133.1 L682.3 2132.9 L683.4 2137.3 L684.6 2137 L685.8 2135.6 L687 2135.3 L688.2 2136.9 L689.4 2136.6 L690.5 2138.2 L691.7 2137.9 L692.9 2135.6 L694.1 2135.2 L695.3 2130.7 L696.5 2130.2 L697.6 2140.4 L698.8 2140 L700 2136.9 L701.2 2136.5 L702.4 2127.3 L703.6 2126.9 L704.7 2128.1 L705.9 2127.7 L706.7 2120.9 L707.3 2121 L707.9 2133.7 L708.5 2133.8 L709.1 2132.8 L709.7 2132.9 L710.3 2129.3 L710.8 2129.4 L711.4 2128.8 L712 2128.9 L712.6 2128.4 L713.2 2128.5 L713.8 2128.7 L714.4 2128.9 L715 2127 L715.6 2127.1 L716.2 2137.7 L716.8 2137.8 L717.4 2129.6 L717.9 2129.8 L718.5 2133 L719.1 2133.2 L719.7 2133.7 L720.3 2133.9 L720.9 2124.6 L721.5 2124.8 L722.1 2133.2 L722.7 2133.4 L723.3 2127.2 L723.9 2127.4 L724.5 2122 L725 2122.2 L725.6 2123.5 L726.2 2123.7 L726.8 2133.4 L727.4 2133.6 L728 2134.2 L728.6 2134.4 L729.2 2133.7 L729.8 2134 L730.4 2128.8 L731 2129 L731.5 2131.6 L732.1 2131.8 L732.7 2135.1 L733.3 2135.3 L733.9 2136 L734.5 2136.2 L735.1 2140.1 L735.7 2140.4 L736.3 2135.7 L736.9 2135.9 L737.5 2142.7 L738.1 2142.9 L738.6 2141.3 L739.2 2141.6 L739.8 2138.3 L740.4 2138.5 L741 2142.2 L741.6 2142.4 L742.2 2145.6 L742.8 2145.9 L743.4 2140.8 L744 2141.1 L744.6 2145 L745.1 2145.2 L745.7 2139.1 L746.3 2139.4 L746.9 2141.1 L747.5 2141.4 L748.1 2147.8 L748.7 2148.1 L749.3 2141.5 L749.9 2141.8 L750.5 2140.8 L751.1 2141.1 L751.7 2143.4 L752.2 2143.7 L752.8 2145.7 L753.4 2146 L754 2147.3 L754.6 2147.6 L755.2 2138.5 L755.8 2138.8 L756.4 2146.3 L757 2146.7 L757.6 2147.5 L758.2 2147.9 L758.8 2149.7 L759.3 2150.2 L759.9 2154.2 L760.5 2154.7 L761.1 2151.4 L761.7 2151.9 L762.3 2150.9 L762.9 2151.5 L763.5 2152.4 L764.1 2152.9 L764.7 2153.6 L765.3 2154.2 L765.8 2155.1 L766.4 2155.7 L767 2157.9 L767.6 2158.8 L768.2 2158.4 L768.8 2159.5 L769.4 2159.4 L770 2160.7 L770.6 2163.4 L771.2 2164.8 L771.8 2169.6 L772.4 2171.2 L772.9 2170.6 L773.5 2172.3 L774.1 2175.6 L774.7 2177.4 L775.3 2177.9 L775.9 2179.8 L776.5 2177.2 L777.1 2179.2 L777.7 2184.9 L778.3 2186.9 L778.9 2189.5 L779.4 2191.5 L780 2194.7 L780.6 2196.7 L781.2 2196.7 L781.8 2198.8 L782.4 2198.7 L783 2200.8 L783.6 2206 L784.2 2208.3 L784.8 2208.7 L785.4 2211.1 L786 2213.8 L786.5 2216.3 L787.1 2219.9 L787.7 2222.6 L788.3 2223.3 L788.9 2226.1 L789.5 2230.6 L790.1 2233.5 L790.7 2237 L791.3 2240.1 L791.9 2243.2 L792.5 2246.5 L793.1 2248.6 L793.6 2252.1 L794.2 2253.3 L794.8 2257 L795.4 2262.3 L796 2266.5 L796.6 2273.4 L797.2 2278.2 L797.8 2282.2 L798.4 2287.5 L799 2294.3 L799.6 2300.2 L800.1 2306.3 L800.7 2312.5 L801.3 2320.3 L801.9 2326.9 L802.5 2330.5 L803.1 2337.4 L803.7 2345.7 L804.3 2352.9 L804.9 2359.6 L805.5 2367.3 L806.1 2378.8 L806.7 2387.4 L807.2 2392.2 L807.8 2401.6 L808.4 2413.7 L809 2423.5 L809.6 2433.2 L810.2 2443.3 L810.8 2451.2 L811.4 2461.5 L812 2471.9 L812.6 2482.2 L813.2 2492.5 L813.7 2502.5 L814.3 2512.2 L814.9 2522.1 L815.5 2531.5 L816.1 2541.6 L816.7 2553.8 L817.3 2564 L817.9 2575.3 L818.5 2585.5 L819.1 2594.1 L819.7 2604.2 L820.3 2613.5 L820.8 2623.5 L821.4 2633.2 L822 2643.1 L822.6 2652.2 L823.2 2661.8 L823.8 2673.3 L824.4 2682.8 L825 2690.3 L825.6 2700.2 L826.2 2712.5 L826.8 2722.4 L827.4 2729.7 L827.9 2739.1 L828.5 2750.3 L829.1 2758.8 L829.7 2763.7 L830.3 2770.7 L830.9 2778.4 L831.5 2783.9 L832.1 2791.5 L832.7 2795.9 L833.3 2797.9 L833.9 2801.8 L834.4 2802.1 L835 2806.1 L835.6 2811.9 L836.2 2815.7 L836.8 2821.3 L837.4 2824.2 L838 2823.3 L838.6 2824.7 L839.2 2828.2 L839.8 2829.4 L840.4 2830.6 L841 2831.5 L841.5 2830.9 L842.1 2831.4 L842.7 2833.3 L843.3 2833.4 L843.9 2832.6 L844.5 2832.2 L845.1 2832.6 L845.7 2831.8 L846.3 2826.6 L846.9 2825.5 L847.5 2829 L848 2827.6 L848.6 2826.8 L849.2 2822.7 L849.8 2811.7 L850.4 2804.9 L851 2801.3 L851.6 2790.1 L852.2 2771.1 L852.8 2753.1 L853.4 2737.2 L854 2719.5 L854.6 2700.8 L855.1 2681.4 L855.7 2659.4 L856.3 2639.1 L856.9 2621.2 L857.5 2600.9 L858.1 2579.2 L858.7 2559.8 L859.3 2540.7 L859.9 2523.1 L860.5 2505.3 L861.1 2488.3 L861.7 2474.1 L862.2 2457.6 L862.8 2442.1 L863.4 2426.2 L864 2404.8 L864.6 2389.6 L865.2 2380.5 L865.8 2366 L866.4 2349.8 L867 2336.1 L867.6 2323 L868.2 2309 L868.7 2295.4 L869.3 2281.3 L869.9 2264.8 L870.5 2251.5 L871.1 2241.6 L871.7 2229.8 L872.3 2217.1 L872.9 2207.6 L873.5 2202.1 L874.1 2195.6 L874.7 2187.7 L875.3 2182.5 L875.8 2180.9 L876.4 2176.3 L877 2169.6 L877.6 2165.5 L878.2 2162.1 L878.8 2158.5 L879.4 2155.9 L880 2152.7 L880.6 2153.1 L881.2 2150.4 L881.8 2146 L882.3 2143.6 L882.9 2144.4 L883.5 2142.4 L884.1 2137.9 L884.7 2135.9 L885.3 2130.6 L885.9 2128.7 L886.5 2135.2 L887.1 2133.6 L887.7 2126.7 L888.3 2125.3 L888.9 2119.4 L889.4 2118.4 L890 2115.9 L890.6 2115.6 L891.2 2119.6 L891.8 2119.8 L892.4 2117.9 L893 2118.5 L893.6 2119.4 L894.2 2120.2 L894.8 2126.7 L895.4 2127.7 L896 2123.1 L896.5 2124.1 L897.1 2129 L897.7 2129.9 L898.3 2123.9 L898.9 2124.6 L899.5 2132 L900.1 2132.3 L900.7 2126.2 L901.3 2126.2 L901.9 2132.8 L902.5 2132.8 L903 2131.7 L903.6 2131.7 L904.2 2132.1 L904.8 2132.1 L905.4 2128.3 L906 2128.3 L906.6 2130.7 L907.2 2130.7 L907.8 2150.2 L908.4 2150.2 L909 2129.8 L909.6 2129.8 L910.1 2131.7 L910.7 2131.7 L911.3 2129.9 L911.9 2129.8 L912.5 2133.4 L913.1 2133.4 L913.7 2126.1 L914.3 2126.1 L914.9 2134 L915.5 2134 L916.1 2127.5 L916.6 2127.5 L917.2 2128.5 L917.8 2128.5 L918.4 2123.2 L919 2123.2 L919.6 2128 L920.2 2127.9 L920.8 2131.1 L921.4 2131.1 L922 2127 L922.6 2126.9 L923.2 2144.8 L923.7 2144.7 L924.3 2138.2 L924.9 2138.2 L925.5 2130.5 L926.1 2130.5 L926.7 2128.1 L927.3 2128.1 L927.9 2129.8 L928.5 2129.7 L929.1 2120 L929.7 2119.9 L930.3 2132.8 L930.8 2132.8 L931.4 2123.6 L932 2123.6 L932.6 2127 L933.2 2127 L933.8 2146.4 L934.4 2146.3 L935 2134 L935.6 2134 L936.2 2128.8 L936.8 2128.7 L937.3 2133.7 L937.9 2133.7 L938.5 2135.1 L939.1 2135.1 L939.7 2136.2 L940.3 2136.2 L940.9 2120.9 L941.5 2120.9 L942.1 2124.9 L942.7 2124.9 L943.3 2131.1 L943.9 2131.1 L944.4 2127.9 L945 2127.8 L945.6 2133.1 L946.2 2133.1 L946.8 2126.6 L947.4 2126.5 L948 2131.4 L948.6 2131.4 L949.2 2129.5 L949.8 2129.4 L950.4 2132.3 L950.9 2132.3 L951.5 2131.3 L952.1 2131.2 L952.7 2125.5 L953.3 2125.5 L953.9 2138.1 L954.5 2138 L955.1 2121 L955.7 2120.9 L956.3 2124.1 L956.9 2124 L957.5 2138.2 L958 2138.1 L958.6 2125.6 L959.2 2125.5 L959.8 2129.4 L960.4 2129.3 L961 2149.5 L961.6 2149.4 L962.2 2128.2 L962.8 2128.1 L963.4 2134.5 L964.6 2134.6 L965.7 2138.8 L966.9 2139 L968.1 2137.2 L969.3 2137.3 L970.5 2128.5 L971.6 2128.7 L972.8 2143.9 L974 2144.1 L975.2 2130.3 L976.4 2130.5 L977.6 2160 L978.7 2160.1 L979.9 2133.3 L981.1 2133.5 L982.3 2132.9 L983.5 2133.1 L984.7 2138.5 L985.8 2138.7 L987 2137.4 L988.2 2137.6 L989.4 2139 L990.6 2139.2 L991.8 2130.1 L992.9 2130.3 L994.1 2139.4 L995.3 2139.6 L996.5 2141.5 L997.7 2141.7 L998.9 2140.2 L1000 2140.4 L1001.2 2144.6 L1002.4 2144.8 L1003.6 2137.1 L1004.8 2137.1 L1005.9 2139.9 L1007.1 2139.9 L1008.3 2124 L1009.5 2124 L1010.7 2139.9 L1011.9 2139.9 L1013 2140.5 L1014.2 2140.5 L1015.4 2140.1 L1016.6 2140.1 L1017.8 2134.4 L1019 2134.4 L1020.1 2139.7 L1021.3 2139.7 L1022.5 2139 L1023.7 2139 L1024.9 2139.7 L1026.1 2139.7 L1027.2 2147.2 L1028.4 2147.2 L1029.6 2129.8 L1030.8 2129.8 L1032 2147.8 L1033.2 2147.8 L1034.3 2141.7 L1035.5 2141.7 L1036.7 2141 L1037.9 2141 L1039.1 2137.6 L1040.2 2137.6 L1041.4 2136.3 L1042.6 2136.3 L1043.8 2151.1 L1045 2151.1 L1046.2 2138.8 L1047.3 2138.8 L1048.5 2145.7 L1049.7 2145.7 L1050.9 2137.2 L1052.1 2137.2 L1053.3 2150.9 L1054.4 2150.9 L1055.6 2138.4 L1056.8 2138.4 L1058 2152.9 L1059.2 2152.9 L1060.4 2147.4 L1061.5 2147.4 L1062.7 2140.5 L1063.9 2140.5 L1065.1 2136.2 L1066.3 2136.2 L1067.5 2135.2 L1068.6 2135.2 L1069.8 2137.6 L1071 2137.6 L1072.2 2143.5 L1073.4 2143.5 L1074.5 2138.4 L1075.7 2138.4 L1076.9 2140.4 L1078.1 2140.4 L1079.3 2143.1 L1080.5 2143.1 L1081.6 2133.9 L1082.8 2133.9 L1084 2139.2 L1085.2 2139.2 L1086.4 2139.3 L1087.6 2139.3 L1088.7 2135.3 L1089.9 2135.3 L1091.1 2143 L1092.3 2143 L1093.5 2140.5 L1094.7 2140.5 L1095.8 2147 L1097 2147 L1098.2 2145.2 L1099.4 2145.2 L1100.6 2148.1 L1101.8 2148.2 L1102.9 2146.7 L1104.1 2146.7 L1105.3 2145.9 L1106.5 2146 L1107.7 2140.9 L1108.8 2140.9 L1110 2137.1 L1111.2 2137.1 L1112.4 2143.4 L1113.6 2143.4 L1114.8 2139.6 L1115.9 2139.6 L1117.1 2127.6 L1118.3 2127.6 L1119.5 2143.9 L1120.7 2144 L1121.9 2141.9 L1123 2141.9 L1124.2 2118.4 L1125.4 2118.4 L1126.6 2129.9 L1127.8 2129.9 L1129 2142.6 L1130.1 2142.6 L1131.3 2130.6 L1132.5 2130.6 L1133.7 2138.9 L1134.9 2138.9 L1136.1 2148.7 L1137.2 2148.7 L1138.4 2155.9 L1139.6 2155.9 L1140.8 2145.4 L1142 2145.4 L1143.1 2140.9 L1144.3 2140.9 L1145.5 2136.2 L1146.7 2136.2 L1147.9 2139.2 L1149.1 2139.2 L1150.2 2146.2 L1151.4 2146.2 L1152.6 2129.7 L1153.8 2129.7 L1155 2144 L1156.2 2144 L1157.3 2136.5 L1158.5 2136.5 L1159.7 2145.1 L1160.9 2145.1 L1162.1 2139.9 L1163.3 2139.9 L1164.4 2152.3 L1165.6 2152.4 L1166.8 2141.6 L1168 2141.6 L1169.2 2142.4 L1170.4 2142.4 L1171.5 2132.7 L1172.7 2132.7 L1173.9 2126.6 L1175.1 2126.6 L1176.3 2146.6 L1177.4 2146.6 L1178.6 2135.4 L1179.8 2135.4 L1181 2143.8 L1182.2 2143.8 L1183.4 2142.5 L1184.5 2142.5 L1185.7 2139.5 L1186.9 2139.5 L1188.1 2143.9 L1189.3 2143.9 L1190.5 2139.1 L1191.6 2139.1 L1192.8 2145 L1194 2145 L1195.2 2143 L1196.4 2143.1 L1197.6 2139.3 L1198.7 2139.3 L1199.9 2152.9 L1201.1 2152.9 L1202.3 2141.7 L1203.5 2141.7 L1204.7 2139.7 L1205.8 2139.7 L1207 2137.5 L1208.2 2137.5 L1209.4 2143.1 L1210.6 2143.1 L1211.7 2148.5 L1212.9 2148.5 L1214.1 2142.1 L1215.3 2142.1 L1216.5 2142.1 L1217.7 2142.1 L1218.8 2144.3 L1220 2144.3 L1221.2 2134.7 L1222.4 2134.7 L1223.6 2150.3 L1224.8 2150.3 L1225.9 2136.8 L1227.1 2136.8 L1228.3 2139.2 L1229.5 2139.2 L1230.7 2143.2 L1231.9 2143.2 L1233 2144.3 L1234.2 2144.3 L1235.4 2148.1 L1236.6 2148.1 L1237.8 2149 L1239 2149 L1240.1 2140.9 L1241.3 2140.9 L1242.5 2135.6 L1243.7 2135.6 L1244.9 2132.9 L1246 2132.9 L1247.2 2133.2 L1248.4 2133.2 L1249.6 2140.8 L1250.8 2140.8 L1252 2140.5 L1253.1 2140.5 L1254.3 2137.4 L1255.5 2137.4 L1256.7 2144.3 L1257.9 2144.3 L1259.1 2137.1 L1260.2 2137.1 L1261.4 2146.5 L1262.6 2146.5 L1263.8 2142.7 L1265 2142.7 L1266.2 2157.4 L1267.3 2157.4 L1268.5 2148.6 L1269.7 2148.6 L1270.9 2133.7 L1272.1 2133.7 L1273.3 2137.5 L1274.4 2137.5 L1275.6 2142.6 L1276.8 2142.6 L1278 2143.3 L1279.2 2143.1 L1280.3 2155.1 L1281.5 2154.5 L1282.7 2144.4 L1283.9 2143.8 L1285.1 2133.3 L1286.3 2132.7 L1287.4 2116.8 L1288.6 2116.2 L1289.8 2131.3 L1291 2130.7 L1292.2 2141.2 L1293.4 2140.6 L1294.5 2126.7 L1295.7 2126.1 L1296.9 2129 L1298.1 2128.4 L1299.3 2102.8 L1300.5 2102.2 L1301.6 2122.8 L1302.8 2122.4 L1304 2124.4 L1305.2 2124.4 L1306.4 2136.3 L1307.6 2136.3 L1308.7 2129.9 L1309.9 2129.9 L1311.1 2128 L1312.3 2128 L1313.5 2133.6 L1314.6 2133.6 L1315.8 2123.2 L1317 2123.2 L1318.2 2136.2 L1319.4 2136.2 L1320.6 2121.6 L1321.7 2121.5 L1322.9 2133.6 L1324.1 2133.6 L1325.3 2126.3 L1326.5 2126.2 L1327.7 2118.4 L1328.8 2118.4 L1330 2125.2 L1331.2 2125.2 L1332.4 2132.5 L1333.6 2132.4 L1334.8 2125.7 L1335.9 2125.6 L1337.1 2128.8 L1338.3 2128.7 L1339.5 2125.7 L1340.7 2125.7 L1341.9 2128 L1343 2128 L1344.2 2126.9 L1345.4 2126.8 L1346.6 2129.9 L1347.8 2129.8 L1348.9 2111.8 L1350.1 2111.7 L1351.3 2125.1 L1352.5 2125 L1353.7 2127.7 L1354.9 2127.7 L1356 2120.1 L1357.2 2120.1 L1358.4 2121.3 L1359.6 2121.3 L1360.8 2128.2 L1362 2128.1 L1363.1 2132.6 L1364.3 2132.6 L1365.5 2136.4 L1366.7 2136.4 L1367.9 2129.8 L1369.1 2129.8 L1370.2 2122.4 L1371.4 2122.4 L1372.6 2127.7 L1373.8 2127.6 L1375 2129.7 L1376.2 2129.6 L1377.3 2128.2 L1378.5 2128.1 L1379.7 2132.7 L1380.9 2132.6 L1382.1 2126.6 L1383.2 2125.9 L1384.4 2126.6 L1385.6 2125.9 L1386.8 2113.1 L1388 2112.4 L1389.2 2121.3 L1390.3 2120.6 L1391.5 2104.7 L1392.7 2104 L1393.9 2113.6 L1395.1 2112.9 L1396.3 2121.5 L1397.4 2120.8 L1398.6 2113.3 L1399.8 2112.6 L1401 2119.7 L1402.2 2119.7 L1403.4 2109.7 L1404.5 2109.7 L1405.7 2109.5 L1406.9 2109.5 L1408.1 2104.1 L1409.3 2104.1 L1410.5 2111.7 L1411.6 2111.7 L1412.8 2107.3 L1414 2107.3 L1415.2 2122.6 L1416.4 2122.6 L1417.5 2096.1 L1418.7 2096.1 L1419.9 2122.6 L1421.1 2122.6 L1422.3 2111.7 L1423.5 2111.7 L1424.6 2122.7 L1425.8 2122.7 L1427 2115.7 L1428.2 2115.7 L1429.4 2110.8 L1430.6 2110.8 L1431.7 2124.3 L1432.9 2124.3 L1434.1 2114.4 L1435.3 2114.4 L1436.5 2109.9 L1437.7 2109.9 L1438.8 2120.9 L1440 2120.9 L1441.2 2106.5 L1442.4 2106.5 L1443.6 2114.7 L1444.8 2114.7 L1445.9 2122.2 L1447.1 2122.2 L1448.3 2118.4 L1449.5 2118.4 L1450.7 2119.8 L1451.8 2119.8 L1453 2113.8 L1454.2 2113.8 L1455.4 2108.6 L1456.6 2108.6 L1457.8 2113.4 L1458.9 2113.4 L1460.1 2111.1 L1461.3 2111.1 L1462.5 2113.5 L1463.7 2113.5 L1464.9 2109.2 L1466 2109.2 L1467.2 2105 L1468.4 2105 L1469.6 2105 L1470.8 2105 L1472 2125 L1473.1 2125 L1474.3 2112.3 L1475.5 2112.3 L1476.7 2114.7 L1477.9 2114.7 L1479.1 2102.3 L1480.2 2102.3 L1481.4 2105.6 L1482.6 2105.6 L1483.8 2123.1 L1485 2123.1 L1486.1 2117.5 L1487.3 2117.5 L1488.5 2126.9 L1489.7 2126.9 L1490.9 2110.4 L1492.1 2110.4 L1493.2 2111.4 L1494.4 2111.4 L1495.6 2115.7 L1496.8 2115.7 L1498 2124.7 L1499.2 2124.7 L1500.3 2110.2 L1501.5 2110.2 L1502.7 2120.2 L1503.9 2120.2 L1505.1 2108.6 L1506.3 2108.6 L1507.4 2119.9 L1508.6 2119.9 L1509.8 2097.9 L1511 2097.9 L1512.2 2102.7 L1513.4 2102.7 L1514.5 2102.8 L1515.7 2102.8 L1516.9 2127.1 L1518.1 2127.1 L1519.3 2105.7 L1520.4 2105.7 L1521.6 2104.6 L1522.8 2104.6 L1524 2118.9 L1525.2 2118.9 L1526.4 2113.7 L1527.5 2113.7 L1528.7 2116.9 L1529.9 2116.9 L1531.1 2107 L1532.3 2107 L1533.5 2096.6 L1534.6 2096.6 L1535.8 2121.8 L1537 2121.8 L1538.2 2123 L1539.4 2123 L1540.6 2109.4 L1541.7 2109.4 L1542.9 2121.1 L1544.1 2121.1 L1545.3 2107.6 L1546.5 2107.6 L1547.7 2116 L1548.8 2116 L1550 2110 L1551.2 2110 L1552.4 2106.5 L1553.6 2106.5 L1554.7 2111.8 L1555.9 2111.8 L1557.1 2105.9 L1558.3 2105.9 L1559.5 2121 L1560.7 2121 L1561.8 2122 L1563 2122 L1564.2 2111.9 L1565.4 2111.9 L1566.6 2121.6 L1567.8 2121.6 L1568.9 2113.6 L1570.1 2113.6 L1571.3 2109.3 L1572.5 2109.3 L1573.7 2113.5 L1574.9 2113.5 L1576 2127.1 L1577.2 2127.1 L1578.4 2122.7 L1579.6 2122.7 L1580.8 2117.9 L1582 2117.9 L1583.1 2106.8 L1584.3 2106.8 L1585.5 2102.6 L1586.7 2102.6 L1587.9 2105.4 L1589 2105.4 L1590.2 2110.8 L1591.4 2110.8 L1592.6 2108.7 L1593.8 2108.7 L1595 2111.7 L1596.1 2111.7 L1597.3 2124.9 L1598.5 2124.9 L1599.7 2110.8 L1600.9 2110.8 L1602.1 2112.7 L1603.2 2112.7 L1604.4 2114.2 L1605.6 2114.2 L1606.8 2107.9 L1608 2107.9 L1609.2 2115.6 L1610.3 2115.6 L1611.5 2106.7 L1612.7 2106.7 L1613.9 2127.5 L1615.1 2127.5 L1616.3 2108.2 L1617.4 2108.2 L1618.6 2101 L1619.8 2101 L1621 2116.2 L1622.2 2116.2 L1623.3 2107.4 L1624.5 2107.4 L1625.7 2104.7 L1626.9 2104.7 L1628.1 2109.8 L1629.3 2109.8 L1630.4 2118.4 L1631.6 2118.4 L1632.8 2123.8 L1634 2123.8 L1635.2 2114.2 L1636.4 2114.2 L1637.5 2111.3 L1638.7 2111.3 L1639.9 2116.7 L1641.1 2116.7 L1642.3 2114.4 L1643.5 2114.4 L1644.6 2103 L1645.8 2103 L1647 2112 L1648.2 2112 L1649.4 2114.7 L1650.6 2114.7 L1651.7 2112.8 L1652.9 2112.8 L1654.1 2102.4 L1655.3 2102.4 L1656.5 2112.8 L1657.6 2112.8 L1658.8 2111.9 L1660 2111.9 L1661.2 2114.7 L1662.4 2114.7 L1663.6 2119.2 L1664.7 2119.2 L1665.9 2124.8 L1667.1 2124.8 L1668.3 2110.1 L1669.5 2110.1 L1670.7 2119.9 L1671.8 2119.9 L1673 2111.4 L1674.2 2111.4 L1675.4 2111.8 L1676.6 2111.8 L1677.8 2115.9 L1678.9 2115.9 L1680.1 2113.1 L1681.3 2113.1 L1682.5 2108.8 L1683.7 2108.8 L1684.9 2106.2 L1686 2106.2 L1687.2 2112.8 L1688.4 2112.8 L1689.6 2119.5 L1690.8 2119.5 L1691.9 2117.5 L1693.1 2117.5 L1694.3 2117.6 L1695.5 2117.6 L1696.7 2102.8 L1697.9 2102.8 L1699 2122.6 L1700.2 2122.6 L1701.4 2125.2 L1702.6 2125.2 L1703.8 2093.6 L1705 2093.6 L1706.1 2117 L1707.3 2117 L1708.5 2120.2 L1709.7 2120.2 L1710.9 2112.5 L1712.1 2112.5 L1713.2 2106.4 L1714.4 2106.4 L1715.6 2118.9 L1716.8 2118.9 L1718 2126.9 L1719.2 2126.9 L1720.3 2115.9 L1721.5 2115.9 L1722.7 2120.9 L1723.9 2120.9 L1725.1 2125.7 L1726.2 2125.7 L1727.4 2118.3 L1728.6 2118.3 L1729.8 2123.7 L1731 2123.7 L1732.2 2115.9 L1733.3 2115.9 L1734.5 2116.3 L1735.7 2116.3 L1736.9 2120.8 L1738.1 2120.8 L1739.3 2112.1 L1740.4 2112.1 L1741.6 2106.3 L1742.8 2106.3 L1744 2109 L1745.2 2109 L1746.4 2120.2 L1747.5 2120.2 L1748.7 2124.7 L1749.9 2124.7 L1751.1 2120.2 L1752.3 2120.2 L1753.5 2103.6 L1754.6 2103.6 L1755.8 2118.1 L1757 2118.1 L1758.2 2116.4 L1759.4 2116.4 L1760.5 2121.9 L1761.7 2121.9 L1762.9 2109.8 L1764.1 2109.8 L1765.3 2114.3 L1766.5 2114.3 L1767.6 2113 L1768.8 2113 L1770 2106.2 L1771.2 2106.2 L1772.4 2109 L1773.6 2109 L1774.7 2128.8 L1775.9 2128.8 L1777.1 2111.5 L1778.3 2111.5 L1779.5 2119.4 L1780.7 2119.4 L1781.8 2124.1 L1783 2124.1 L1784.2 2109.9 L1785.4 2109.9 L1786.6 2120.6 L1787.8 2120.6 L1788.9 2113.9 L1790.1 2113.9 L1791.3 2114.6 L1792.5 2114.6 L1791.7 2056 L1793.7 2142 L1793.7 2123.5 L1794.8 2123.5 L1796 2109.4 L1797.2 2109.4 L1798.4 2124.2 L1799.6 2124.2 L1800.8 2111.7 L1801.9 2111.7 L1803.1 2109.2 L1804.3 2109.2 L1805.5 2114.3 L1806.7 2114.3 L1807.9 2110.9 L1809 2110.9 L1810.2 2121.8 L1811.4 2121.8 L1812.6 2106.8 L1813.8 2106.8 L1815 2106.4 L1816.1 2106.4 L1817.3 2111 L1818.5 2111 L1819.7 2121.3 L1820.9 2121.3 L1822.1 2117.2 L1823.2 2117.2 L1824.4 2125.8 L1825.6 2125.8 L1826.8 2109.6 L1828 2109.6 L1829.1 2110.9 L1830.3 2110.9 L1831.5 2103.6 L1832.7 2103.6 L1833.9 2124.7 L1835.1 2124.7 L1836.2 2104.6 L1837.4 2104.6 L1838.6 2117 L1839.8 2117 L1841 2113.1 L1842.2 2113.1 L1843.3 2125.5 L1844.5 2125.5 L1845.7 2109.1 L1846.9 2109.1 L1848.1 2111.4 L1849.3 2111.4 L1850.4 2116.2 L1851.6 2116.2 L1852.8 2118 L1854 2118 L1855.2 2114.5 L1856.4 2114.5 L1857.5 2129.3 L1858.7 2129.3 L1859.9 2114.7 L1861.1 2114.7 L1862.3 2113 L1863.4 2113 L1864.6 2109 L1865.8 2109 L1867 2122.7 L1868.2 2122.7 L1869.4 2121 L1870.5 2121 L1871.7 2095.3 L1872.9 2095.3 L1874.1 2101.8 L1875.3 2101.8 L1876.5 2109.5 L1877.6 2109.5 L1878.8 2110.9 L1880 2110.9 L1881.2 2120.6 L1882.4 2120.6 L1883.6 2125.3 L1884.7 2125.3 L1885.9 2109.3 L1887.1 2109.3 L1888.3 2107.5 L1889.5 2107.5 L1890.7 2112.8 L1891.8 2112.8 L1893 2112.8 L1894.2 2112.8 L1895.4 2100.5 L1896.6 2100.5 L1897.7 2128.2 L1898.9 2128.2 L1900.1 2113.9 L1901.3 2113.9 L1902.5 2125.6 L1903.7 2125.6 L1904.8 2114.1 L1906 2114.1 L1907.2 2125.4 L1908.4 2125.4 L1909.6 2114.4 L1910.8 2114.4 L1911.9 2116.9 L1913.1 2116.9 L1914.3 2113 L1915.5 2113 L1916.7 2110.9 L1917.9 2110.9 L1919 2114.9 L1920.2 2114.9 L1921.4 2114.2 L1922.6 2114.2 L1923.8 2119.8 L1925 2119.8 L1926.1 2118.1 L1927.3 2118.1 L1928.5 2115.9 L1929.7 2115.9 L1930.9 2114.4 L1932 2114.4 L1933.2 2111.7 L1934.4 2111.7 L1935.6 2110.6 L1936.8 2110.6 L1938 2123.6 L1939.1 2123.6 L1940.3 2106.3 L1941.5 2106.3 L1942.7 2110.8 L1943.9 2110.8 L1945.1 2114.1 L1946.2 2114.1 L1947.4 2113.8 L1948.6 2113.8" fill="none" stroke="#fcad17" stroke-width="10" stroke-linejoin="round" stroke-linecap="butt"/>
<path d="M234 2115.5 L235.2 2115.5 L236.4 2111.3 L237.5 2111.3 L238.7 2111.8 L239.9 2111.8 L241.1 2112.3 L242.3 2112.4 L243.5 2112 L244.6 2112 L245.8 2113.4 L247 2113.4 L248.2 2109 L249.4 2109 L250.6 2113 L251.7 2113 L252.9 2111.9 L254.1 2111.9 L255.3 2110.7 L256.5 2110.7 L257.7 2114.8 L258.8 2114.8 L260 2115.3 L261.2 2115.3 L262.4 2114.7 L263.6 2114.7 L264.8 2112 L265.9 2112 L267.1 2116 L268.3 2116 L269.5 2111.7 L270.7 2111.7 L271.8 2111.8 L273 2111.8 L274.2 2113.1 L275.4 2113.1 L276.6 2114 L277.8 2114 L278.9 2110.4 L280.1 2110.4 L281.3 2109.8 L282.5 2109.8 L283.7 2108.8 L284.9 2108.8 L286 2109.5 L287.2 2109.5 L288.4 2112.9 L289.6 2112.9 L290.8 2111.2 L292 2111.2 L293.1 2114.6 L294.3 2114.6 L295.5 2112.7 L296.7 2112.7 L297.9 2115.5 L299.1 2115.5 L300.2 2111.3 L301.4 2111.3 L302.6 2114.4 L303.8 2114.4 L305 2108.9 L306.1 2108.9 L307.3 2112.4 L308.5 2112.4 L309.7 2111.7 L310.9 2111.7 L312.1 2110.2 L313.2 2110.2 L314.4 2110 L315.6 2110 L316.8 2111.6 L318 2111.6 L319.2 2111.5 L320.3 2111.5 L321.5 2113 L322.7 2113 L323.9 2109.8 L325.1 2109.8 L326.3 2114.2 L327.4 2114.2 L328.6 2109.8 L329.8 2109.8 L327.6 2068.6 L329.6 2068.6 L331.6 2153 L333.6 2153 L331 2111.5 L332.2 2111.5 L333.4 2112.1 L334.5 2112.1 L335.7 2110.1 L336.9 2110.1 L338.1 2112.3 L339.3 2112.3 L340.4 2111.1 L341.6 2111.1 L342.8 2109.6 L344 2109.6 L345.2 2111 L346.4 2111 L347.5 2114 L348.7 2114 L349.9 2110 L351.1 2110 L352.3 2110.4 L353.5 2110.4 L354.6 2108.8 L355.8 2108.8 L357 2110.5 L358.2 2110.5 L359.4 2113.3 L360.6 2113.3 L361.7 2110.9 L362.9 2110.9 L364.1 2110.6 L365.3 2110.6 L366.5 2113.3 L367.7 2113.3 L368.8 2109.5 L370 2109.5 L368 2071.7 L370 2071.7 L372 2141.8 L374 2141.8 L371.2 2112.3 L372.4 2112.4 L373.6 2110.2 L374.7 2110.2 L375.9 2114.5 L377.1 2114.5 L378.3 2110 L379.5 2110 L380.7 2112.5 L381.8 2112.5 L383 2113.4 L384.2 2113.4 L385.4 2110.5 L386.6 2110.5 L387.8 2110.1 L388.9 2110.1 L390.1 2114.1 L391.3 2114.1 L392.5 2109.5 L393.7 2109.5 L394.9 2108.3 L396 2108.3 L397.2 2111.6 L398.4 2111.6 L399.6 2116.8 L400.8 2116.8 L402 2110.4 L403.1 2110.4 L404.3 2113.7 L405.5 2113.7 L406.7 2110.9 L407.9 2110.9 L409 2113.1 L410.2 2113.2 L411.4 2108.3 L412.6 2108.3 L413.8 2111.4 L415 2111.4 L416.1 2115.3 L417.3 2115.3 L418.5 2115 L419.7 2115 L420.9 2108.7 L422.1 2108.7 L423.2 2110.3 L424.4 2110.3 L425.6 2111.2 L426.8 2111.2 L428 2114.2 L429.2 2114.2 L430.3 2110.2 L431.5 2110.2 L432.7 2112.7 L433.9 2112.7 L435.1 2108.8 L436.3 2108.8 L437.4 2113.5 L438.6 2113.5 L439.8 2111.3 L441 2111.3 L442.2 2110.7 L443.3 2110.7 L444.5 2111.7 L445.7 2111.7 L446.9 2109.2 L448.1 2109.2 L449.3 2109.9 L450.4 2109.9 L451.6 2109.7 L452.8 2109.7 L454 2111.3 L455.2 2111.3 L456.4 2113 L457.5 2113 L458.7 2111.4 L459.9 2111.4 L461.1 2112.9 L462.3 2112.9 L463.5 2115.1 L464.6 2115.1 L465.8 2111.9 L467 2111.9 L468.2 2116.6 L469.4 2116.7 L470.6 2115.4 L471.7 2115.4 L472.9 2110.7 L474.1 2110.7 L475.3 2112.8 L476.5 2112.8 L477.6 2112.8 L478.8 2112.8 L480 2110.6 L481.2 2110.6 L482.4 2111.5 L483.6 2111.5 L484.7 2113.3 L485.9 2113.3 L487.1 2108.1 L488.3 2108.1 L489.5 2109.5 L490.7 2109.5 L491.8 2109.1 L493 2109.1 L494.2 2111 L495.4 2111 L496.6 2112.4 L497.8 2112.4 L498.9 2113.5 L500.1 2113.5 L501.3 2112.8 L502.5 2112.8 L503.7 2112.2 L504.9 2112.2 L506 2112.8 L507.2 2112.8 L508.4 2113.8 L509.6 2113.8 L510.8 2111.2 L511.9 2111.2 L513.1 2113.5 L514.3 2113.6 L515.5 2110 L516.7 2110 L517.9 2111.3 L519 2111.3 L520.2 2113 L521.4 2113 L522.6 2114.2 L523.8 2114.2 L525 2114.5 L526.1 2114.5 L527.3 2109.3 L528.5 2109.3 L529.7 2116.3 L530.9 2116.3 L532.1 2113.6 L533.2 2113.6 L534.4 2112.2 L535.6 2112.2 L536.8 2111.4 L538 2111.4 L539.2 2112.3 L540.3 2112.3 L541.5 2114.1 L542.7 2114.1 L543.9 2109 L545.1 2109 L546.2 2111.8 L547.4 2111.8 L548.6 2112.9 L549.8 2112.9 L551 2110.6 L552.2 2110.6 L553.3 2111.4 L554.5 2111.4 L555.7 2108.4 L556.9 2108.4 L558.1 2111.8 L559.3 2111.9 L560.4 2111.7 L561.6 2111.7 L562.8 2110.9 L564 2110.9 L565.2 2110.4 L566.4 2110.4 L567.5 2111.7 L568.7 2111.7 L569.9 2108.4 L571.1 2108.4 L572.3 2113.1 L573.5 2113.1 L574.6 2111.2 L575.8 2111.2 L577 2108.9 L578.2 2108.9 L579.4 2115.7 L580.5 2115.7 L581.7 2109.1 L582.9 2109.1 L584.1 2111.1 L585.3 2111.1 L586.5 2110.3 L587.6 2110.3 L588.8 2110.6 L590 2110.6 L591.2 2113.8 L592.4 2113.8 L593.6 2110.3 L594.7 2110.3 L595.9 2115.5 L597.1 2115.5 L598.3 2112 L599.5 2112 L600.7 2112.7 L601.8 2112.7 L603 2112.4 L604.2 2112.4 L605.4 2111 L606.6 2111 L607.8 2112.3 L608.9 2112.3 L610.1 2113.1 L611.3 2113.1 L612.5 2113.3 L613.7 2113.3 L614.8 2112.3 L616 2112.3 L617.2 2113.8 L618.4 2113.8 L619.6 2111.9 L620.8 2111.9 L621.9 2113.5 L623.1 2113.5 L624.3 2112.2 L625.5 2112.2 L626.7 2111.2 L627.9 2111.2 L629 2112.9 L630.2 2112.9 L631.4 2112.6 L632.6 2112.6 L633.8 2114.9 L635 2114.9 L636.1 2111.1 L637.3 2111.1 L638.5 2113.6 L639.7 2113.6 L640.9 2115.8 L642.1 2115.8 L643.2 2113 L644.4 2113 L645.6 2114.4 L646.8 2114.4 L648 2113.7 L649.1 2113.7 L650.3 2114.3 L651.5 2114.3 L652.7 2113.2 L653.9 2113.2 L655.1 2112.6 L656.2 2112.6 L657.4 2111.5 L658.6 2111.5 L659.8 2110.7 L661 2110.7 L662.2 2113.1 L663.3 2113.2 L664.5 2113.1 L665.7 2113.1 L666.9 2115.1 L668.1 2115.1 L669.3 2112.1 L670.4 2112.1 L671.6 2109.2 L672.8 2109.2 L674 2111.3 L675.2 2111.3 L676.4 2113.4 L677.5 2113.4 L678.7 2114.4 L679.9 2114.4 L681.1 2110.3 L682.3 2110.3 L683.4 2112.5 L684.6 2112.5 L685.8 2113.9 L687 2113.9 L688.2 2112.3 L689.4 2112.5 L690.5 2117.7 L691.7 2117.9 L692.9 2110.4 L694.1 2110.6 L695.3 2113 L696.5 2113.1 L697.6 2112.4 L698.8 2112.6 L700 2114 L701.2 2114.2 L702.4 2114.6 L703.6 2114.8 L704.7 2111.4 L705.9 2111.6 L706.7 2116.8 L707.3 2116.8 L707.9 2116 L708.5 2116 L709.1 2115.5 L709.7 2115.6 L710.3 2114.5 L710.8 2114.6 L711.4 2115.4 L712 2115.6 L712.6 2115.2 L713.2 2115.5 L713.8 2113.7 L714.4 2114 L715 2116.6 L715.6 2116.8 L716.2 2115.9 L716.8 2116.2 L717.4 2118.2 L717.9 2118.6 L718.5 2122.8 L719.1 2123.2 L719.7 2120.8 L720.3 2121.3 L720.9 2116.2 L721.5 2116.6 L722.1 2121.8 L722.7 2122.3 L723.3 2120.9 L723.9 2121.4 L724.5 2126.4 L725 2126.9 L725.6 2123.6 L726.2 2124.1 L726.8 2122.4 L727.4 2123 L728 2126.6 L728.6 2127.2 L729.2 2128.7 L729.8 2129.2 L730.4 2130.6 L731 2131.2 L731.5 2131.4 L732.1 2132 L732.7 2134.5 L733.3 2135.2 L733.9 2132.1 L734.5 2132.9 L735.1 2136.7 L735.7 2137.7 L736.3 2138.9 L736.9 2140 L737.5 2142.2 L738.1 2143.4 L738.6 2143.2 L739.2 2144.5 L739.8 2144.7 L740.4 2146.1 L741 2145 L741.6 2146.5 L742.2 2150.4 L742.8 2151.8 L743.4 2151.4 L744 2152.8 L744.6 2155.7 L745.1 2157.2 L745.7 2158.6 L746.3 2160.1 L746.9 2161.1 L747.5 2162.7 L748.1 2165.1 L748.7 2166.8 L749.3 2167.7 L749.9 2169.4 L750.5 2172.2 L751.1 2174.1 L751.7 2175 L752.2 2177 L752.8 2180.7 L753.4 2182.8 L754 2183.9 L754.6 2186.1 L755.2 2187.7 L755.8 2190.1 L756.4 2194.8 L757 2197.3 L757.6 2198.7 L758.2 2201.5 L758.8 2204.3 L759.3 2207.3 L759.9 2210.1 L760.5 2213.3 L761.1 2218 L761.7 2221.5 L762.3 2224.3 L762.9 2228.1 L763.5 2230 L764.1 2234.1 L764.7 2240.7 L765.3 2245 L765.8 2249.3 L766.4 2254 L767 2258.5 L767.6 2264 L768.2 2270.7 L768.8 2276.8 L769.4 2283.7 L770 2290.4 L770.6 2295.1 L771.2 2302.3 L771.8 2311.9 L772.4 2319.5 L772.9 2325.3 L773.5 2333.2 L774.1 2341.9 L774.7 2349.9 L775.3 2358 L775.9 2366.2 L776.5 2373.5 L777.1 2382.3 L777.7 2393.6 L778.3 2403.1 L778.9 2413.1 L779.4 2423 L780 2431.2 L780.6 2441.3 L781.2 2451.4 L781.8 2461.5 L782.4 2472.1 L783 2482 L783.6 2492.5 L784.2 2502 L784.8 2511.6 L785.4 2520.8 L786 2529.3 L786.5 2538.4 L787.1 2547 L787.7 2556.3 L788.3 2564.9 L788.9 2574.6 L789.5 2585.2 L790.1 2595.3 L790.7 2605.3 L791.3 2616.2 L791.9 2627.5 L792.5 2639.4 L793.1 2654 L793.6 2668.3 L794.2 2681.8 L794.8 2698.2 L795.4 2716.5 L796 2733.5 L796.6 2749.9 L797.2 2766 L797.8 2781.4 L798.4 2795.1 L799 2807.7 L799.6 2819.9 L800.1 2832.2 L800.7 2843.8 L801.3 2854.1 L801.9 2864.5 L802.5 2873.6 L803.1 2882.2 L803.7 2889.9 L804.3 2896.2 L804.9 2902.7 L805.5 2908.3 L806.1 2913.9 L806.7 2918.3 L807.2 2920.6 L807.8 2923.1 L808.4 2924.7 L809 2926 L809.6 2926.5 L810.2 2927.6 L810.8 2929.1 L811.4 2929.8 L812 2929.9 L812.6 2930.2 L813.2 2931.6 L813.7 2931.4 L814.3 2930.5 L814.9 2929.8 L815.5 2928.4 L816.1 2927.3 L816.7 2928.1 L817.3 2926.7 L817.9 2923.3 L818.5 2919.9 L819.1 2914.8 L819.7 2908.5 L820.3 2901.4 L820.8 2894.3 L821.4 2886 L822 2877.7 L822.6 2870.6 L823.2 2860.7 L823.8 2849.2 L824.4 2838.2 L825 2827.1 L825.6 2815.4 L826.2 2803.7 L826.8 2791.3 L827.4 2777.8 L827.9 2763.6 L828.5 2749 L829.1 2733.7 L829.7 2716.3 L830.3 2700.8 L830.9 2685.6 L831.5 2669.4 L832.1 2655.4 L832.7 2638.5 L833.3 2620.4 L833.9 2603.1 L834.4 2586 L835 2568.8 L835.6 2552.2 L836.2 2535.5 L836.8 2517.2 L837.4 2501.5 L838 2488.4 L838.6 2473.7 L839.2 2458.2 L839.8 2443.5 L840.4 2427.9 L841 2413.3 L841.5 2399.7 L842.1 2385.5 L842.7 2372.6 L843.3 2359 L843.9 2344.1 L844.5 2331.4 L845.1 2319.9 L845.7 2308.2 L846.3 2296.5 L846.9 2286.1 L847.5 2276 L848 2267.1 L848.6 2259 L849.2 2250.4 L849.8 2241.9 L850.4 2233.7 L851 2226.8 L851.6 2219.1 L852.2 2210.6 L852.8 2203.6 L853.4 2198.1 L854 2191.8 L854.6 2183.5 L855.1 2178.2 L855.7 2176 L856.3 2171.9 L856.9 2167.3 L857.5 2164.4 L858.1 2161.8 L858.7 2159.2 L859.3 2156.9 L859.9 2154.5 L860.5 2152.4 L861.1 2150.3 L861.7 2145.6 L862.2 2143.8 L862.8 2142.7 L863.4 2141.1 L864 2141.8 L864.6 2140.6 L865.2 2136.1 L865.8 2135.2 L866.4 2134.5 L867 2133.9 L867.6 2136.2 L868.2 2135.7 L868.7 2133.5 L869.3 2133 L869.9 2136.5 L870.5 2136 L871.1 2135.7 L871.7 2135.3 L872.3 2133.3 L872.9 2132.9 L873.5 2126.7 L874.1 2126.3 L874.7 2129 L875.3 2128.6 L875.8 2129.4 L876.4 2129 L877 2129.6 L877.6 2129.2 L878.2 2132.2 L878.8 2131.9 L879.4 2127.9 L880 2127.6 L880.6 2124 L881.2 2123.8 L881.8 2127 L882.3 2126.7 L882.9 2131.1 L883.5 2130.8 L884.1 2128.1 L884.7 2127.9 L885.3 2123.7 L885.9 2123.5 L886.5 2124.8 L887.1 2124.6 L887.7 2124.4 L888.3 2124.3 L888.9 2122.1 L889.4 2122 L890 2119.6 L890.6 2119.4 L891.2 2122.2 L891.8 2122.1 L892.4 2123.5 L893 2123.3 L893.6 2121.5 L894.2 2121.4 L894.8 2123.6 L895.4 2123.4 L896 2123.9 L896.5 2123.7 L897.1 2123.8 L897.7 2123.7 L898.3 2124.6 L898.9 2124.5 L899.5 2123.6 L900.1 2123.6 L900.7 2117.7 L901.3 2117.7 L901.9 2124 L902.5 2123.9 L903 2119.4 L903.6 2119.3 L904.2 2120.9 L904.8 2120.8 L905.4 2120.4 L906 2120.3 L906.6 2119.6 L907.2 2119.6 L907.8 2125.1 L908.4 2125 L909 2120.7 L909.6 2120.6 L910.1 2116.4 L910.7 2116.3 L911.3 2118.5 L911.9 2118.4 L912.5 2119.4 L913.1 2119.3 L913.7 2123.9 L914.3 2123.9 L914.9 2120.8 L915.5 2120.7 L916.1 2117.5 L916.6 2117.5 L917.2 2121.4 L917.8 2121.3 L918.4 2118.6 L919 2118.6 L919.6 2120.1 L920.2 2120 L920.8 2118.9 L921.4 2118.8 L922 2119.1 L922.6 2119.1 L923.2 2123.2 L923.7 2123.1 L924.3 2120.2 L924.9 2120.1 L925.5 2120 L926.1 2119.9 L926.7 2120.1 L927.3 2120 L927.9 2120 L928.5 2120 L929.1 2114.5 L929.7 2114.4 L930.3 2119.4 L930.8 2119.3 L931.4 2117 L932 2116.9 L932.6 2119.2 L933.2 2119.2 L933.8 2112.5 L934.4 2112.5 L935 2123.3 L935.6 2123.2 L936.2 2112.1 L936.8 2112.1 L937.3 2109.9 L937.9 2109.8 L938.5 2115.8 L939.1 2115.8 L939.7 2118.8 L940.3 2118.8 L940.9 2120.7 L941.5 2120.6 L942.1 2115.3 L942.7 2115.2 L943.3 2117.1 L943.9 2117 L944.4 2119.5 L945 2119.5 L945.6 2118.1 L946.2 2118.1 L946.8 2117.7 L947.4 2117.7 L948 2120.2 L948.6 2120.2 L949.2 2119.8 L949.8 2119.8 L950.4 2114.3 L950.9 2114.3 L951.5 2116.9 L952.1 2116.8 L952.7 2117.3 L953.3 2117.3 L953.9 2117.3 L954.5 2117.2 L955.1 2118.2 L955.7 2118.2 L956.3 2112.9 L956.9 2112.9 L957.5 2117.5 L958 2117.5 L958.6 2115.1 L959.2 2115.1 L959.8 2118.2 L960.4 2118.2 L961 2116 L961.6 2115.9 L962.2 2121.6 L962.8 2121.6 L963.4 2120 L964.6 2120 L965.7 2118.2 L966.9 2118.3 L968.1 2119.3 L969.3 2119.4 L970.5 2121.7 L971.6 2121.8 L972.8 2118.9 L974 2118.9 L975.2 2116.5 L976.4 2116.5 L977.6 2125.5 L978.7 2125.5 L979.9 2119.8 L981.1 2119.8 L982.3 2120 L983.5 2120 L984.7 2119.9 L985.8 2119.9 L987 2122.9 L988.2 2122.9 L989.4 2117.3 L990.6 2117.4 L991.8 2122.9 L992.9 2122.9 L994.1 2120.7 L995.3 2120.7 L996.5 2119.1 L997.7 2119.1 L998.9 2118.7 L1000 2118.7 L1001.2 2117.1 L1002.4 2117.1 L1003.6 2122.3 L1004.8 2122.3 L1005.9 2119 L1007.1 2119.1 L1008.3 2120 L1009.5 2120 L1010.7 2119.8 L1011.9 2119.8 L1013 2125.7 L1014.2 2125.7 L1015.4 2126.7 L1016.6 2126.8 L1017.8 2121.7 L1019 2121.7 L1020.1 2120.6 L1021.3 2120.6 L1022.5 2123.7 L1023.7 2123.7 L1024.9 2125.9 L1026.1 2125.9 L1027.2 2119 L1028.4 2119 L1029.6 2121.9 L1030.8 2121.9 L1032 2117.3 L1033.2 2117.3 L1034.3 2120.8 L1035.5 2120.8 L1036.7 2125.5 L1037.9 2125.5 L1039.1 2121.3 L1040.2 2121.3 L1041.4 2116 L1042.6 2116 L1043.8 2120.7 L1045 2120.7 L1046.2 2119.1 L1047.3 2119.1 L1048.5 2122.5 L1049.7 2122.5 L1050.9 2124.9 L1052.1 2124.9 L1053.3 2119.1 L1054.4 2119.1 L1055.6 2119.8 L1056.8 2119.8 L1058 2122.7 L1059.2 2122.7 L1060.4 2118.3 L1061.5 2118.3 L1062.7 2123.2 L1063.9 2123.2 L1065.1 2119.2 L1066.3 2119.2 L1067.5 2121 L1068.6 2121 L1069.8 2120.3 L1071 2120.3 L1072.2 2120.9 L1073.4 2120.9 L1074.5 2120.4 L1075.7 2120.4 L1076.9 2120.7 L1078.1 2120.7 L1079.3 2118.9 L1080.5 2118.9 L1081.6 2118.7 L1082.8 2118.7 L1084 2121.8 L1085.2 2121.8 L1086.4 2120.1 L1087.6 2120.1 L1088.7 2120.9 L1089.9 2120.9 L1091.1 2119.9 L1092.3 2119.9 L1093.5 2126.6 L1094.7 2126.6 L1095.8 2120.4 L1097 2120.4 L1098.2 2122.7 L1099.4 2122.7 L1100.6 2118.4 L1101.8 2118.4 L1102.9 2121 L1104.1 2121 L1105.3 2119.4 L1106.5 2119.4 L1107.7 2124 L1108.8 2124 L1110 2122.3 L1111.2 2122.3 L1112.4 2116.3 L1113.6 2116.3 L1114.8 2123.9 L1115.9 2123.9 L1117.1 2121.9 L1118.3 2121.9 L1119.5 2126 L1120.7 2126 L1121.9 2119.4 L1123 2119.4 L1124.2 2122.3 L1125.4 2122.3 L1126.6 2119.7 L1127.8 2119.7 L1129 2122.1 L1130.1 2122.1 L1131.3 2119.6 L1132.5 2119.6 L1133.7 2124.5 L1134.9 2124.5 L1136.1 2116.9 L1137.2 2116.9 L1138.4 2120.9 L1139.6 2120.9 L1140.8 2118.2 L1142 2118.2 L1143.1 2122.3 L1144.3 2122.3 L1145.5 2121.9 L1146.7 2121.9 L1147.9 2119.6 L1149.1 2119.6 L1150.2 2117.4 L1151.4 2117.4 L1152.6 2123.9 L1153.8 2123.9 L1155 2122.8 L1156.2 2122.8 L1157.3 2122.8 L1158.5 2122.8 L1159.7 2122.5 L1160.9 2122.5 L1162.1 2120 L1163.3 2120 L1164.4 2118.3 L1165.6 2118.3 L1166.8 2119.8 L1168 2119.8 L1169.2 2118.1 L1170.4 2118.1 L1171.5 2123.7 L1172.7 2123.7 L1173.9 2128 L1175.1 2128 L1176.3 2120.8 L1177.4 2120.8 L1178.6 2118.2 L1179.8 2118.2 L1181 2121 L1182.2 2121 L1183.4 2118.6 L1184.5 2118.6 L1185.7 2122.3 L1186.9 2122.3 L1188.1 2119.8 L1189.3 2119.8 L1190.5 2121.8 L1191.6 2121.8 L1192.8 2119.7 L1194 2119.7 L1195.2 2121.7 L1196.4 2121.7 L1197.6 2116.9 L1198.7 2116.9 L1199.9 2122.5 L1201.1 2123 L1202.3 2120.9 L1203.5 2121.4 L1204.7 2121.8 L1205.8 2122.3 L1207 2126.1 L1208.2 2126.6 L1209.4 2129.1 L1210.6 2129.6 L1211.7 2130 L1212.9 2130.5 L1214.1 2126.1 L1215.3 2126.6 L1216.5 2128.2 L1217.7 2128.7 L1218.8 2129.1 L1220 2129.5 L1221.2 2130.2 L1222.4 2130.2 L1223.6 2130.2 L1224.8 2130.2 L1225.9 2129.4 L1227.1 2129.4 L1228.3 2127 L1229.5 2127 L1230.7 2128.4 L1231.9 2128.4 L1233 2125.9 L1234.2 2125.9 L1235.4 2131.6 L1236.6 2131.6 L1237.8 2132.4 L1239 2132.4 L1240.1 2128.7 L1241.3 2128.7 L1242.5 2133 L1243.7 2133 L1244.9 2131.1 L1246 2131.1 L1247.2 2127.6 L1248.4 2127.6 L1249.6 2128.7 L1250.8 2128.7 L1252 2129.8 L1253.1 2129.8 L1254.3 2126.9 L1255.5 2126.9 L1256.7 2131 L1257.9 2131.1 L1259.1 2132.2 L1260.2 2132.2 L1261.4 2127.2 L1262.6 2127.2 L1263.8 2126.6 L1265 2126.6 L1266.2 2129.8 L1267.3 2129.8 L1268.5 2128.9 L1269.7 2128.9 L1270.9 2128.6 L1272.1 2128.6 L1273.3 2130.4 L1274.4 2130.4 L1275.6 2134.9 L1276.8 2134.9 L1278 2128.7 L1279.2 2128.7 L1280.3 2130.9 L1281.5 2131 L1282.7 2129.5 L1283.9 2129.2 L1285.1 2129.7 L1286.3 2129.4 L1287.4 2126.3 L1288.6 2126 L1289.8 2127.4 L1291 2127.1 L1292.2 2127.8 L1293.4 2127.5 L1294.5 2132.1 L1295.7 2131.8 L1296.9 2127.7 L1298.1 2127.4 L1299.3 2122.5 L1300.5 2122.2 L1301.6 2121.1 L1302.8 2120.8 L1304 2123 L1305.2 2122.7 L1306.4 2124 L1307.6 2123.7 L1308.7 2124.2 L1309.9 2123.9 L1311.1 2127.7 L1312.3 2127.4 L1313.5 2124.5 L1314.6 2124.2 L1315.8 2121 L1317 2120.7 L1318.2 2122.2 L1319.4 2122 L1320.6 2119.4 L1321.7 2119.1 L1322.9 2119.1 L1324.1 2118.8 L1325.3 2116.3 L1326.5 2116 L1327.7 2116.2 L1328.8 2115.9 L1330 2117.1 L1331.2 2116.8 L1332.4 2116.2 L1333.6 2115.9 L1334.8 2114.2 L1335.9 2113.9 L1337.1 2115 L1338.3 2114.7 L1339.5 2117.8 L1340.7 2117.5 L1341.9 2115.3 L1343 2115 L1344.2 2113.7 L1345.4 2113.4 L1346.6 2110.2 L1347.8 2109.9 L1348.9 2113.6 L1350.1 2113.3 L1351.3 2117.8 L1352.5 2117.5 L1353.7 2115 L1354.9 2114.7 L1356 2107.9 L1357.2 2107.6 L1358.4 2115.2 L1359.6 2115 L1360.8 2110.4 L1362 2110.1 L1363.1 2110.9 L1364.3 2110.7 L1365.5 2110 L1366.7 2109.7 L1367.9 2104.7 L1369.1 2104.5 L1370.2 2110.1 L1371.4 2109.8 L1372.6 2110.9 L1373.8 2110.6 L1375 2107.6 L1376.2 2107.3 L1377.3 2107.3 L1378.5 2107 L1379.7 2105.1 L1380.9 2104.8 L1382.1 2106.9 L1383.2 2107.2 L1384.4 2108 L1385.6 2108.2 L1386.8 2107 L1388 2107.2 L1389.2 2107.9 L1390.3 2108.1 L1391.5 2110 L1392.7 2110.3 L1393.9 2111.3 L1395.1 2111.6 L1396.3 2109 L1397.4 2109.2 L1398.6 2106.8 L1399.8 2106.9 L1401 2109.2 L1402.2 2109.3 L1403.4 2111.9 L1404.5 2112 L1405.7 2112.1 L1406.9 2112.2 L1408.1 2112 L1409.3 2112.1 L1410.5 2111.7 L1411.6 2111.8 L1412.8 2104.3 L1414 2104.3 L1415.2 2108.8 L1416.4 2108.8 L1417.5 2111.4 L1418.7 2111.4 L1419.9 2114.5 L1421.1 2114.5 L1422.3 2109.8 L1423.5 2109.8 L1424.6 2105.5 L1425.8 2105.5 L1427 2106.9 L1428.2 2106.9 L1429.4 2111.3 L1430.6 2111.3 L1431.7 2108.5 L1432.9 2108.5 L1434.1 2116.4 L1435.3 2116.5 L1436.5 2110.9 L1437.7 2110.9 L1438.8 2110.6 L1440 2110.6 L1441.2 2111.1 L1442.4 2111.1 L1443.6 2112.9 L1444.8 2112.9 L1445.9 2112 L1447.1 2112 L1448.3 2115.3 L1449.5 2115.3 L1450.7 2106.6 L1451.8 2106.6 L1453 2114.6 L1454.2 2114.6 L1455.4 2113.2 L1456.6 2113.2 L1457.8 2103.6 L1458.9 2103.6 L1460.1 2112.2 L1461.3 2112.2 L1462.5 2106.7 L1463.7 2106.7 L1464.9 2106.8 L1466 2106.8 L1467.2 2112.6 L1468.4 2112.6 L1469.6 2110.9 L1470.8 2110.9 L1472 2114.8 L1473.1 2114.8 L1474.3 2108.8 L1475.5 2108.8 L1476.7 2104.9 L1477.9 2104.9 L1479.1 2108.3 L1480.2 2108.3 L1481.4 2115.1 L1482.6 2115.1 L1483.8 2103.6 L1485 2103.6 L1486.1 2111 L1487.3 2111 L1488.5 2107.3 L1489.7 2107.3 L1490.9 2110.2 L1492.1 2110.2 L1493.2 2110.7 L1494.4 2110.7 L1495.6 2106.5 L1496.8 2106.5 L1498 2104.9 L1499.2 2104.9 L1500.3 2108.9 L1501.5 2108.9 L1502.7 2106.6 L1503.9 2106.6 L1505.1 2113.3 L1506.3 2113.3 L1507.4 2111.1 L1508.6 2111.1 L1509.8 2111.4 L1511 2111.4 L1512.2 2112.9 L1513.4 2112.9 L1514.5 2108 L1515.7 2108 L1516.9 2111.7 L1518.1 2111.7 L1519.3 2112.4 L1520.4 2112.4 L1521.6 2110.4 L1522.8 2110.4 L1524 2112.5 L1525.2 2112.5 L1526.4 2116.4 L1527.5 2116.4 L1528.7 2111.5 L1529.9 2111.5 L1531.1 2115.7 L1532.3 2115.7 L1533.5 2106.4 L1534.6 2106.5 L1535.8 2108.6 L1537 2108.6 L1538.2 2109 L1539.4 2109 L1540.6 2110.7 L1541.7 2110.7 L1542.9 2112.8 L1544.1 2112.8 L1545.3 2107.1 L1546.5 2107.1 L1547.7 2111.1 L1548.8 2111.1 L1550 2108.1 L1551.2 2108.1 L1552.4 2110.5 L1553.6 2110.5 L1554.7 2109.1 L1555.9 2109.1 L1557.1 2109.7 L1558.3 2109.7 L1559.5 2113.7 L1560.7 2113.8 L1561.8 2113.7 L1563 2113.8 L1564.2 2110.4 L1565.4 2110.4 L1566.6 2114.4 L1567.8 2114.4 L1568.9 2112 L1570.1 2112 L1571.3 2111.5 L1572.5 2111.5 L1573.7 2110 L1574.9 2110 L1576 2111.2 L1577.2 2111.2 L1578.4 2107.7 L1579.6 2107.7 L1580.8 2110.8 L1582 2110.8 L1583.1 2115.2 L1584.3 2115.2 L1585.5 2112.4 L1586.7 2112.4 L1587.9 2115.4 L1589 2115.4 L1590.2 2109.7 L1591.4 2109.7 L1592.6 2105.9 L1593.8 2105.9 L1595 2111.8 L1596.1 2111.8 L1597.3 2108.8 L1598.5 2108.8 L1599.7 2106.6 L1600.9 2106.6 L1602.1 2111.4 L1603.2 2111.4 L1604.4 2098.8 L1605.6 2098.8 L1606.8 2107.8 L1608 2107.8 L1609.2 2107.7 L1610.3 2107.7 L1611.5 2108.5 L1612.7 2108.5 L1613.9 2108.5 L1615.1 2108.5 L1616.3 2109.4 L1617.4 2109.4 L1618.6 2115.6 L1619.8 2115.6 L1621 2114.3 L1622.2 2114.3 L1623.3 2112.4 L1624.5 2112.4 L1625.7 2112.8 L1626.9 2112.8 L1628.1 2107.5 L1629.3 2107.5 L1630.4 2108.3 L1631.6 2108.3 L1632.8 2110.2 L1634 2110.2 L1635.2 2108.8 L1636.4 2108.8 L1637.5 2111.2 L1638.7 2111.2 L1639.9 2111.7 L1641.1 2111.7 L1642.3 2112.2 L1643.5 2112.2 L1644.6 2111.2 L1645.8 2111.2 L1647 2113.5 L1648.2 2113.5 L1649.4 2111.6 L1650.6 2111.6 L1651.7 2107.2 L1652.9 2107.2 L1654.1 2117.1 L1655.3 2117.1 L1656.5 2112.1 L1657.6 2112.1 L1658.8 2102.7 L1660 2102.8 L1661.2 2108.9 L1662.4 2108.9 L1663.6 2110.3 L1664.7 2110.3 L1665.9 2112.6 L1667.1 2112.6 L1668.3 2112.2 L1669.5 2112.2 L1670.7 2105.9 L1671.8 2105.9 L1673 2107.1 L1674.2 2107.1 L1675.4 2107.4 L1676.6 2107.4 L1677.8 2107.7 L1678.9 2107.7 L1680.1 2111.6 L1681.3 2111.6 L1682.5 2110.2 L1683.7 2110.2 L1684.9 2115 L1686 2115 L1687.2 2112 L1688.4 2112 L1689.6 2117.8 L1690.8 2117.8 L1691.9 2112.6 L1693.1 2112.6 L1694.3 2115.8 L1695.5 2115.8 L1696.7 2116.5 L1697.9 2116.5 L1699 2109.6 L1700.2 2109.6 L1701.4 2106.5 L1702.6 2106.5 L1703.8 2107.5 L1705 2107.5 L1706.1 2114.9 L1707.3 2114.9 L1708.5 2116.2 L1709.7 2116.2 L1710.9 2111.3 L1712.1 2111.3 L1713.2 2110.1 L1714.4 2110.1 L1715.6 2112.5 L1716.8 2112.5 L1718 2109.8 L1719.2 2109.8 L1720.3 2116.8 L1721.5 2116.8 L1722.7 2113.1 L1723.9 2113.1 L1725.1 2110 L1726.2 2110 L1727.4 2107.2 L1728.6 2107.2 L1729.8 2110.2 L1731 2110.2 L1732.2 2110.7 L1733.3 2110.7 L1734.5 2111.6 L1735.7 2111.6 L1736.9 2113 L1738.1 2113 L1739.3 2110.9 L1740.4 2110.9 L1741.6 2112.4 L1742.8 2112.4 L1744 2111.9 L1745.2 2111.9 L1746.4 2111.3 L1747.5 2111.3 L1748.7 2116.2 L1749.9 2116.2 L1751.1 2108.9 L1752.3 2108.9 L1753.5 2106.5 L1754.6 2106.5 L1755.8 2106.2 L1757 2106.2 L1758.2 2105.6 L1759.4 2105.6 L1760.5 2117.2 L1761.7 2117.2 L1762.9 2111.7 L1764.1 2111.7 L1765.3 2111.5 L1766.5 2111.5 L1767.6 2109 L1768.8 2109 L1770 2111.6 L1771.2 2111.6 L1772.4 2110.7 L1773.6 2110.7 L1774.7 2113.8 L1775.9 2113.8 L1777.1 2107.5 L1778.3 2107.5 L1779.5 2114.1 L1780.7 2114.1 L1781.8 2110.6 L1783 2110.6 L1784.2 2104.3 L1785.4 2104.3 L1786.6 2110.2 L1787.8 2110.2 L1788.9 2111.8 L1790.1 2111.8 L1791.3 2107.3 L1792.5 2107.3 L1793.7 2108.2 L1794.8 2108.2 L1796 2111.2 L1797.2 2111.2 L1798.4 2110.8 L1799.6 2110.8 L1800.8 2109.5 L1801.9 2109.5 L1803.1 2105.9 L1804.3 2105.9 L1805.5 2112.1 L1806.7 2112.1 L1807.9 2109.2 L1809 2109.2 L1810.2 2112.8 L1811.4 2112.8 L1812.6 2117.2 L1813.8 2117.2 L1815 2115.8 L1816.1 2115.8 L1817.3 2109.6 L1818.5 2109.6 L1819.7 2113.8 L1820.9 2113.8 L1822.1 2111.5 L1823.2 2111.5 L1824.4 2107.9 L1825.6 2107.9 L1826.8 2113.8 L1828 2113.8 L1829.1 2111.4 L1830.3 2111.4 L1831.5 2111.7 L1832.7 2111.7 L1833.9 2114.7 L1835.1 2114.7 L1836.2 2111 L1837.4 2111 L1838.6 2109.2 L1839.8 2109.2 L1841 2115.6 L1842.2 2115.6 L1843.3 2112.3 L1844.5 2112.3 L1845.7 2109.9 L1846.9 2109.9 L1848.1 2109.2 L1849.3 2109.2 L1850.4 2110.1 L1851.6 2110.1 L1852.8 2104.3 L1854 2104.3 L1855.2 2108.7 L1856.4 2108.7 L1857.5 2108.4 L1858.7 2108.4 L1859.9 2112.1 L1861.1 2112.1 L1862.3 2109.4 L1863.4 2109.4 L1864.6 2108.3 L1865.8 2108.3 L1867 2110.7 L1868.2 2110.7 L1869.4 2112 L1870.5 2112 L1871.7 2107.2 L1872.9 2107.2 L1874.1 2112.4 L1875.3 2112.4 L1876.5 2113.4 L1877.6 2113.4 L1878.8 2110.2 L1880 2110.2 L1881.2 2109.4 L1882.4 2109.4 L1883.6 2111.3 L1884.7 2111.3 L1885.9 2112.9 L1887.1 2112.9 L1888.3 2109.7 L1889.5 2109.7 L1890.7 2112.3 L1891.8 2112.3 L1893 2112.4 L1894.2 2112.4 L1895.4 2112 L1896.6 2112 L1897.7 2115.7 L1898.9 2115.7 L1900.1 2113.5 L1901.3 2113.5 L1902.5 2114.6 L1903.7 2114.6 L1904.8 2108.9 L1906 2108.9 L1907.2 2109.4 L1908.4 2109.4 L1909.6 2116.2 L1910.8 2116.2 L1911.9 2114 L1913.1 2114 L1914.3 2111.4 L1915.5 2111.4 L1916.7 2105.7 L1917.9 2105.7 L1919 2110.8 L1920.2 2110.8 L1921.4 2111.8 L1922.6 2111.8 L1923.8 2108.5 L1925 2108.5 L1926.1 2110.8 L1927.3 2110.9 L1928.5 2112.1 L1929.7 2112.1 L1930.9 2116.1 L1932 2116.1 L1933.2 2108.5 L1934.4 2108.5 L1935.6 2112.6 L1936.8 2112.6 L1938 2110.3 L1939.1 2110.3 L1940.3 2105.4 L1941.5 2105.4 L1942.7 2109.9 L1943.9 2109.9 L1945.1 2110.8 L1946.2 2110.8 L1947.4 2114.2 L1948.6 2114.2" fill="none" stroke="#8e2b83" stroke-width="10" stroke-linejoin="round" stroke-linecap="butt"/>
<path d="M234 2112.3 L235.2 2112.3 L236.4 2117 L237.5 2117 L238.7 2112.9 L239.9 2112.9 L241.1 2113.9 L242.3 2113.9 L243.5 2111.6 L244.6 2111.6 L245.8 2114.6 L247 2114.5 L248.2 2121.5 L249.4 2121.5 L250.6 2120 L251.7 2120 L252.9 2111.3 L254.1 2111.3 L255.3 2115.2 L256.5 2115.2 L257.7 2115.6 L258.8 2115.6 L260 2113.5 L261.2 2113.5 L262.4 2117.4 L263.6 2117.4 L264.8 2111.9 L265.9 2111.9 L267.1 2109.7 L268.3 2109.7 L269.5 2110 L270.7 2110 L271.8 2117 L273 2117 L274.2 2113 L275.4 2113 L276.6 2107.7 L277.8 2107.7 L278.9 2113.6 L280.1 2113.6 L281.3 2109 L282.5 2109 L283.7 2113.2 L284.9 2113.2 L286 2113.4 L287.2 2113.4 L288.4 2113.3 L289.6 2113.3 L290.8 2117.1 L292 2117.1 L293.1 2111.6 L294.3 2111.6 L295.5 2115.7 L296.7 2115.7 L297.9 2116.8 L299.1 2116.8 L300.2 2111.2 L301.4 2111.2 L302.6 2118.7 L303.8 2118.7 L305 2118.9 L306.1 2118.9 L307.3 2110.4 L308.5 2110.4 L309.7 2119.6 L310.9 2119.6 L312.1 2113.8 L313.2 2113.8 L314.4 2117.4 L315.6 2117.4 L316.8 2115.3 L318 2115.3 L319.2 2113.8 L320.3 2113.8 L321.5 2117.1 L322.7 2117.1 L323.9 2120.1 L325.1 2120.1 L326.3 2120.4 L327.4 2120.4 L328.6 2113.3 L329.8 2113.3 L331 2113.6 L332.2 2113.6 L333.4 2118.3 L334.5 2118.3 L335.7 2114 L336.9 2114 L338.1 2116.5 L339.3 2116.5 L340.4 2116.9 L341.6 2116.9 L342.8 2115.4 L344 2115.4 L345.2 2113.9 L346.4 2113.9 L347.5 2113.2 L348.7 2113.2 L349.9 2112.8 L351.1 2112.8 L352.3 2117.3 L353.5 2117.3 L354.6 2115.9 L355.8 2115.9 L357 2113.9 L358.2 2113.9 L359.4 2121.1 L360.6 2121 L361.7 2117 L362.9 2117 L364.1 2110.8 L365.3 2110.8 L366.5 2108 L367.7 2108 L368.8 2112 L370 2112 L371.2 2111.8 L372.4 2111.8 L373.6 2113.8 L374.7 2113.8 L375.9 2116 L377.1 2116 L378.3 2119.3 L379.5 2119.3 L380.7 2110 L381.8 2110 L383 2113.9 L384.2 2113.9 L385.4 2112.9 L386.6 2112.9 L387.8 2117.7 L388.9 2117.7 L390.1 2108.2 L391.3 2108.1 L392.5 2114.2 L393.7 2114.2 L394.9 2115.3 L396 2115.3 L397.2 2114.5 L398.4 2114.5 L399.6 2107.2 L400.8 2107.2 L402 2114.9 L403.1 2114.9 L404.3 2114.3 L405.5 2114.2 L406.7 2111.1 L407.9 2111.1 L409 2111.8 L410.2 2111.8 L411.4 2112 L412.6 2112 L413.8 2114.3 L415 2114.3 L416.1 2114.7 L417.3 2114.7 L418.5 2111.3 L419.7 2111.3 L420.9 2115.6 L422.1 2115.5 L423.2 2114.4 L424.4 2114.4 L425.6 2110.2 L426.8 2110.2 L428 2115.9 L429.2 2115.9 L430.3 2115.8 L431.5 2115.8 L432.7 2121.6 L433.9 2121.6 L435.1 2118.2 L436.3 2118.2 L437.4 2114.5 L438.6 2114.5 L439.8 2110.3 L441 2110.3 L442.2 2110.4 L443.3 2110.4 L444.5 2116.6 L445.7 2116.6 L446.9 2119 L448.1 2118.9 L449.3 2114.9 L450.4 2114.9 L451.6 2114.8 L452.8 2114.8 L454 2115.2 L455.2 2115.1 L456.4 2105.6 L457.5 2105.6 L458.7 2113.7 L459.9 2113.7 L461.1 2113 L462.3 2113 L463.5 2113.4 L464.6 2113.4 L465.8 2115.5 L467 2115.5 L468.2 2115.2 L469.4 2115.2 L470.6 2109 L471.7 2109 L472.9 2115.1 L474.1 2115.1 L475.3 2113.5 L476.5 2113.5 L477.6 2111.2 L478.8 2111.2 L480 2112.5 L481.2 2112.5 L482.4 2107.3 L483.6 2107.3 L484.7 2111.3 L485.9 2111.3 L487.1 2119 L488.3 2119 L489.5 2115.8 L490.7 2115.8 L491.8 2118 L493 2118 L494.2 2109 L495.4 2109 L496.6 2115.3 L497.8 2115.3 L498.9 2118.5 L500.1 2118.5 L501.3 2114.8 L502.5 2114.8 L503.7 2114.9 L504.9 2114.9 L506 2113.3 L507.2 2113.3 L508.4 2112.2 L509.6 2112.2 L510.8 2110.9 L511.9 2110.9 L513.1 2116.2 L514.3 2116.2 L515.5 2109.9 L516.7 2109.9 L517.9 2113.6 L519 2113.6 L520.2 2118.7 L521.4 2118.7 L522.6 2111.8 L523.8 2111.8 L525 2116.1 L526.1 2116.1 L527.3 2117.1 L528.5 2117.1 L529.7 2121.7 L530.9 2121.7 L532.1 2118 L533.2 2118 L534.4 2109.9 L535.6 2109.9 L536.8 2107.4 L538 2107.4 L539.2 2114.5 L540.3 2114.5 L541.5 2112.6 L542.7 2112.6 L543.9 2119.8 L545.1 2119.8 L546.2 2113.9 L547.4 2113.9 L548.6 2116.4 L549.8 2116.4 L551 2117.4 L552.2 2117.4 L553.3 2115.5 L554.5 2115.5 L555.7 2117.6 L556.9 2117.6 L558.1 2116.5 L559.3 2116.5 L560.4 2113.9 L561.6 2113.9 L562.8 2111.1 L564 2111.1 L565.2 2117.2 L566.4 2117.2 L567.5 2122.1 L568.7 2122.1 L569.9 2109.5 L571.1 2109.5 L572.3 2111.3 L573.5 2111.3 L574.6 2111.9 L575.8 2111.9 L577 2119.6 L578.2 2119.6 L579.4 2109.9 L580.5 2109.9 L581.7 2113 L582.9 2113 L584.1 2115.1 L585.3 2115.1 L586.5 2116.9 L587.6 2116.9 L588.8 2113.3 L590 2113.3 L591.2 2114.6 L592.4 2114.6 L593.6 2111.9 L594.7 2111.9 L595.9 2111.9 L597.1 2111.9 L598.3 2110.3 L599.5 2110.3 L600.7 2114.5 L601.8 2114.5 L603 2109 L604.2 2109 L605.4 2117.2 L606.6 2117.2 L607.8 2113.8 L608.9 2113.8 L610.1 2116.1 L611.3 2116.1 L612.5 2116 L613.7 2116 L614.8 2114.8 L616 2114.8 L617.2 2108.7 L618.4 2108.7 L619.6 2120.6 L620.8 2120.6 L621.9 2116.9 L623.1 2116.9 L624.3 2115.8 L625.5 2115.8 L626.7 2113.7 L627.9 2113.7 L629 2120.1 L630.2 2120.1 L631.4 2110.9 L632.6 2110.9 L633.8 2111.8 L635 2111.8 L636.1 2115.4 L637.3 2115.4 L638.5 2116.4 L639.7 2116.4 L640.9 2117.3 L642.1 2117.3 L643.2 2109.3 L644.4 2109.3 L645.6 2109.8 L646.8 2109.8 L648 2116.8 L649.1 2116.9 L650.3 2108.1 L651.5 2108.1 L652.7 2111.3 L653.9 2111.3 L655.1 2113.6 L656.2 2113.6 L657.4 2114.1 L658.6 2114.2 L659.8 2113.5 L661 2113.5 L662.2 2109.7 L663.3 2109.7 L664.5 2119.8 L665.7 2119.9 L666.9 2111.1 L668.1 2111.2 L669.3 2112.3 L670.4 2112.3 L671.6 2114 L672.8 2114 L674 2116.7 L675.2 2116.7 L676.4 2113.8 L677.5 2113.9 L678.7 2116.9 L679.9 2116.9 L681.1 2115.3 L682.3 2115.4 L683.4 2119.6 L684.6 2119.7 L685.8 2114.8 L687 2114.8 L688.2 2121.8 L689.4 2121.9 L690.5 2114.9 L691.7 2115 L692.9 2119 L694.1 2119.1 L695.3 2116 L696.5 2116.1 L697.6 2115.6 L698.8 2115.6 L700 2113.3 L701.2 2113.4 L702.4 2117.7 L703.6 2117.7 L704.7 2119.4 L705.9 2119.5 L706.7 2117.9 L707.3 2118 L707.9 2114.4 L708.5 2114.5 L709.1 2114.5 L709.7 2114.6 L710.3 2113.7 L710.8 2113.8 L711.4 2114.3 L712 2114.5 L712.6 2115.4 L713.2 2115.6 L713.8 2122.4 L714.4 2122.6 L715 2111.9 L715.6 2112.1 L716.2 2117.4 L716.8 2117.5 L717.4 2120.8 L717.9 2120.9 L718.5 2123.4 L719.1 2123.6 L719.7 2120.1 L720.3 2120.3 L720.9 2124.6 L721.5 2124.8 L722.1 2121.9 L722.7 2122.1 L723.3 2118.4 L723.9 2118.6 L724.5 2120.1 L725 2120.4 L725.6 2118.9 L726.2 2119.1 L726.8 2132.4 L727.4 2132.6 L728 2121.1 L728.6 2121.4 L729.2 2119 L729.8 2119.2 L730.4 2123.4 L731 2123.7 L731.5 2123.2 L732.1 2123.5 L732.7 2126.5 L733.3 2126.8 L733.9 2124.6 L734.5 2124.9 L735.1 2123.6 L735.7 2123.9 L736.3 2129.3 L736.9 2129.6 L737.5 2126.9 L738.1 2127.2 L738.6 2127.2 L739.2 2127.5 L739.8 2129.9 L740.4 2130.2 L741 2131.3 L741.6 2131.6 L742.2 2122.8 L742.8 2123.2 L743.4 2130 L744 2130.3 L744.6 2134.4 L745.1 2134.8 L745.7 2130.9 L746.3 2131.2 L746.9 2130.7 L747.5 2131.1 L748.1 2130.4 L748.7 2130.8 L749.3 2129.5 L749.9 2129.9 L750.5 2134.2 L751.1 2134.6 L751.7 2130.7 L752.2 2131.1 L752.8 2132 L753.4 2132.4 L754 2133.7 L754.6 2134.1 L755.2 2137.6 L755.8 2138 L756.4 2132 L757 2132.4 L757.6 2140.1 L758.2 2140.5 L758.8 2140.3 L759.3 2140.7 L759.9 2140.9 L760.5 2141.4 L761.1 2140.5 L761.7 2140.9 L762.3 2138.3 L762.9 2138.7 L763.5 2141.8 L764.1 2142.2 L764.7 2145.3 L765.3 2145.8 L765.8 2141.7 L766.4 2142.2 L767 2148 L767.6 2148.6 L768.2 2148.6 L768.8 2149.1 L769.4 2147.5 L770 2148.1 L770.6 2150.4 L771.2 2151 L771.8 2151.5 L772.4 2152.1 L772.9 2153 L773.5 2153.7 L774.1 2153.7 L774.7 2154.4 L775.3 2155 L775.9 2155.7 L776.5 2156.8 L777.1 2157.6 L777.7 2158 L778.3 2158.8 L778.9 2159.8 L779.4 2160.6 L780 2160.7 L780.6 2161.5 L781.2 2160.1 L781.8 2161 L782.4 2164.7 L783 2165.6 L783.6 2167.8 L784.2 2168.7 L784.8 2167.3 L785.4 2168.3 L786 2168.4 L786.5 2169.3 L787.1 2172.4 L787.7 2173.4 L788.3 2174.1 L788.9 2175.2 L789.5 2175 L790.1 2176.2 L790.7 2179.1 L791.3 2180.3 L791.9 2181.4 L792.5 2182.7 L793.1 2185.6 L793.6 2186.9 L794.2 2187 L794.8 2188.3 L795.4 2187.7 L796 2189.1 L796.6 2189.7 L797.2 2191.1 L797.8 2192.4 L798.4 2193.9 L799 2198.2 L799.6 2199.8 L800.1 2202 L800.7 2203.6 L801.3 2204.2 L801.9 2205.8 L802.5 2207.9 L803.1 2209.5 L803.7 2211 L804.3 2212.7 L804.9 2213.7 L805.5 2215.5 L806.1 2219 L806.7 2220.9 L807.2 2222.4 L807.8 2224.4 L808.4 2225 L809 2227.1 L809.6 2229.2 L810.2 2231.5 L810.8 2233.7 L811.4 2236 L812 2240.5 L812.6 2242.9 L813.2 2243.6 L813.7 2246 L814.3 2247.6 L814.9 2250.2 L815.5 2254.3 L816.1 2257 L816.7 2260.5 L817.3 2263.3 L817.9 2265.4 L818.5 2268.3 L819.1 2269.3 L819.7 2272.2 L820.3 2275.4 L820.8 2278.6 L821.4 2284.1 L822 2287.4 L822.6 2290.6 L823.2 2294.1 L823.8 2296.4 L824.4 2300.1 L825 2302.7 L825.6 2306.5 L826.2 2310.2 L826.8 2314.2 L827.4 2322.7 L827.9 2326.8 L828.5 2328.4 L829.1 2332.7 L829.7 2337.6 L830.3 2342.2 L830.9 2346.1 L831.5 2350.9 L832.1 2353.9 L832.7 2359 L833.3 2366 L833.9 2371.2 L834.4 2377.8 L835 2383.2 L835.6 2385.7 L836.2 2391.2 L836.8 2397.4 L837.4 2402.9 L838 2409.4 L838.6 2414.9 L839.2 2421 L839.8 2426.5 L840.4 2430.6 L841 2436 L841.5 2441.9 L842.1 2447.3 L842.7 2453.2 L843.3 2458.5 L843.9 2462.8 L844.5 2468.1 L845.1 2475.2 L845.7 2480.6 L846.3 2484.9 L846.9 2490.4 L847.5 2496.5 L848 2502.1 L848.6 2508.3 L849.2 2514.2 L849.8 2521.1 L850.4 2527.2 L851 2533.6 L851.6 2540.1 L852.2 2544.8 L852.8 2551.6 L853.4 2560.4 L854 2568 L854.6 2576.9 L855.1 2585.1 L855.7 2592.8 L856.3 2601.4 L856.9 2607.4 L857.5 2616.1 L858.1 2626.7 L858.7 2635.3 L859.3 2644 L859.9 2652.2 L860.5 2658.8 L861.1 2667.2 L861.7 2676.9 L862.2 2685.6 L862.8 2692.5 L863.4 2701.2 L864 2711.4 L864.6 2719.8 L865.2 2728.9 L865.8 2736.8 L866.4 2744.2 L867 2751.3 L867.6 2757.5 L868.2 2763.6 L868.7 2771.9 L869.3 2777.3 L869.9 2780.7 L870.5 2785.9 L871.1 2790.4 L871.7 2795.3 L872.3 2799.4 L872.9 2803.8 L873.5 2808.6 L874.1 2812.3 L874.7 2814.9 L875.3 2817.7 L875.8 2821.5 L876.4 2823.2 L877 2824.7 L877.6 2826.1 L878.2 2828.6 L878.8 2829.7 L879.4 2826.1 L880 2826.7 L880.6 2828 L881.2 2827.8 L881.8 2828.3 L882.3 2827.4 L882.9 2826.4 L883.5 2825 L884.1 2824.7 L884.7 2823.1 L885.3 2821.3 L885.9 2818.7 L886.5 2813.8 L887.1 2810.1 L887.7 2806.7 L888.3 2802.1 L888.9 2796.6 L889.4 2791.1 L890 2784.9 L890.6 2778.5 L891.2 2773.8 L891.8 2766.6 L892.4 2754.7 L893 2743.3 L893.6 2731.6 L894.2 2716.9 L894.8 2699.1 L895.4 2682.6 L896 2668.1 L896.5 2651.3 L897.1 2632 L897.7 2613.3 L898.3 2593.3 L898.9 2572.2 L899.5 2551.8 L900.1 2529.7 L900.7 2508.2 L901.3 2486.6 L901.9 2464.8 L902.5 2445.3 L903 2427.5 L903.6 2409.8 L904.2 2392.4 L904.8 2375 L905.4 2358.8 L906 2342.1 L906.6 2327.2 L907.2 2311.5 L907.8 2295.6 L908.4 2281.2 L909 2267.5 L909.6 2254.8 L910.1 2242.2 L910.7 2230.9 L911.3 2219.2 L911.9 2207.8 L912.5 2195.9 L913.1 2185.1 L913.7 2175.5 L914.3 2166 L914.9 2158.2 L915.5 2150.8 L916.1 2145.1 L916.6 2140.4 L917.2 2131.5 L917.8 2129.4 L918.4 2130.2 L919 2128.4 L919.6 2128.3 L920.2 2126.8 L920.8 2121 L921.4 2119.8 L922 2122.7 L922.6 2121.8 L923.2 2118.9 L923.7 2118.4 L924.3 2120.1 L924.9 2120 L925.5 2116.7 L926.1 2116.6 L926.7 2117.1 L927.3 2117 L927.9 2130.1 L928.5 2130 L929.1 2115 L929.7 2114.9 L930.3 2125.7 L930.8 2125.6 L931.4 2121.8 L932 2121.8 L932.6 2111.5 L933.2 2111.5 L933.8 2123.5 L934.4 2123.4 L935 2118.4 L935.6 2118.4 L936.2 2116 L936.8 2115.9 L937.3 2124.9 L937.9 2124.9 L938.5 2127.7 L939.1 2127.7 L939.7 2117.1 L940.3 2117.1 L940.9 2129.4 L941.5 2129.4 L942.1 2119.3 L942.7 2119.3 L943.3 2116.8 L943.9 2116.8 L944.4 2118.1 L945 2118.1 L945.6 2120.8 L946.2 2120.8 L946.8 2124 L947.4 2124 L948 2120.8 L948.6 2120.8 L949.2 2120.1 L949.8 2120.1 L950.4 2117.3 L950.9 2117.3 L951.5 2118 L952.1 2118 L952.7 2116.2 L953.3 2116.2 L953.9 2120.1 L954.5 2120.1 L955.1 2119.3 L955.7 2119.3 L956.3 2106.5 L956.9 2106.5 L957.5 2119.5 L958 2119.5 L958.6 2122.5 L959.2 2122.5 L959.8 2122.6 L960.4 2122.6 L961 2127 L961.6 2127 L962.2 2126 L962.8 2126 L963.4 2126.8 L964.6 2126.9 L965.7 2119.2 L966.9 2119.3 L968.1 2128.9 L969.3 2129 L970.5 2119.8 L971.6 2119.9 L972.8 2127.8 L974 2127.9 L975.2 2125.6 L976.4 2125.7 L977.6 2121.1 L978.7 2121.2 L979.9 2121.6 L981.1 2121.7 L982.3 2118.1 L983.5 2118.1 L984.7 2120.1 L985.8 2120.2 L987 2124.5 L988.2 2124.6 L989.4 2122.8 L990.6 2122.9 L991.8 2118.4 L992.9 2118.5 L994.1 2121.9 L995.3 2122 L996.5 2117.5 L997.7 2117.6 L998.9 2126.4 L1000 2126.4 L1001.2 2126.3 L1002.4 2126.4 L1003.6 2128.9 L1004.8 2128.9 L1005.9 2118.1 L1007.1 2118.1 L1008.3 2114.9 L1009.5 2114.9 L1010.7 2124.9 L1011.9 2124.9 L1013 2125.5 L1014.2 2125.5 L1015.4 2128.4 L1016.6 2128.4 L1017.8 2117.3 L1019 2117.3 L1020.1 2124 L1021.3 2124 L1022.5 2121.4 L1023.7 2121.4 L1024.9 2122.1 L1026.1 2122.1 L1027.2 2130 L1028.4 2130 L1029.6 2131.5 L1030.8 2131.5 L1032 2115.3 L1033.2 2115.3 L1034.3 2116.8 L1035.5 2116.8 L1036.7 2117.6 L1037.9 2117.6 L1039.1 2123.5 L1040.2 2123.5 L1041.4 2126.5 L1042.6 2126.5 L1043.8 2122.5 L1045 2122.5 L1046.2 2127.1 L1047.3 2127.1 L1048.5 2121 L1049.7 2121 L1050.9 2123.3 L1052.1 2123.3 L1053.3 2124.6 L1054.4 2124.6 L1055.6 2121.1 L1056.8 2121.1 L1058 2123.8 L1059.2 2123.8 L1060.4 2127.4 L1061.5 2127.4 L1062.7 2126.5 L1063.9 2126.5 L1065.1 2131 L1066.3 2131 L1067.5 2124 L1068.6 2124 L1069.8 2118.8 L1071 2118.8 L1072.2 2121.4 L1073.4 2121.4 L1074.5 2120.9 L1075.7 2120.9 L1076.9 2128.9 L1078.1 2128.9 L1079.3 2123.6 L1080.5 2123.6 L1081.6 2129.1 L1082.8 2129.1 L1084 2125.3 L1085.2 2125.3 L1086.4 2119.9 L1087.6 2119.9 L1088.7 2125.6 L1089.9 2125.6 L1091.1 2124.4 L1092.3 2124.4 L1093.5 2121.5 L1094.7 2121.5 L1095.8 2124.5 L1097 2124.5 L1098.2 2117.1 L1099.4 2117.1 L1100.6 2125 L1101.8 2125 L1102.9 2123.6 L1104.1 2123.6 L1105.3 2115.8 L1106.5 2115.8 L1107.7 2121.6 L1108.8 2121.6 L1110 2123.2 L1111.2 2123.2 L1112.4 2113.3 L1113.6 2113.3 L1114.8 2121 L1115.9 2121 L1117.1 2115.8 L1118.3 2115.8 L1119.5 2119.4 L1120.7 2119.4 L1121.9 2119.1 L1123 2119.1 L1124.2 2110 L1125.4 2110 L1126.6 2119.7 L1127.8 2119.7 L1129 2124 L1130.1 2124 L1131.3 2122.7 L1132.5 2122.7 L1133.7 2122.3 L1134.9 2122.3 L1136.1 2116.2 L1137.2 2116.2 L1138.4 2117.3 L1139.6 2117.3 L1140.8 2120.9 L1142 2120.9 L1143.1 2121.9 L1144.3 2121.9 L1145.5 2121 L1146.7 2121 L1147.9 2116.6 L1149.1 2116.6 L1150.2 2112.9 L1151.4 2112.9 L1152.6 2120.6 L1153.8 2120.6 L1155 2126.7 L1156.2 2126.7 L1157.3 2128.2 L1158.5 2128.2 L1159.7 2126.9 L1160.9 2126.9 L1162.1 2112.8 L1163.3 2112.8 L1164.4 2128.2 L1165.6 2128.2 L1166.8 2124 L1168 2124 L1169.2 2121.5 L1170.4 2121.5 L1171.5 2126.1 L1172.7 2126.1 L1173.9 2121.4 L1175.1 2121.4 L1176.3 2136.2 L1177.4 2136.2 L1178.6 2119.7 L1179.8 2119.7 L1181 2120.5 L1182.2 2120.5 L1183.4 2116.8 L1184.5 2116.8 L1185.7 2112.5 L1186.9 2112.5 L1188.1 2131.6 L1189.3 2131.6 L1190.5 2112.2 L1191.6 2112.2 L1192.8 2116.8 L1194 2116.8 L1195.2 2125.4 L1196.4 2125.4 L1197.6 2115.9 L1198.7 2115.9 L1199.9 2120.3 L1201.1 2120.7 L1202.3 2127.7 L1203.5 2128.2 L1204.7 2125.9 L1204 2080 L1206 2170 L1205.8 2126.4 L1207 2131.3 L1208.2 2131.7 L1209.4 2121.8 L1210.6 2122.3 L1211.7 2127.6 L1212.9 2128.1 L1214.1 2120.4 L1215.3 2120.9 L1216.5 2129.2 L1217.7 2129.7 L1218.8 2130.5 L1220 2130.8 L1221.2 2134.4 L1222.4 2134.5 L1223.6 2120.8 L1224.8 2120.8 L1225.9 2131.1 L1227.1 2131.1 L1228.3 2123.4 L1229.5 2123.5 L1230.7 2122.9 L1231.9 2122.9 L1233 2128 L1234.2 2128.1 L1235.4 2129.4 L1236.6 2129.5 L1237.8 2131.9 L1239 2132 L1240.1 2130.3 L1241.3 2130.3 L1242.5 2127.7 L1243.7 2127.8 L1244.9 2126.6 L1246 2126.7 L1247.2 2124.3 L1248.4 2124.4 L1249.6 2130.4 L1250.8 2130.5 L1252 2135.3 L1253.1 2135.4 L1254.3 2134.7 L1255.5 2134.7 L1256.7 2132.5 L1257.9 2132.6 L1259.1 2127.6 L1260.2 2127.7 L1261.4 2126.4 L1262.6 2126.5 L1263.8 2134.6 L1265 2134.6 L1266.2 2133.7 L1267.3 2133.7 L1268.5 2141.3 L1269.7 2141.4 L1270.9 2141.6 L1272.1 2141.6 L1273.3 2129.4 L1274.4 2129.5 L1275.6 2119.1 L1276.8 2119.2 L1278 2136.4 L1279.2 2136.5 L1280.3 2136.7 L1281.5 2136.8 L1282.7 2137.9 L1283.9 2138 L1285.1 2132.6 L1286.3 2132.7 L1287.4 2140.8 L1288.6 2140.8 L1289.8 2121.6 L1291 2121.7 L1292.2 2133.9 L1293.4 2133.9 L1294.5 2127.1 L1295.7 2127.2 L1296.9 2138.4 L1298.1 2138.5 L1299.3 2127.9 L1300.5 2128 L1301.6 2144.8 L1302.8 2144.9 L1304 2140.2 L1305.2 2140.2 L1306.4 2131.8 L1307.6 2131.9 L1308.7 2123.9 L1309.9 2124 L1311.1 2133.5 L1312.3 2133.6 L1313.5 2138.9 L1314.6 2138.9 L1315.8 2134.2 L1317 2134.3 L1318.2 2142.9 L1319.4 2142.9 L1320.6 2130.2 L1321.7 2130.3 L1322.9 2133.9 L1324.1 2133.9 L1325.3 2134.4 L1326.5 2134.5 L1327.7 2139.1 L1328.8 2139.2 L1330 2130.6 L1331.2 2130.7 L1332.4 2145.4 L1333.6 2145.4 L1334.8 2131.8 L1335.9 2131.8 L1337.1 2139 L1338.3 2139.1 L1339.5 2142.5 L1340.7 2142.6 L1341.9 2139.4 L1343 2139.5 L1344.2 2133.3 L1345.4 2133.4 L1346.6 2130.1 L1347.8 2130.2 L1348.9 2123.1 L1350.1 2123.2 L1351.3 2133.2 L1352.5 2133.2 L1353.7 2136.3 L1354.9 2136.4 L1356 2137 L1357.2 2137 L1358.4 2134.8 L1359.6 2134.8 L1360.8 2139.5 L1362 2139.6 L1363.1 2149 L1364.3 2149 L1365.5 2135.3 L1366.7 2135.4 L1367.9 2134.1 L1369.1 2134.2 L1370.2 2147.5 L1371.4 2147.5 L1372.6 2137 L1373.8 2137.1 L1375 2139.2 L1376.2 2139.2 L1377.3 2137.2 L1378.5 2137.2 L1379.7 2121.6 L1380.9 2121.7 L1382.1 2126.1 L1383.2 2124.1 L1384.4 2129.7 L1385.6 2127.7 L1386.8 2121.7 L1388 2119.7 L1389.2 2119.4 L1390.3 2117.4 L1391.5 2131.2 L1392.7 2129.2 L1393.9 2113.9 L1395.1 2111.9 L1396.3 2128.5 L1397.4 2127.2 L1398.6 2130.4 L1399.8 2130.4 L1401 2112.7 L1402.2 2112.7 L1403.4 2114 L1404.5 2114 L1405.7 2092.8 L1406.9 2092.8 L1408.1 2113.3 L1409.3 2113.3 L1410.5 2123.9 L1411.6 2123.9 L1412.8 2113.5 L1414 2113.5 L1415.2 2121.3 L1416.4 2121.3 L1417.5 2105.4 L1418.7 2105.4 L1419.9 2112.5 L1421.1 2112.5 L1422.3 2099.7 L1423.5 2099.7 L1424.6 2109.5 L1425.8 2109.5 L1427 2097.3 L1428.2 2097.3 L1429.4 2116.8 L1430.6 2116.8 L1431.7 2116.1 L1432.9 2116.1 L1434.1 2116.1 L1435.3 2116.1 L1436.5 2111.2 L1437.7 2111.2 L1438.8 2100.1 L1440 2100.1 L1441.2 2108 L1442.4 2108 L1443.6 2121.5 L1444.8 2121.5 L1445.9 2109.3 L1447.1 2109.3 L1448.3 2127.5 L1449.5 2127.5 L1450.7 2112.5 L1451.8 2112.5 L1453 2116.2 L1454.2 2116.2 L1455.4 2097.9 L1456.6 2097.9 L1457.8 2106.7 L1458.9 2106.7 L1460.1 2101.7 L1461.3 2101.7 L1462.5 2111 L1463.7 2111 L1464.9 2103.5 L1466 2103.5 L1467.2 2114.8 L1468.4 2114.8 L1469.6 2107.9 L1470.8 2107.9 L1472 2109.4 L1473.1 2109.4 L1474.3 2109.4 L1475.5 2109.4 L1476.7 2124.2 L1477.9 2124.2 L1479.1 2119 L1480.2 2119 L1481.4 2106.6 L1482.6 2106.6 L1483.8 2111.8 L1485 2111.8 L1486.1 2115.3 L1487.3 2115.3 L1488.5 2110.2 L1489.7 2110.2 L1490.9 2104.9 L1492.1 2104.9 L1493.2 2110.1 L1494.4 2110.1 L1495.6 2112.2 L1496.8 2112.2 L1498 2102.9 L1499.2 2102.9 L1500.3 2122.1 L1501.5 2122.1 L1502.7 2105.7 L1503.9 2105.7 L1505.1 2114.5 L1506.3 2114.5 L1507.4 2111.1 L1508.6 2111.1 L1509.8 2110.4 L1511 2110.4 L1512.2 2096.2 L1513.4 2096.2 L1514.5 2129.1 L1515.7 2129.1 L1516.9 2104.6 L1518.1 2104.6 L1519.3 2106.7 L1520.4 2106.7 L1521.6 2109.2 L1522.8 2109.2 L1524 2114.8 L1525.2 2114.8 L1526.4 2110.6 L1527.5 2110.6 L1528.7 2097 L1529.9 2097 L1531.1 2124.1 L1532.3 2124.1 L1533.5 2099.1 L1534.6 2099.1 L1535.8 2101.9 L1537 2101.9 L1538.2 2105.1 L1539.4 2105.1 L1540.6 2104.4 L1541.7 2104.4 L1542.9 2100.2 L1544.1 2100.2 L1545.3 2128.6 L1546.5 2128.6 L1547.7 2112.4 L1548.8 2112.4 L1550 2107.4 L1551.2 2107.4 L1552.4 2118.3 L1553.6 2118.3 L1554.7 2108.1 L1555.9 2108.1 L1557.1 2094.4 L1558.3 2094.4 L1559.5 2110.4 L1560.7 2110.4 L1561.8 2114.7 L1563 2114.7 L1564.2 2115.7 L1565.4 2115.7 L1566.6 2113.2 L1567.8 2113.2 L1568.9 2117.1 L1570.1 2117.1 L1571.3 2116.6 L1572.5 2116.6 L1573.7 2110 L1574.9 2110 L1576 2098.7 L1577.2 2098.7 L1578.4 2106.7 L1579.6 2106.7 L1580.8 2099.6 L1582 2099.6 L1583.1 2116.6 L1584.3 2116.6 L1585.5 2108.4 L1586.7 2108.4 L1587.9 2108 L1589 2108 L1590.2 2119.8 L1591.4 2119.8 L1592.6 2121.1 L1593.8 2121.1 L1595 2111.7 L1596.1 2111.7 L1597.3 2089.8 L1598.5 2089.8 L1599.7 2110.8 L1600.9 2110.8 L1602.1 2117 L1603.2 2117 L1604.4 2102.8 L1605.6 2102.8 L1606.8 2107.5 L1608 2107.5 L1609.2 2121.2 L1610.3 2121.2 L1611.5 2115.9 L1612.7 2115.9 L1613.9 2112 L1615.1 2112 L1616.3 2124.3 L1617.4 2124.3 L1618.6 2118 L1619.8 2118 L1621 2122.3 L1622.2 2122.3 L1623.3 2101.5 L1624.5 2101.5 L1625.7 2128.6 L1626.9 2128.6 L1628.1 2111.7 L1629.3 2111.7 L1630.4 2119.1 L1631.6 2119.1 L1632.8 2118.1 L1634 2118.1 L1635.2 2117.5 L1636.4 2117.5 L1637.5 2117.5 L1638.7 2117.5 L1639.9 2101.2 L1641.1 2101.2 L1642.3 2108.8 L1643.5 2108.8 L1644.6 2103.4 L1645.8 2103.3 L1647 2115.5 L1648.2 2115.5 L1649.4 2117.3 L1650.6 2117.3 L1651.7 2110.8 L1652.9 2110.8 L1654.1 2101.7 L1655.3 2101.7 L1656.5 2095.9 L1657.6 2095.9 L1658.8 2114.8 L1660 2114.8 L1661.2 2134.8 L1662.4 2134.7 L1663.6 2107.4 L1664.7 2107.4 L1665.9 2124.8 L1667.1 2124.8 L1668.3 2112.9 L1669.5 2112.9 L1670.7 2101.5 L1671.8 2101.5 L1673 2117.9 L1674.2 2117.9 L1675.4 2119.2 L1676.6 2119.2 L1677.8 2109.7 L1678.9 2109.7 L1680.1 2120.9 L1681.3 2120.9 L1682.5 2108.4 L1683.7 2108.4 L1684.9 2116.2 L1686 2116.2 L1687.2 2105 L1688.4 2104.9 L1689.6 2116.8 L1690.8 2116.8 L1691.9 2105.2 L1693.1 2105.2 L1694.3 2120.4 L1695.5 2120.4 L1696.7 2098.6 L1697.9 2098.6 L1699 2103 L1700.2 2103 L1701.4 2109.8 L1702.6 2109.8 L1703.8 2114.2 L1705 2114.2 L1706.1 2109.3 L1707.3 2109.3 L1708.5 2122.3 L1709.7 2122.3 L1710.9 2116.4 L1712.1 2116.4 L1713.2 2102.2 L1714.4 2102.2 L1715.6 2112.4 L1716.8 2112.4 L1718 2101.2 L1719.2 2101.2 L1720.3 2108.1 L1721.5 2108.1 L1722.7 2120.1 L1723.9 2120.1 L1725.1 2126.8 L1726.2 2126.8 L1727.4 2109.9 L1728.6 2109.9 L1729.8 2116.1 L1731 2116.1 L1732.2 2113.7 L1733.3 2113.7 L1734.5 2092.4 L1735.7 2092.4 L1736.9 2109.6 L1738.1 2109.6 L1739.3 2116 L1740.4 2116 L1741.6 2112.7 L1742.8 2112.7 L1744 2107.8 L1745.2 2107.8 L1746.4 2118.1 L1747.5 2118.1 L1748.7 2120.4 L1749.9 2120.4 L1751.1 2100.3 L1752.3 2100.3 L1753.5 2099.7 L1754.6 2099.7 L1755.8 2107.9 L1757 2107.9 L1758.2 2098.9 L1759.4 2098.9 L1760.5 2115.3 L1761.7 2115.3 L1762.9 2116.7 L1764.1 2116.7 L1765.3 2115.3 L1766.5 2115.3 L1767.6 2119.6 L1768.8 2119.6 L1770 2118.3 L1771.2 2118.3 L1772.4 2109.2 L1773.6 2109.1 L1774.7 2109.1 L1775.9 2109.1 L1777.1 2111.6 L1778.3 2111.6 L1779.5 2113.1 L1780.7 2113.1 L1781.8 2102.2 L1783 2102.2 L1784.2 2102.8 L1785.4 2102.8 L1786.6 2105.3 L1787.8 2105.3 L1788.9 2100 L1790.1 2099.9 L1791.3 2106.5 L1792.5 2106.5 L1793.7 2110.2 L1794.8 2110.2 L1796 2106 L1797.2 2106 L1798.4 2102.6 L1799.6 2102.6 L1800.8 2093.9 L1801.9 2093.9 L1803.1 2111.4 L1804.3 2111.4 L1805.5 2110.4 L1806.7 2110.4 L1807.9 2119.8 L1809 2119.8 L1810.2 2115.4 L1811.4 2115.4 L1812.6 2120.5 L1813.8 2120.5 L1815 2113 L1816.1 2113 L1817.3 2112.2 L1818.5 2112.2 L1819.7 2102.6 L1820.9 2102.6 L1822.1 2114.1 L1823.2 2114.1 L1824.4 2126.1 L1825.6 2126.1 L1826.8 2106.7 L1828 2106.7 L1829.1 2099.4 L1830.3 2099.4 L1831.5 2113.7 L1832.7 2113.7 L1833.9 2122.4 L1835.1 2122.4 L1836.2 2113.7 L1837.4 2113.7 L1838.6 2112.2 L1839.8 2112.2 L1841 2094.3 L1842.2 2094.3 L1843.3 2108.2 L1844.5 2108.2 L1845.7 2109.1 L1846.9 2109.1 L1848.1 2115.2 L1849.3 2115.2 L1850.4 2098.2 L1851.6 2098.2 L1852.8 2124.4 L1854 2124.4 L1855.2 2123.9 L1856.4 2123.9 L1857.5 2107.6 L1858.7 2107.6 L1859.9 2098.5 L1861.1 2098.5 L1862.3 2105.8 L1863.4 2105.8 L1864.6 2111.3 L1865.8 2111.3 L1867 2110.2 L1868.2 2110.2 L1869.4 2100.1 L1870.5 2100.1 L1871.7 2111.5 L1872.9 2111.5 L1874.1 2104.9 L1875.3 2104.9 L1876.5 2111.1 L1877.6 2111.1 L1878.8 2107 L1880 2107 L1881.2 2126.5 L1882.4 2126.5 L1883.6 2125.6 L1884.7 2125.6 L1885.9 2096.1 L1887.1 2096.1 L1888.3 2106.6 L1889.5 2106.6 L1890.7 2110.6 L1891.8 2110.6 L1893 2099.5 L1894.2 2099.5 L1895.4 2113.7 L1896.6 2113.7 L1897.7 2092.4 L1898.9 2092.4 L1900.1 2101.3 L1901.3 2101.3 L1902.5 2121.1 L1903.7 2121.1 L1904.8 2111.2 L1906 2111.2 L1907.2 2116.3 L1908.4 2116.3 L1909.6 2115.6 L1910.8 2115.6 L1911.9 2100.6 L1913.1 2100.6 L1914.3 2102.4 L1915.5 2102.4 L1916.7 2107.6 L1917.9 2107.6 L1919 2100.8 L1920.2 2100.8 L1921.4 2107.5 L1922.6 2107.5 L1923.8 2120.4 L1925 2120.4 L1926.1 2115.7 L1927.3 2115.7 L1928.5 2120.7 L1929.7 2120.7 L1930.9 2108.3 L1932 2108.3 L1933.2 2119.5 L1934.4 2119.5 L1935.6 2108.5 L1936.8 2108.5 L1938 2118.6 L1939.1 2118.6 L1940.3 2112.8 L1941.5 2112.8 L1942.7 2099.2 L1943.9 2099.2 L1945.1 2104.6 L1946.2 2104.5 L1947.4 2113.6 L1948.6 2113.6" fill="none" stroke="#64a632" stroke-width="10" stroke-linejoin="round" stroke-linecap="butt"/>
</g>
<path d="M599.5 1853.5 H759.7" stroke="#2170b6" stroke-width="9.5"/>
<path d="M599.5 1915.8 H759.7" stroke="#ee5624" stroke-width="9.5"/>
<path d="M599.5 1978.2 H759.7" stroke="#fcad17" stroke-width="9.5"/>
<path d="M1271.7 1853.6 H1429.8" stroke="#8e2b83" stroke-width="9.5"/>
<path d="M1271.7 1915.7 H1429.8" stroke="#64a632" stroke-width="9.5"/>
<rect x="1229.8" y="2229.7" width="660.7" height="663" fill="#fdfcfa"/>
<g stroke="#2a2623" fill="none">
<path d="M1381.2 2892.7 V2886.7 M1381.2 2229.7 V2235.7" stroke-width="2.2"/>
<path d="M1635.8 2892.7 V2886.7 M1635.8 2229.7 V2235.7" stroke-width="2.2"/>
<path d="M1229.8 2236.9 H1235.8 M1890.5 2236.9 H1884.5" stroke-width="2.2"/>
<path d="M1229.8 2346.1 H1235.8 M1890.5 2346.1 H1884.5" stroke-width="2.2"/>
<path d="M1229.8 2455.3 H1235.8 M1890.5 2455.3 H1884.5" stroke-width="2.2"/>
<path d="M1229.8 2564.5 H1235.8 M1890.5 2564.5 H1884.5" stroke-width="2.2"/>
<path d="M1229.8 2673.7 H1235.8 M1890.5 2673.7 H1884.5" stroke-width="2.2"/>
<path d="M1229.8 2782.9 H1235.8 M1890.5 2782.9 H1884.5" stroke-width="2.2"/>
<rect x="1229.8" y="2229.7" width="660.7" height="663" stroke-width="2.5"/>
</g>
<path d="M1226.4 2240.6 L1227.4 2240.7 L1228.4 2241 L1229.4 2241.2 L1230.4 2239.4 L1231.5 2239.5 L1232.5 2241 L1233.5 2241.2 L1234.5 2241.9 L1235.5 2242 L1236.6 2242.3 L1237.6 2242.4 L1238.6 2241.7 L1239.6 2241.8 L1240.6 2241.7 L1241.7 2241.8 L1242.7 2243.4 L1243.7 2243.5 L1244.7 2242.4 L1245.7 2242.5 L1246.7 2243.1 L1247.8 2243.3 L1248.8 2243.1 L1249.8 2243.2 L1250.8 2242.8 L1251.8 2242.9 L1252.9 2244 L1253.9 2244.2 L1254.9 2245 L1255.9 2245.1 L1256.9 2243.9 L1257.9 2244.1 L1259 2244.5 L1260 2244.7 L1261 2245.6 L1262 2245.7 L1263 2246.2 L1264.1 2246.4 L1265.1 2245.6 L1266.1 2245.8 L1267.1 2245.7 L1268.1 2245.8 L1269.2 2245.8 L1270.2 2245.9 L1271.2 2246.2 L1272.2 2246.4 L1273.2 2246.8 L1274.2 2247 L1275.3 2247.9 L1276.3 2248.1 L1277.3 2249.3 L1278.3 2249.5 L1279.3 2249 L1280.4 2249.2 L1281.4 2250.2 L1282.4 2250.4 L1283.4 2248.7 L1284.4 2248.9 L1285.5 2250.6 L1286.5 2250.8 L1287.5 2247.4 L1288.5 2247.5 L1289.5 2249.8 L1290.5 2250 L1291.6 2251.1 L1292.6 2251.3 L1293.6 2250.5 L1294.6 2250.7 L1295.6 2250.3 L1296.7 2250.5 L1297.7 2250.8 L1298.7 2251 L1299.7 2249.8 L1300.7 2250 L1301.7 2252.9 L1302.8 2253.1 L1303.8 2252.2 L1304.8 2252.4 L1305.8 2253.7 L1306.8 2253.9 L1307.9 2252.9 L1308.9 2253.2 L1309.9 2254.2 L1310.9 2254.4 L1311.9 2254.6 L1313 2254.9 L1314 2255.9 L1315 2256.1 L1316 2255 L1317 2255.3 L1318 2255.7 L1319.1 2256 L1320.1 2257.4 L1321.1 2257.6 L1322.1 2256.8 L1323.1 2257 L1324.2 2255 L1325.2 2255.2 L1326.2 2258.2 L1327.2 2258.4 L1328.2 2258.1 L1329.3 2258.3 L1330.3 2257.1 L1331.3 2257.3 L1332.3 2259.1 L1333.3 2259.4 L1334.3 2258.2 L1335.4 2258.4 L1336.4 2259.3 L1337.4 2259.5 L1338.4 2260.4 L1339.4 2260.6 L1340.5 2260.4 L1341.5 2260.7 L1342.5 2260.2 L1343.5 2260.4 L1344.5 2262.2 L1345.5 2262.5 L1346.6 2262.9 L1347.6 2263.2 L1348.6 2262.9 L1349.6 2263.2 L1350.6 2262.3 L1351.7 2262.6 L1352.7 2264 L1353.7 2264.3 L1354.7 2264.6 L1355.7 2264.9 L1356.8 2265 L1357.8 2265.2 L1358.8 2265.9 L1359.8 2266.2 L1360.8 2266.1 L1361.8 2266.4 L1362.9 2267.6 L1363.9 2267.9 L1364.9 2267.8 L1365.9 2268.2 L1366.9 2266.3 L1368 2266.6 L1369 2268.2 L1370 2268.5 L1371 2268.9 L1372 2269.2 L1373.1 2269.5 L1374.1 2269.9 L1375.1 2270.6 L1376.1 2271 L1377.1 2272.5 L1378.1 2272.8 L1379.2 2271.3 L1380.2 2271.7 L1381.2 2274 L1382.2 2274.3 L1383.2 2274.2 L1384.3 2274.5 L1385.3 2275.5 L1386.3 2275.9 L1387.3 2274.9 L1388.3 2275.3 L1389.3 2277.4 L1390.4 2277.8 L1391.4 2277.3 L1392.4 2277.7 L1393.4 2277.6 L1394.4 2278 L1395.5 2277.5 L1396.5 2277.9 L1397.5 2279.2 L1398.5 2279.7 L1399.5 2278.3 L1400.6 2278.7 L1401.6 2280.4 L1402.6 2280.8 L1403.6 2280.8 L1404.6 2281.2 L1405.6 2283 L1406.7 2283.5 L1407.7 2283.7 L1408.7 2284.2 L1409.7 2285 L1410.7 2285.5 L1411.8 2286 L1412.8 2286.6 L1413.8 2285.8 L1414.8 2286.4 L1415.8 2288.1 L1416.9 2288.7 L1417.9 2289.4 L1418.9 2290 L1419.9 2291.5 L1420.9 2292.1 L1421.9 2292.1 L1423 2292.7 L1424 2291.4 L1425 2292.1 L1426 2295.4 L1427 2296.1 L1428.1 2295.5 L1429.1 2296.2 L1430.1 2296.2 L1431.1 2296.9 L1432.1 2297.3 L1433.1 2298.1 L1434.2 2299.3 L1435.2 2300.2 L1436.2 2301.8 L1437.2 2302.8 L1438.2 2305.4 L1439.3 2306.4 L1440.3 2305.9 L1441.3 2306.9 L1442.3 2309.3 L1443.3 2310.4 L1444.4 2310.3 L1445.4 2311.4 L1446.4 2312.5 L1447.4 2313.7 L1448.4 2315.4 L1449.4 2316.7 L1450.5 2316.6 L1451.5 2318 L1452.5 2321.5 L1453.5 2323 L1454.5 2323 L1455.6 2324.5 L1456.6 2326.3 L1457.6 2327.9 L1458.6 2329.8 L1459.6 2331.5 L1460.7 2334.4 L1461.7 2336.2 L1462.7 2336.3 L1463.7 2338.2 L1464.7 2340.4 L1465.7 2342.3 L1466.8 2343.1 L1467.8 2345.1 L1468.8 2347.6 L1469.8 2349.9 L1470.8 2354.1 L1471.9 2356.8 L1472.9 2358.3 L1473.9 2361.3 L1474.9 2365.5 L1475.9 2368.8 L1476.9 2370.1 L1478 2373.6 L1479 2377.8 L1480 2381.6 L1481 2387.2 L1482 2391.1 L1483.1 2392.2 L1484.1 2396.2 L1485.1 2402.8 L1486.1 2407 L1487.1 2410.4 L1488.2 2414.6 L1489.2 2419.3 L1490.2 2423.5 L1491.2 2427.7 L1492.2 2431.9 L1493.2 2435.6 L1494.3 2439.9 L1495.3 2443.3 L1496.3 2447.7 L1497.3 2452.8 L1498.3 2457.2 L1499.4 2461.7 L1500.4 2466.3 L1501.4 2470.8 L1502.4 2475.5 L1503.4 2480.4 L1504.5 2485.3 L1505.5 2490.8 L1506.5 2495.8 L1507.5 2499.9 L1508.5 2505.1 L1509.5 2511.7 L1510.6 2517.1 L1511.6 2522.8 L1512.6 2528.4 L1513.6 2532.9 L1514.6 2538.7 L1515.7 2543.9 L1516.7 2549.9 L1517.7 2557.1 L1518.7 2563.6 L1519.7 2571.7 L1520.7 2579.1 L1521.8 2584.5 L1522.8 2592.5 L1523.8 2602 L1524.8 2610.1 L1525.8 2617.6 L1526.9 2625.5 L1527.9 2634.3 L1528.9 2641.6 L1529.9 2647.8 L1530.9 2654.9 L1532 2663.2 L1533 2670.2 L1534 2676 L1535 2682.7 L1536 2689.3 L1537 2695.4 L1538.1 2701.1 L1539.1 2706.4 L1540.1 2711.5 L1541.1 2716.1 L1542.1 2720.3 L1543.2 2724.4 L1544.2 2728.5 L1545.2 2732.4 L1546.2 2734.3 L1547.2 2738 L1548.3 2743 L1549.3 2746.7 L1550.3 2751.6 L1551.3 2755.5 L1552.3 2758.5 L1553.3 2762.3 L1554.4 2766.4 L1555.4 2769.6 L1556.4 2771.1 L1557.4 2773.2 L1558.4 2775.9 L1559.5 2777.7 L1560.5 2779.3 L1561.5 2780.8 L1562.5 2783.7 L1563.5 2784.6 L1564.5 2785.5 L1565.6 2786.1 L1566.6 2785 L1567.6 2785.4 L1568.6 2786.6 L1569.6 2787 L1570.7 2786.1 L1571.7 2786.3 L1572.7 2788.1 L1573.7 2788.1 L1574.7 2785.5 L1575.8 2785.4 L1576.8 2784.6 L1577.8 2784.3 L1578.8 2786.3 L1579.8 2785.9 L1580.8 2786.3 L1581.9 2785.8 L1582.9 2784.9 L1583.9 2784.1 L1584.9 2781.1 L1585.9 2779.3 L1587 2777 L1588 2774.7 L1589 2772.6 L1590 2770 L1591 2767.5 L1592.1 2764.8 L1593.1 2761.8 L1594.1 2758.3 L1595.1 2754.5 L1596.1 2750.7 L1597.1 2745.5 L1598.2 2741.7 L1599.2 2740 L1600.2 2736.4 L1601.2 2732.3 L1602.2 2728.7 L1603.3 2726.8 L1604.3 2722.9 L1605.3 2715.4 L1606.3 2710.8 L1607.3 2708.1 L1608.3 2702.7 L1609.4 2695.4 L1610.4 2688.1 L1611.4 2680.6 L1612.4 2671.5 L1613.4 2661 L1614.5 2650.7 L1615.5 2641.1 L1616.5 2630.1 L1617.5 2617.7 L1618.5 2606.5 L1619.6 2597.4 L1620.6 2586.5 L1621.6 2575.4 L1622.6 2565.3 L1623.6 2555.1 L1624.6 2544.8 L1625.7 2534.1 L1626.7 2523.5 L1627.7 2514.9 L1628.7 2504.1 L1629.7 2489.5 L1630.8 2478.8 L1631.8 2469.7 L1632.8 2459.2 L1633.8 2448.1 L1634.8 2438.1 L1635.8 2429 L1636.9 2419.6 L1637.9 2410.3 L1638.9 2401.8 L1639.9 2392.6 L1640.9 2385.2 L1642 2380.5 L1643 2373.9 L1644 2367.9 L1645 2361.5 L1646 2354.3 L1647.1 2348.1 L1648.1 2341.2 L1649.1 2335.4 L1650.1 2330.4 L1651.1 2325.1 L1652.1 2321.3 L1653.2 2316.5 L1654.2 2311.5 L1655.2 2307.2 L1656.2 2301.9 L1657.2 2298.3 L1658.3 2295.5 L1659.3 2292.6 L1660.3 2291.1 L1661.3 2288.7 L1662.3 2287.1 L1663.4 2284.8 L1664.4 2281.4 L1665.4 2279.2 L1666.4 2276 L1667.4 2274 L1668.4 2272.1 L1669.5 2270.3 L1670.5 2269 L1671.5 2267.5 L1672.5 2266.2 L1673.5 2264.9 L1674.6 2262.8 L1675.6 2261.8 L1676.6 2262.9 L1677.6 2262.1 L1678.6 2259.6 L1679.6 2259.1 L1680.7 2257.8 L1681.7 2257.3 L1682.7 2259.2 L1683.7 2258.7 L1684.7 2257.4 L1685.8 2257 L1686.8 2257 L1687.8 2256.6 L1688.8 2255.3 L1689.8 2254.9 L1690.9 2257.5 L1691.9 2257.1 L1692.9 2254.3 L1693.9 2254 L1694.9 2254.3 L1695.9 2254 L1697 2253.2 L1698 2252.9 L1699 2253.7 L1700 2253.4 L1701 2252.7 L1702.1 2252.4 L1703.1 2252.1 L1704.1 2251.9 L1705.1 2250.5 L1706.1 2250.2 L1707.2 2250.1 L1708.2 2249.9 L1709.2 2249.9 L1710.2 2249.7 L1711.2 2250.4 L1712.2 2250.3 L1713.3 2252 L1714.3 2251.8 L1715.3 2249.6 L1716.3 2249.4 L1717.3 2248.5 L1718.4 2248.3 L1719.4 2248.4 L1720.4 2248.3 L1721.4 2248 L1722.4 2247.9 L1723.4 2248.5 L1724.5 2248.4 L1725.5 2247.3 L1726.5 2247.2 L1727.5 2247.8 L1728.5 2247.8 L1729.6 2248.7 L1730.6 2248.6 L1731.6 2246.7 L1732.6 2246.7 L1733.6 2248.4 L1734.7 2248.3 L1735.7 2247.8 L1736.7 2247.8 L1737.7 2248.9 L1738.7 2248.8 L1739.7 2246 L1740.8 2245.9 L1741.8 2247 L1742.8 2246.9 L1743.8 2246 L1744.8 2245.9 L1745.9 2246 L1746.9 2246 L1747.9 2247.9 L1748.9 2247.8 L1749.9 2247.8 L1751 2247.7 L1752 2246 L1753 2246 L1754 2246.7 L1755 2246.7 L1756 2248.4 L1757.1 2248.3 L1758.1 2245.9 L1759.1 2245.8 L1760.1 2246.9 L1761.1 2246.9 L1762.2 2245.3 L1763.2 2245.2 L1764.2 2244.9 L1765.2 2244.9 L1766.2 2245.1 L1767.2 2245 L1768.3 2244.8 L1769.3 2244.7 L1770.3 2245.2 L1771.3 2245.2 L1772.3 2244.5 L1773.4 2244.5 L1774.4 2245.7 L1775.4 2245.7 L1776.4 2246.2 L1777.4 2246.2 L1778.5 2244 L1779.5 2244 L1780.5 2244.9 L1781.5 2244.9 L1782.5 2244 L1783.5 2244 L1784.6 2245.1 L1785.6 2245 L1786.6 2244.2 L1787.6 2244.1 L1788.6 2243.3 L1789.7 2243.2 L1790.7 2244.5 L1791.7 2244.5 L1792.7 2242.4 L1793.7 2242.3 L1794.8 2244.2 L1795.8 2244.1 L1796.8 2243.6 L1797.8 2243.5 L1798.8 2243.4 L1799.8 2243.4 L1800.9 2244.4 L1801.9 2244.3 L1802.9 2244.9 L1803.9 2244.9 L1804.9 2244.5 L1806 2244.5 L1807 2243.8 L1808 2243.8 L1809 2242.7 L1810 2242.6 L1811 2245.2 L1812.1 2245.1 L1813.1 2243 L1814.1 2243 L1815.1 2243.7 L1816.1 2243.6 L1817.2 2241.9 L1818.2 2241.9 L1819.2 2243.3 L1820.2 2243.3 L1821.2 2243.3 L1822.3 2243.3 L1823.3 2244 L1824.3 2243.9 L1825.3 2243.2 L1826.3 2243.2 L1827.3 2242.1 L1828.4 2242.1 L1829.4 2242.9 L1830.4 2242.9 L1831.4 2242.4 L1832.4 2242.4 L1833.5 2241.8 L1834.5 2241.8 L1835.5 2242.1 L1836.5 2242.1 L1837.5 2244.2 L1838.6 2244.2 L1839.6 2241.2 L1840.6 2241.2 L1841.6 2241.5 L1842.6 2241.5 L1843.6 2242.8 L1844.7 2242.8 L1845.7 2241.5 L1846.7 2241.4 L1847.7 2241.1 L1848.7 2241 L1849.8 2241.6 L1850.8 2241.6 L1851.8 2242.4 L1852.8 2242.4 L1853.8 2241.7 L1854.8 2241.7 L1855.9 2241.1 L1856.9 2241.1 L1857.9 2241.4 L1858.9 2241.4 L1859.9 2242.1 L1861 2242.1 L1862 2241.6 L1863 2241.6 L1864 2241.4 L1865 2241.4 L1866.1 2242.3 L1867.1 2242.3 L1868.1 2241.6 L1869.1 2241.6 L1870.1 2240.4 L1871.1 2240.4 L1872.2 2240.3 L1873.2 2240.2 L1874.2 2241.1 L1875.2 2241.1 L1876.2 2240.2 L1877.3 2240.2 L1878.3 2241 L1879.3 2241 L1880.3 2242.9 L1881.3 2242.9 L1882.4 2241.2 L1883.4 2241.2 L1884.4 2239.8 L1885.4 2239.8 L1886.4 2240.6 L1887.4 2240.6 L1888.5 2242.8 L1889.5 2242.8 L1890.5 2244.3 L1892.5 2244.3 L1894.6 2245.3 L1896.6 2245.4" fill="none" stroke="#2170b6" stroke-width="8" stroke-linejoin="round" stroke-linecap="butt"/>
<path d="M1226.4 2242.4 L1227.4 2242.4 L1228.4 2241.7 L1229.4 2241.8 L1230.4 2242.3 L1231.5 2242.4 L1232.5 2241.7 L1233.5 2241.8 L1234.5 2240.9 L1235.5 2240.9 L1236.6 2241.4 L1237.6 2241.5 L1238.6 2241.7 L1239.6 2241.8 L1240.6 2242.9 L1241.7 2242.9 L1242.7 2243.6 L1243.7 2243.7 L1244.7 2242.2 L1245.7 2242.3 L1246.7 2243.1 L1247.8 2243.2 L1248.8 2242.4 L1249.8 2242.5 L1250.8 2243.8 L1251.8 2243.9 L1252.9 2242.9 L1253.9 2243 L1254.9 2243.7 L1255.9 2243.8 L1256.9 2244.3 L1257.9 2244.4 L1259 2245.8 L1260 2246 L1261 2245.4 L1262 2245.5 L1263 2245.6 L1264.1 2245.8 L1265.1 2246.1 L1266.1 2246.2 L1267.1 2245.1 L1268.1 2245.3 L1269.2 2245.9 L1270.2 2246.1 L1271.2 2245.5 L1272.2 2245.7 L1273.2 2247.1 L1274.2 2247.3 L1275.3 2248.1 L1276.3 2248.3 L1277.3 2248.4 L1278.3 2248.6 L1279.3 2247.8 L1280.4 2248.1 L1281.4 2249.6 L1282.4 2249.8 L1283.4 2250.2 L1284.4 2250.4 L1285.5 2248 L1286.5 2248.3 L1287.5 2250.1 L1288.5 2250.4 L1289.5 2250.2 L1290.5 2250.4 L1291.6 2251.9 L1292.6 2252.2 L1293.6 2249.7 L1294.6 2249.9 L1295.6 2250.9 L1296.7 2251.2 L1297.7 2251.3 L1298.7 2251.6 L1299.7 2253.2 L1300.7 2253.5 L1301.7 2254.4 L1302.8 2254.6 L1303.8 2254.8 L1304.8 2255.1 L1305.8 2255 L1306.8 2255.3 L1307.9 2255.5 L1308.9 2255.8 L1309.9 2257.3 L1310.9 2257.6 L1311.9 2257.2 L1313 2257.5 L1314 2256.1 L1315 2256.4 L1316 2257.1 L1317 2257.4 L1318 2256.1 L1319.1 2256.4 L1320.1 2259.8 L1321.1 2260.1 L1322.1 2259.2 L1323.1 2259.5 L1324.2 2260.7 L1325.2 2261 L1326.2 2260.8 L1327.2 2261.2 L1328.2 2261.7 L1329.3 2262 L1330.3 2260.8 L1331.3 2261.2 L1332.3 2261.2 L1333.3 2261.6 L1334.3 2263.6 L1335.4 2264 L1336.4 2264.5 L1337.4 2265 L1338.4 2265.6 L1339.4 2266.1 L1340.5 2266.7 L1341.5 2267.2 L1342.5 2269.2 L1343.5 2269.7 L1344.5 2268.1 L1345.5 2268.7 L1346.6 2269.8 L1347.6 2270.4 L1348.6 2269.4 L1349.6 2270 L1350.6 2272.6 L1351.7 2273.2 L1352.7 2272.6 L1353.7 2273.2 L1354.7 2275.2 L1355.7 2275.9 L1356.8 2275.8 L1357.8 2276.5 L1358.8 2277.7 L1359.8 2278.4 L1360.8 2280.2 L1361.8 2280.9 L1362.9 2279.3 L1363.9 2280.1 L1364.9 2282 L1365.9 2282.7 L1366.9 2282.9 L1368 2283.7 L1369 2286.5 L1370 2287.3 L1371 2287.4 L1372 2288.3 L1373.1 2288.9 L1374.1 2289.8 L1375.1 2289.7 L1376.1 2290.7 L1377.1 2290.9 L1378.1 2292 L1379.2 2294.9 L1380.2 2295.9 L1381.2 2296.7 L1382.2 2297.8 L1383.2 2297.9 L1384.3 2299.1 L1385.3 2301 L1386.3 2302.3 L1387.3 2303.2 L1388.3 2304.4 L1389.3 2305.8 L1390.4 2307.1 L1391.4 2309.5 L1392.4 2310.8 L1393.4 2310.1 L1394.4 2311.5 L1395.5 2314.2 L1396.5 2315.6 L1397.5 2316.2 L1398.5 2317.6 L1399.5 2319 L1400.6 2320.5 L1401.6 2323.1 L1402.6 2324.5 L1403.6 2325.8 L1404.6 2327.3 L1405.6 2326.7 L1406.7 2328.2 L1407.7 2330.2 L1408.7 2331.7 L1409.7 2334 L1410.7 2335.5 L1411.8 2338 L1412.8 2339.6 L1413.8 2338.6 L1414.8 2340.2 L1415.8 2342.8 L1416.9 2344.5 L1417.9 2346.7 L1418.9 2348.4 L1419.9 2349.8 L1420.9 2351.6 L1421.9 2353.6 L1423 2355.4 L1424 2358 L1425 2359.8 L1426 2361.4 L1427 2363.3 L1428.1 2364.8 L1429.1 2366.8 L1430.1 2368.5 L1431.1 2370.4 L1432.1 2371.4 L1433.1 2373.5 L1434.2 2376.9 L1435.2 2379 L1436.2 2381.6 L1437.2 2383.7 L1438.2 2385.4 L1439.3 2387.6 L1440.3 2390.6 L1441.3 2392.7 L1442.3 2394.3 L1443.3 2396.5 L1444.4 2400.1 L1445.4 2402.3 L1446.4 2401.6 L1447.4 2403.9 L1448.4 2406.8 L1449.4 2409.2 L1450.5 2411.6 L1451.5 2414 L1452.5 2417.8 L1453.5 2420.3 L1454.5 2423.7 L1455.6 2426.2 L1456.6 2427.3 L1457.6 2429.9 L1458.6 2433.4 L1459.6 2436.1 L1460.7 2438.7 L1461.7 2441.4 L1462.7 2445.9 L1463.7 2448.7 L1464.7 2448.1 L1465.7 2450.9 L1466.8 2454.6 L1467.8 2457.5 L1468.8 2460 L1469.8 2462.9 L1470.8 2466.4 L1471.9 2469.3 L1472.9 2470.7 L1473.9 2473.7 L1474.9 2477.6 L1475.9 2480.6 L1476.9 2484.7 L1478 2487.7 L1479 2491.8 L1480 2494.8 L1481 2498 L1482 2501.2 L1483.1 2501 L1484.1 2504.2 L1485.1 2508.9 L1486.1 2512.3 L1487.1 2513.8 L1488.2 2517.3 L1489.2 2521.7 L1490.2 2525.2 L1491.2 2530 L1492.2 2533.5 L1493.2 2536.9 L1494.3 2540.5 L1495.3 2543.1 L1496.3 2546.8 L1497.3 2551.4 L1498.3 2555 L1499.4 2561 L1500.4 2564.7 L1501.4 2565.6 L1502.4 2569.2 L1503.4 2575.7 L1504.5 2579.3 L1505.5 2580.1 L1506.5 2583.7 L1507.5 2587.5 L1508.5 2591 L1509.5 2593.8 L1510.6 2597.2 L1511.6 2601.6 L1512.6 2605.1 L1513.6 2608 L1514.6 2611.6 L1515.7 2615 L1516.7 2618.7 L1517.7 2623.5 L1518.7 2627.2 L1519.7 2629.6 L1520.7 2633.3 L1521.8 2636.7 L1522.8 2640.4 L1523.8 2644.2 L1524.8 2647.7 L1525.8 2652.7 L1526.9 2656.1 L1527.9 2657.6 L1528.9 2660.8 L1529.9 2665.2 L1530.9 2668.2 L1532 2671.4 L1533 2674.1 L1534 2674.1 L1535 2676.4 L1536 2680.1 L1537 2682.1 L1538.1 2684.9 L1539.1 2686.8 L1540.1 2689.3 L1541.1 2691 L1542.1 2691.7 L1543.2 2692.8 L1544.2 2693.9 L1545.2 2694.5 L1546.2 2695 L1547.2 2695.5 L1548.3 2695.3 L1549.3 2695.7 L1550.3 2697.2 L1551.3 2697.5 L1552.3 2697.2 L1553.3 2697.2 L1554.4 2695.2 L1555.4 2695 L1556.4 2696.4 L1557.4 2696.1 L1558.4 2695.3 L1559.5 2694.8 L1560.5 2694.6 L1561.5 2694.1 L1562.5 2693.2 L1563.5 2692.5 L1564.5 2691.5 L1565.6 2690.4 L1566.6 2689 L1567.6 2687.6 L1568.6 2686.7 L1569.6 2685 L1570.7 2682.2 L1571.7 2680.1 L1572.7 2676.5 L1573.7 2672.4 L1574.7 2670.2 L1575.8 2664.6 L1576.8 2657.3 L1577.8 2650.7 L1578.8 2642 L1579.8 2634.9 L1580.8 2629.2 L1581.9 2622.1 L1582.9 2615 L1583.9 2608.5 L1584.9 2601.4 L1585.9 2595.9 L1587 2590.5 L1588 2585.3 L1589 2581.2 L1590 2576.2 L1591 2571.8 L1592.1 2566.9 L1593.1 2560.6 L1594.1 2555.8 L1595.1 2552 L1596.1 2547.2 L1597.1 2541.9 L1598.2 2537.1 L1599.2 2532.2 L1600.2 2527.3 L1601.2 2523.4 L1602.2 2518.5 L1603.3 2512.3 L1604.3 2507.2 L1605.3 2501 L1606.3 2495.7 L1607.3 2491.1 L1608.3 2485.7 L1609.4 2480.8 L1610.4 2475.2 L1611.4 2470.3 L1612.4 2464.6 L1613.4 2458.7 L1614.5 2453 L1615.5 2446.4 L1616.5 2440.8 L1617.5 2435.8 L1618.5 2430.3 L1619.6 2423.4 L1620.6 2418 L1621.6 2413.8 L1622.6 2408.5 L1623.6 2404.9 L1624.6 2399.9 L1625.7 2393.7 L1626.7 2388.9 L1627.7 2384.2 L1628.7 2379.7 L1629.7 2376.2 L1630.8 2371.9 L1631.8 2367.3 L1632.8 2363.1 L1633.8 2358 L1634.8 2353.8 L1635.8 2350 L1636.9 2345.9 L1637.9 2341 L1638.9 2337 L1639.9 2334.4 L1640.9 2330.6 L1642 2326.4 L1643 2322.7 L1644 2318.3 L1645 2314.8 L1646 2312.2 L1647.1 2308.9 L1648.1 2306.3 L1649.1 2303.3 L1650.1 2301.1 L1651.1 2298.3 L1652.1 2294.9 L1653.2 2292.5 L1654.2 2291 L1655.2 2288.7 L1656.2 2283.9 L1657.2 2281.6 L1658.3 2281.7 L1659.3 2279.5 L1660.3 2276.4 L1661.3 2274.3 L1662.3 2272.2 L1663.4 2270.3 L1664.4 2270.4 L1665.4 2268.7 L1666.4 2266.5 L1667.4 2265.1 L1668.4 2264.6 L1669.5 2263.5 L1670.5 2262.4 L1671.5 2261.7 L1672.5 2260.3 L1673.5 2259.8 L1674.6 2259.5 L1675.6 2259.1 L1676.6 2258.9 L1677.6 2258.4 L1678.6 2258.3 L1679.6 2257.9 L1680.7 2256.1 L1681.7 2255.7 L1682.7 2258.5 L1683.7 2258.1 L1684.7 2255.4 L1685.8 2255.1 L1686.8 2255.8 L1687.8 2255.5 L1688.8 2255.9 L1689.8 2255.6 L1690.9 2252.3 L1691.9 2252.1 L1692.9 2251.5 L1693.9 2251.3 L1694.9 2252 L1695.9 2251.8 L1697 2252.9 L1698 2252.6 L1699 2252.6 L1700 2252.3 L1701 2250.1 L1702.1 2249.9 L1703.1 2250.5 L1704.1 2250.3 L1705.1 2252 L1706.1 2251.8 L1707.2 2250.1 L1708.2 2250 L1709.2 2250.1 L1710.2 2249.9 L1711.2 2249.4 L1712.2 2249.2 L1713.3 2251.2 L1714.3 2251.1 L1715.3 2247.4 L1716.3 2247.3 L1717.3 2247.4 L1718.4 2247.3 L1719.4 2247.6 L1720.4 2247.5 L1721.4 2249.5 L1722.4 2249.4 L1723.4 2249 L1724.5 2248.9 L1725.5 2248.8 L1726.5 2248.8 L1727.5 2246.9 L1728.5 2246.8 L1729.6 2247.7 L1730.6 2247.6 L1731.6 2247.1 L1732.6 2247 L1733.6 2248.1 L1734.7 2248 L1735.7 2247.9 L1736.7 2247.8 L1737.7 2247.2 L1738.7 2247.2 L1739.7 2246.9 L1740.8 2246.8 L1741.8 2247.3 L1742.8 2247.2 L1743.8 2247.1 L1744.8 2247.1 L1745.9 2245.4 L1746.9 2245.3 L1747.9 2245.3 L1748.9 2245.3 L1749.9 2245.4 L1751 2245.3 L1752 2246.3 L1753 2246.2 L1754 2247.6 L1755 2247.5 L1756 2246.4 L1757.1 2246.4 L1758.1 2246.3 L1759.1 2246.3 L1760.1 2247.1 L1761.1 2247.1 L1762.2 2247 L1763.2 2247 L1764.2 2246 L1765.2 2245.9 L1766.2 2246.5 L1767.2 2246.5 L1768.3 2245.5 L1769.3 2245.4 L1770.3 2246 L1771.3 2245.9 L1772.3 2247.6 L1773.4 2247.5 L1774.4 2246.4 L1775.4 2246.4 L1776.4 2245.9 L1777.4 2245.8 L1778.5 2245.4 L1779.5 2245.4 L1780.5 2242.8 L1781.5 2242.8 L1782.5 2245 L1783.5 2245 L1784.6 2245.2 L1785.6 2245.2 L1786.6 2246.6 L1787.6 2246.6 L1788.6 2244.5 L1789.7 2244.4 L1790.7 2244.5 L1791.7 2244.4 L1792.7 2246.2 L1793.7 2246.1 L1794.8 2245 L1795.8 2245 L1796.8 2244.5 L1797.8 2244.5 L1798.8 2244.4 L1799.8 2244.4 L1800.9 2244.3 L1801.9 2244.3 L1802.9 2243.9 L1803.9 2243.9 L1804.9 2244.7 L1806 2244.6 L1807 2245.3 L1808 2245.3 L1809 2244 L1810 2243.9 L1811 2244.1 L1812.1 2244.1 L1813.1 2242.4 L1814.1 2242.3 L1815.1 2244.9 L1816.1 2244.9 L1817.2 2243.5 L1818.2 2243.5 L1819.2 2244.7 L1820.2 2244.7 L1821.2 2241.6 L1822.3 2241.5 L1823.3 2244.7 L1824.3 2244.7 L1825.3 2244.3 L1826.3 2244.3 L1827.3 2243.5 L1828.4 2243.4 L1829.4 2243.5 L1830.4 2243.5 L1831.4 2243.3 L1832.4 2243.3 L1833.5 2244.5 L1834.5 2244.5 L1835.5 2243.2 L1836.5 2243.2 L1837.5 2241.3 L1838.6 2241.3 L1839.6 2244.1 L1840.6 2244.1 L1841.6 2243.9 L1842.6 2243.9 L1843.6 2243.5 L1844.7 2243.5 L1845.7 2242.2 L1846.7 2242.1 L1847.7 2242.4 L1848.7 2242.4 L1849.8 2244.6 L1850.8 2244.5 L1851.8 2243.7 L1852.8 2243.7 L1853.8 2243.2 L1854.8 2243.2 L1855.9 2244.3 L1856.9 2244.3 L1857.9 2244.3 L1858.9 2244.3 L1859.9 2240.9 L1861 2240.9 L1862 2243.5 L1863 2243.5 L1864 2241.9 L1865 2241.9 L1866.1 2241.8 L1867.1 2241.8 L1868.1 2243.2 L1869.1 2243.2 L1870.1 2242.6 L1871.1 2242.6 L1872.2 2243.5 L1873.2 2243.5 L1874.2 2243.5 L1875.2 2243.5 L1876.2 2241.5 L1877.3 2241.5 L1878.3 2241.8 L1879.3 2241.8 L1880.3 2243.8 L1881.3 2243.8 L1882.4 2242.1 L1883.4 2242.1 L1884.4 2243.7 L1885.4 2243.7 L1886.4 2243.6 L1887.4 2243.6 L1888.5 2243.6 L1889.5 2243.6 L1890.5 2244.2 L1892.5 2244.2 L1894.6 2243.6 L1896.6 2243.6" fill="none" stroke="#ee5624" stroke-width="8" stroke-linejoin="round" stroke-linecap="butt"/>
<path d="M1226.4 2251.3 L1227.4 2251.2 L1228.4 2245.8 L1229.4 2245.8 L1230.4 2247.4 L1231.5 2247.5 L1232.5 2250.7 L1233.5 2250.8 L1234.5 2248.8 L1235.5 2248.9 L1236.6 2254.1 L1237.6 2254.1 L1238.6 2249.3 L1239.6 2249.4 L1240.6 2250.8 L1241.7 2250.9 L1242.7 2253.1 L1243.7 2253.1 L1244.7 2248.1 L1245.7 2248.2 L1246.7 2251 L1247.8 2251.1 L1248.8 2251.6 L1249.8 2251.7 L1250.8 2250.5 L1251.8 2250.5 L1252.9 2253.2 L1253.9 2253.2 L1254.9 2252.8 L1255.9 2252.8 L1256.9 2250.2 L1257.9 2250.3 L1259 2247.3 L1260 2247.4 L1261 2248.5 L1262 2248.6 L1263 2251.2 L1264.1 2251.2 L1265.1 2250.3 L1266.1 2250.3 L1267.1 2251.7 L1268.1 2251.8 L1269.2 2251.4 L1270.2 2251.5 L1271.2 2254.3 L1272.2 2254.4 L1273.2 2252.2 L1274.2 2252.3 L1275.3 2249.2 L1276.3 2249.3 L1277.3 2249.6 L1278.3 2249.6 L1279.3 2252.7 L1280.4 2252.8 L1281.4 2250.7 L1282.4 2250.8 L1283.4 2253.5 L1284.4 2253.6 L1285.5 2251.7 L1286.5 2251.8 L1287.5 2256.5 L1288.5 2256.6 L1289.5 2250.7 L1290.5 2250.8 L1291.6 2253.1 L1292.6 2253.2 L1293.6 2259.4 L1294.6 2259.5 L1295.6 2255.7 L1296.7 2255.8 L1297.7 2250.2 L1298.7 2250.3 L1299.7 2253.3 L1300.7 2253.4 L1301.7 2254.5 L1302.8 2254.7 L1303.8 2251.6 L1304.8 2251.7 L1305.8 2254.2 L1306.8 2254.3 L1307.9 2255.5 L1308.9 2255.6 L1309.9 2256.2 L1310.9 2256.3 L1311.9 2254.7 L1313 2254.8 L1314 2258.6 L1315 2258.7 L1316 2254.9 L1317 2255 L1318 2253 L1319.1 2253.1 L1320.1 2250.6 L1321.1 2250.8 L1322.1 2259.6 L1323.1 2259.7 L1324.2 2255 L1325.2 2255.1 L1326.2 2257.8 L1327.2 2258 L1328.2 2257.1 L1329.3 2257.3 L1330.3 2255 L1331.3 2255.1 L1332.3 2258.3 L1333.3 2258.4 L1334.3 2254.9 L1335.4 2255.1 L1336.4 2261 L1337.4 2261.1 L1338.4 2257.5 L1339.4 2257.7 L1340.5 2263 L1341.5 2263.1 L1342.5 2262.3 L1343.5 2262.4 L1344.5 2253.2 L1345.5 2253.3 L1346.6 2259.9 L1347.6 2260 L1348.6 2257.9 L1349.6 2258.1 L1350.6 2263.9 L1351.7 2264 L1352.7 2261.1 L1353.7 2261.2 L1354.7 2259.3 L1355.7 2259.4 L1356.8 2257.2 L1357.8 2257.4 L1358.8 2261.1 L1359.8 2261.3 L1360.8 2260.3 L1361.8 2260.5 L1362.9 2263.7 L1363.9 2263.9 L1364.9 2263.8 L1365.9 2264 L1366.9 2263.9 L1368 2264.2 L1369 2262.3 L1370 2262.5 L1371 2265.6 L1372 2265.9 L1373.1 2264.3 L1374.1 2264.6 L1375.1 2265.3 L1376.1 2265.5 L1377.1 2269.2 L1378.1 2269.5 L1379.2 2263.4 L1380.2 2263.7 L1381.2 2263 L1382.2 2263.3 L1383.2 2266.1 L1384.3 2266.5 L1385.3 2269.1 L1386.3 2269.6 L1387.3 2273 L1388.3 2273.5 L1389.3 2268.8 L1390.4 2269.3 L1391.4 2269.5 L1392.4 2270.1 L1393.4 2269.4 L1394.4 2270 L1395.5 2272.5 L1396.5 2273.1 L1397.5 2275 L1398.5 2275.8 L1399.5 2275.1 L1400.6 2275.9 L1401.6 2275.5 L1402.6 2276.3 L1403.6 2274.6 L1404.6 2275.4 L1405.6 2280.8 L1406.7 2281.6 L1407.7 2285 L1408.7 2285.8 L1409.7 2284.7 L1410.7 2285.6 L1411.8 2286.9 L1412.8 2287.7 L1413.8 2287.8 L1414.8 2288.6 L1415.8 2290.5 L1416.9 2291.4 L1417.9 2294.1 L1418.9 2295 L1419.9 2290.6 L1420.9 2291.4 L1421.9 2299.4 L1423 2300.3 L1424 2289.2 L1425 2290.1 L1426 2297.6 L1427 2298.5 L1428.1 2298.1 L1429.1 2299.1 L1430.1 2302.5 L1431.1 2303.6 L1432.1 2306.8 L1433.1 2307.9 L1434.2 2309.4 L1435.2 2310.5 L1436.2 2310 L1437.2 2311.2 L1438.2 2313.5 L1439.3 2314.7 L1440.3 2312.9 L1441.3 2314.2 L1442.3 2317.6 L1443.3 2318.9 L1444.4 2319.2 L1445.4 2320.6 L1446.4 2321.3 L1447.4 2322.7 L1448.4 2320.7 L1449.4 2322.1 L1450.5 2325.9 L1451.5 2327.4 L1452.5 2328.4 L1453.5 2330 L1454.5 2332.6 L1455.6 2334.3 L1456.6 2336.3 L1457.6 2338.1 L1458.6 2338.4 L1459.6 2340.3 L1460.7 2340.4 L1461.7 2342.5 L1462.7 2346.1 L1463.7 2348.4 L1464.7 2352.6 L1465.7 2355 L1466.8 2356.2 L1467.8 2358.7 L1468.8 2358.6 L1469.8 2361.3 L1470.8 2364.8 L1471.9 2367.6 L1472.9 2368.7 L1473.9 2371.6 L1474.9 2380 L1475.9 2383 L1476.9 2385.7 L1478 2388.7 L1479 2395.4 L1480 2398.5 L1481 2395.8 L1482 2399.1 L1483.1 2408.9 L1484.1 2412.5 L1485.1 2410.9 L1486.1 2414.7 L1487.1 2417.1 L1488.2 2421.1 L1489.2 2424.7 L1490.2 2428.9 L1491.2 2437.5 L1492.2 2441.8 L1493.2 2445.2 L1494.3 2449.6 L1495.3 2453.4 L1496.3 2457.9 L1497.3 2462.5 L1498.3 2466.9 L1499.4 2473 L1500.4 2477.4 L1501.4 2478.5 L1502.4 2482.8 L1503.4 2486.1 L1504.5 2490.4 L1505.5 2497.5 L1506.5 2501.7 L1507.5 2512.2 L1508.5 2516.5 L1509.5 2512.1 L1510.6 2516.4 L1511.6 2519.2 L1512.6 2523.5 L1513.6 2527.8 L1514.6 2532.2 L1515.7 2542.3 L1516.7 2546.6 L1517.7 2549.2 L1518.7 2553.6 L1519.7 2560.6 L1520.7 2564.9 L1521.8 2563.6 L1522.8 2567.9 L1523.8 2571.2 L1524.8 2575.5 L1525.8 2583.8 L1526.9 2588 L1527.9 2590.9 L1528.9 2595 L1529.9 2595.2 L1530.9 2599.2 L1532 2607.2 L1533 2611.5 L1534 2618 L1535 2622.3 L1536 2623.1 L1537 2627.3 L1538.1 2632.9 L1539.1 2637 L1540.1 2642.2 L1541.1 2646.1 L1542.1 2648.2 L1543.2 2651.9 L1544.2 2654 L1545.2 2657.3 L1546.2 2662.1 L1547.2 2665 L1548.3 2665.3 L1549.3 2667.6 L1550.3 2672.9 L1551.3 2675 L1552.3 2677.6 L1553.3 2679.4 L1554.4 2676.5 L1555.4 2678.2 L1556.4 2684.2 L1557.4 2685.8 L1558.4 2685.4 L1559.5 2687.1 L1560.5 2690.9 L1561.5 2692.5 L1562.5 2696 L1563.5 2697.4 L1564.5 2698 L1565.6 2699.1 L1566.6 2700.1 L1567.6 2700.7 L1568.6 2696.1 L1569.6 2696.6 L1570.7 2703.5 L1571.7 2704 L1572.7 2702.2 L1573.7 2702.6 L1574.7 2702.7 L1575.8 2703 L1576.8 2705.3 L1577.8 2705.5 L1578.8 2702.7 L1579.8 2702.8 L1580.8 2703.2 L1581.9 2703.1 L1582.9 2705.1 L1583.9 2704.9 L1584.9 2705.2 L1585.9 2704.8 L1587 2700.9 L1588 2700.5 L1589 2705 L1590 2704.5 L1591 2693.7 L1592.1 2693.1 L1593.1 2695.8 L1594.1 2694.6 L1595.1 2699 L1596.1 2696.9 L1597.1 2693.1 L1598.2 2690.2 L1599.2 2688.6 L1600.2 2685.2 L1601.2 2682.9 L1602.2 2677 L1603.3 2661 L1604.3 2653.4 L1605.3 2649.4 L1606.3 2641.8 L1607.3 2634.4 L1608.3 2626.6 L1609.4 2617.6 L1610.4 2609.3 L1611.4 2602.4 L1612.4 2593.8 L1613.4 2581.9 L1614.5 2573.1 L1615.5 2567.7 L1616.5 2559 L1617.5 2549.2 L1618.5 2540.7 L1619.6 2532.6 L1620.6 2524.4 L1621.6 2517.1 L1622.6 2509.5 L1623.6 2500.1 L1624.6 2492.7 L1625.7 2484.9 L1626.7 2477.7 L1627.7 2475 L1628.7 2467.9 L1629.7 2453.1 L1630.8 2446.2 L1631.8 2440.5 L1632.8 2433.7 L1633.8 2433.5 L1634.8 2426.9 L1635.8 2413.6 L1636.9 2407.3 L1637.9 2406.1 L1638.9 2400 L1639.9 2392.7 L1640.9 2386.7 L1642 2379.4 L1643 2373.5 L1644 2369.1 L1645 2363.1 L1646 2358 L1647.1 2351.9 L1648.1 2342.6 L1649.1 2336.8 L1650.1 2333.1 L1651.1 2327.5 L1652.1 2319.8 L1653.2 2314.7 L1654.2 2309.3 L1655.2 2304.8 L1656.2 2300.4 L1657.2 2296.6 L1658.3 2297.6 L1659.3 2294.6 L1660.3 2292.5 L1661.3 2290.2 L1662.3 2285 L1663.4 2282.9 L1664.4 2284.5 L1665.4 2282.5 L1666.4 2274.8 L1667.4 2272.9 L1668.4 2275.3 L1669.5 2273.6 L1670.5 2272.2 L1671.5 2270.6 L1672.5 2262.4 L1673.5 2261 L1674.6 2262.3 L1675.6 2261 L1676.6 2258.9 L1677.6 2257.8 L1678.6 2261 L1679.6 2259.9 L1680.7 2259.6 L1681.7 2258.6 L1682.7 2257.1 L1683.7 2256.2 L1684.7 2252.8 L1685.8 2251.9 L1686.8 2254.3 L1687.8 2253.5 L1688.8 2248.1 L1689.8 2247.3 L1690.9 2250.9 L1691.9 2250.1 L1692.9 2251.6 L1693.9 2250.9 L1694.9 2245.1 L1695.9 2244.5 L1697 2245.3 L1698 2244.8 L1699 2247.9 L1700 2247.6 L1701 2246.5 L1702.1 2246.3 L1703.1 2240.5 L1704.1 2240.5 L1705.1 2242.1 L1706.1 2242.2 L1707.2 2241.5 L1708.2 2241.7 L1709.2 2245 L1710.2 2245.3 L1711.2 2244.7 L1712.2 2245.1 L1713.3 2247.1 L1714.3 2247.5 L1715.3 2244.7 L1716.3 2245.1 L1717.3 2246.6 L1718.4 2247 L1719.4 2252.5 L1720.4 2252.9 L1721.4 2247.7 L1722.4 2248.1 L1723.4 2253.2 L1724.5 2253.5 L1725.5 2249.6 L1726.5 2249.7 L1727.5 2246.5 L1728.5 2246.5 L1729.6 2248.8 L1730.6 2248.8 L1731.6 2254.3 L1732.6 2254.2 L1733.6 2249.1 L1734.7 2249.1 L1735.7 2252.1 L1736.7 2252.1 L1737.7 2254.1 L1738.7 2254 L1739.7 2252.9 L1740.8 2252.9 L1741.8 2251.4 L1742.8 2251.4 L1743.8 2252.1 L1744.8 2252 L1745.9 2251.6 L1746.9 2251.6 L1747.9 2252.2 L1748.9 2252.2 L1749.9 2250.7 L1751 2250.7 L1752 2250.9 L1753 2250.9 L1754 2249.7 L1755 2249.7 L1756 2248.9 L1757.1 2248.9 L1758.1 2254.4 L1759.1 2254.4 L1760.1 2251.5 L1761.1 2251.4 L1762.2 2251.7 L1763.2 2251.7 L1764.2 2251.2 L1765.2 2251.1 L1766.2 2255.1 L1767.2 2255.1 L1768.3 2250.2 L1769.3 2250.2 L1770.3 2251 L1771.3 2251 L1772.3 2248.4 L1773.4 2248.4 L1774.4 2251.9 L1775.4 2251.9 L1776.4 2251.7 L1777.4 2251.6 L1778.5 2251.4 L1779.5 2251.4 L1780.5 2244.8 L1781.5 2244.8 L1782.5 2254.5 L1783.5 2254.5 L1784.6 2251.8 L1785.6 2251.8 L1786.6 2248.2 L1787.6 2248.2 L1788.6 2250.3 L1789.7 2250.3 L1790.7 2248.3 L1791.7 2248.3 L1792.7 2245.1 L1793.7 2245.1 L1794.8 2252 L1795.8 2252 L1796.8 2248.1 L1797.8 2248.1 L1798.8 2248 L1799.8 2248 L1800.9 2250.5 L1801.9 2250.5 L1802.9 2250.1 L1803.9 2250.1 L1804.9 2249.3 L1806 2249.3 L1807 2255 L1808 2255 L1809 2249.2 L1810 2249.2 L1811 2248.3 L1812.1 2248.3 L1813.1 2246.9 L1814.1 2246.9 L1815.1 2247.5 L1816.1 2247.5 L1817.2 2249 L1818.2 2249 L1819.2 2249.9 L1820.2 2249.9 L1821.2 2251.1 L1822.3 2251.1 L1823.3 2250.9 L1824.3 2250.9 L1825.3 2249.9 L1826.3 2249.9 L1827.3 2251.6 L1828.4 2251.6 L1829.4 2249.9 L1830.4 2249.9 L1831.4 2253.1 L1832.4 2253.1 L1833.5 2250.1 L1834.5 2250.1 L1835.5 2249.8 L1836.5 2249.8 L1837.5 2246.7 L1838.6 2246.7 L1839.6 2247.5 L1840.6 2247.5 L1841.6 2248 L1842.6 2248 L1843.6 2248 L1844.7 2248 L1845.7 2246 L1846.7 2246 L1847.7 2249.9 L1848.7 2249.9 L1849.8 2248.5 L1850.8 2248.4 L1851.8 2248.5 L1852.8 2248.5 L1853.8 2250.4 L1854.8 2250.3 L1855.9 2245.4 L1856.9 2245.4 L1857.9 2249.4 L1858.9 2249.4 L1859.9 2249.3 L1861 2249.2 L1862 2243.6 L1863 2243.6 L1864 2247.9 L1865 2247.9 L1866.1 2249 L1867.1 2248.9 L1868.1 2246.6 L1869.1 2246.5 L1870.1 2251 L1871.1 2250.9 L1872.2 2249.2 L1873.2 2249.2 L1874.2 2250.6 L1875.2 2250.5 L1876.2 2248.4 L1877.3 2248.4 L1878.3 2251.6 L1879.3 2251.6 L1880.3 2247.5 L1881.3 2247.5 L1882.4 2253.1 L1883.4 2253.1 L1884.4 2247.7 L1885.4 2247.7 L1886.4 2250 L1887.4 2250 L1888.5 2246.3 L1889.5 2246.3 L1890.5 2255.6 L1892.5 2255.7 L1894.6 2253.1 L1896.6 2253.2" fill="none" stroke="#fcad17" stroke-width="8" stroke-linejoin="round" stroke-linecap="butt"/>
<path d="M1226.4 2241.8 L1227.4 2241.8 L1228.4 2240.6 L1229.4 2240.6 L1230.4 2239.9 L1231.5 2239.9 L1232.5 2239.6 L1233.5 2239.6 L1234.5 2241 L1235.5 2241.1 L1236.6 2241.5 L1237.6 2241.5 L1238.6 2239.6 L1239.6 2239.7 L1240.6 2240.5 L1241.7 2240.6 L1242.7 2241.4 L1243.7 2241.5 L1244.7 2242.6 L1245.7 2242.7 L1246.7 2243.7 L1247.8 2243.8 L1248.8 2242.4 L1249.8 2242.5 L1250.8 2241.6 L1251.8 2241.8 L1252.9 2242.7 L1253.9 2242.8 L1254.9 2244.2 L1255.9 2244.3 L1256.9 2242 L1257.9 2242.1 L1259 2244 L1260 2244.1 L1261 2244.6 L1262 2244.8 L1263 2244.4 L1264.1 2244.6 L1265.1 2244.4 L1266.1 2244.6 L1267.1 2244.2 L1268.1 2244.4 L1269.2 2245.8 L1270.2 2246 L1271.2 2245.8 L1272.2 2246 L1273.2 2246 L1274.2 2246.2 L1275.3 2244.9 L1276.3 2245.1 L1277.3 2247.3 L1278.3 2247.5 L1279.3 2246.9 L1280.4 2247.2 L1281.4 2248.7 L1282.4 2248.9 L1283.4 2247.8 L1284.4 2248.1 L1285.5 2247.7 L1286.5 2248 L1287.5 2248.6 L1288.5 2248.9 L1289.5 2250.1 L1290.5 2250.4 L1291.6 2250.2 L1292.6 2250.4 L1293.6 2251.2 L1294.6 2251.4 L1295.6 2252.1 L1296.7 2252.4 L1297.7 2251.4 L1298.7 2251.8 L1299.7 2251.5 L1300.7 2251.9 L1301.7 2253.7 L1302.8 2254.1 L1303.8 2254.8 L1304.8 2255.3 L1305.8 2254.8 L1306.8 2255.3 L1307.9 2257.3 L1308.9 2257.9 L1309.9 2257 L1310.9 2257.6 L1311.9 2258.8 L1313 2259.4 L1314 2259.6 L1315 2260.2 L1316 2259 L1317 2259.6 L1318 2260.5 L1319.1 2261.1 L1320.1 2264.1 L1321.1 2264.7 L1322.1 2265.4 L1323.1 2266 L1324.2 2265.5 L1325.2 2266.1 L1326.2 2267.9 L1327.2 2268.6 L1328.2 2268.2 L1329.3 2268.9 L1330.3 2269.9 L1331.3 2270.5 L1332.3 2270.5 L1333.3 2271.2 L1334.3 2273.2 L1335.4 2274 L1336.4 2274.6 L1337.4 2275.4 L1338.4 2275 L1339.4 2275.8 L1340.5 2276.4 L1341.5 2277.2 L1342.5 2279.6 L1343.5 2280.4 L1344.5 2282.1 L1345.5 2282.9 L1346.6 2282.2 L1347.6 2283.1 L1348.6 2284.1 L1349.6 2285 L1350.6 2286.9 L1351.7 2287.9 L1352.7 2288.3 L1353.7 2289.3 L1354.7 2288.8 L1355.7 2289.8 L1356.8 2291 L1357.8 2292.1 L1358.8 2292.7 L1359.8 2293.8 L1360.8 2297.4 L1361.8 2298.7 L1362.9 2299.3 L1363.9 2300.6 L1364.9 2303 L1365.9 2304.4 L1366.9 2304 L1368 2305.4 L1369 2309.6 L1370 2311.1 L1371 2311 L1372 2312.6 L1373.1 2314.5 L1374.1 2316.2 L1375.1 2316.8 L1376.1 2318.6 L1377.1 2320.3 L1378.1 2322.2 L1379.2 2323.8 L1380.2 2325.7 L1381.2 2330.2 L1382.2 2332.3 L1383.2 2332.2 L1384.3 2334.5 L1385.3 2336.4 L1386.3 2338.9 L1387.3 2342.1 L1388.3 2344.8 L1389.3 2348.2 L1390.4 2351.1 L1391.4 2354.9 L1392.4 2358 L1393.4 2360 L1394.4 2363.1 L1395.5 2367.1 L1396.5 2370.3 L1397.5 2373.9 L1398.5 2377.2 L1399.5 2380.9 L1400.6 2384.3 L1401.6 2388.2 L1402.6 2391.6 L1403.6 2393.1 L1404.6 2396.6 L1405.6 2401.1 L1406.7 2404.6 L1407.7 2409.1 L1408.7 2412.9 L1409.7 2415.6 L1410.7 2419.6 L1411.8 2423.9 L1412.8 2428 L1413.8 2431.8 L1414.8 2436.1 L1415.8 2442.3 L1416.9 2446.6 L1417.9 2449.5 L1418.9 2453.9 L1419.9 2458.1 L1420.9 2462.4 L1421.9 2465.8 L1423 2470.1 L1424 2476.3 L1425 2480.5 L1426 2483.5 L1427 2487.6 L1428.1 2491.5 L1429.1 2495.5 L1430.1 2498.6 L1431.1 2502.5 L1432.1 2505.5 L1433.1 2509.4 L1434.2 2516.2 L1435.2 2520.1 L1436.2 2522.3 L1437.2 2526.3 L1438.2 2530.1 L1439.3 2534.2 L1440.3 2539.6 L1441.3 2543.9 L1442.3 2548.3 L1443.3 2552.8 L1444.4 2555.9 L1445.4 2560.6 L1446.4 2566.8 L1447.4 2571.7 L1448.4 2577.2 L1449.4 2582.4 L1450.5 2588.1 L1451.5 2594.1 L1452.5 2600 L1453.5 2606.7 L1454.5 2615.4 L1455.6 2622.5 L1456.6 2626.6 L1457.6 2633.9 L1458.6 2642.8 L1459.6 2650 L1460.7 2657.9 L1461.7 2664.6 L1462.7 2670 L1463.7 2676 L1464.7 2682.1 L1465.7 2687.4 L1466.8 2690.8 L1467.8 2696 L1468.8 2702.5 L1469.8 2707.5 L1470.8 2711.6 L1471.9 2716.3 L1472.9 2720.3 L1473.9 2724.6 L1474.9 2730.5 L1475.9 2734.3 L1476.9 2735.8 L1478 2739 L1479 2744 L1480 2746.5 L1481 2748.5 L1482 2751 L1483.1 2752.9 L1484.1 2755.1 L1485.1 2756.3 L1486.1 2758 L1487.1 2760.7 L1488.2 2761.8 L1489.2 2761.8 L1490.2 2762.4 L1491.2 2762.9 L1492.2 2763.4 L1493.2 2764 L1494.3 2764.5 L1495.3 2764.2 L1496.3 2764.6 L1497.3 2766.6 L1498.3 2766.9 L1499.4 2766.7 L1500.4 2766.8 L1501.4 2766.3 L1502.4 2766.3 L1503.4 2766 L1504.5 2765.8 L1505.5 2766.5 L1506.5 2766.3 L1507.5 2765.1 L1508.5 2764.7 L1509.5 2764 L1510.6 2763.5 L1511.6 2764.9 L1512.6 2764.3 L1513.6 2762 L1514.6 2761.2 L1515.7 2759.3 L1516.7 2757.4 L1517.7 2756.8 L1518.7 2754.2 L1519.7 2750.8 L1520.7 2747.7 L1521.8 2746.4 L1522.8 2743.3 L1523.8 2737.6 L1524.8 2734.1 L1525.8 2731 L1526.9 2727.1 L1527.9 2723.6 L1528.9 2719.2 L1529.9 2712.1 L1530.9 2707.4 L1532 2703.7 L1533 2698.8 L1534 2696 L1535 2690.9 L1536 2684 L1537 2678.7 L1538.1 2674.2 L1539.1 2668.4 L1540.1 2661.6 L1541.1 2655.4 L1542.1 2649.4 L1543.2 2642.9 L1544.2 2635.5 L1545.2 2628.9 L1546.2 2621.3 L1547.2 2614.6 L1548.3 2609.7 L1549.3 2602.8 L1550.3 2595.8 L1551.3 2588.6 L1552.3 2579 L1553.3 2571.6 L1554.4 2564.5 L1555.4 2557 L1556.4 2550 L1557.4 2542.6 L1558.4 2534.8 L1559.5 2527.5 L1560.5 2520.8 L1561.5 2513.6 L1562.5 2507.4 L1563.5 2500.5 L1564.5 2492.8 L1565.6 2486.1 L1566.6 2480.8 L1567.6 2474.5 L1568.6 2468.1 L1569.6 2461.8 L1570.7 2454.2 L1571.7 2447.9 L1572.7 2443 L1573.7 2436.7 L1574.7 2431.4 L1575.8 2425.2 L1576.8 2418.5 L1577.8 2412.4 L1578.8 2405.4 L1579.8 2399.5 L1580.8 2394.9 L1581.9 2389.3 L1582.9 2382.5 L1583.9 2377.1 L1584.9 2373.1 L1585.9 2368.1 L1587 2362.8 L1588 2358 L1589 2353 L1590 2348.7 L1591 2344 L1592.1 2340.1 L1593.1 2337 L1594.1 2333.3 L1595.1 2330.3 L1596.1 2326.6 L1597.1 2323.1 L1598.2 2319.6 L1599.2 2315.9 L1600.2 2312.5 L1601.2 2307.8 L1602.2 2304.6 L1603.3 2303.5 L1604.3 2300.4 L1605.3 2295.5 L1606.3 2292.7 L1607.3 2291.2 L1608.3 2288.6 L1609.4 2285.6 L1610.4 2283.3 L1611.4 2281.6 L1612.4 2279.6 L1613.4 2276 L1614.5 2274.4 L1615.5 2274.1 L1616.5 2272.9 L1617.5 2271 L1618.5 2269.8 L1619.6 2269.2 L1620.6 2268.2 L1621.6 2267 L1622.6 2266 L1623.6 2264.9 L1624.6 2263.9 L1625.7 2261.8 L1626.7 2260.9 L1627.7 2261 L1628.7 2260.1 L1629.7 2260 L1630.8 2259.3 L1631.8 2257.8 L1632.8 2257.1 L1633.8 2256 L1634.8 2255.5 L1635.8 2255.5 L1636.9 2255.1 L1637.9 2255.1 L1638.9 2254.8 L1639.9 2254.3 L1640.9 2254 L1642 2252.9 L1643 2252.7 L1644 2253.3 L1645 2253.1 L1646 2252.8 L1647.1 2252.6 L1648.1 2251.6 L1649.1 2251.4 L1650.1 2252.8 L1651.1 2252.6 L1652.1 2252.5 L1653.2 2252.3 L1654.2 2251.6 L1655.2 2251.4 L1656.2 2251.1 L1657.2 2251 L1658.3 2251.5 L1659.3 2251.3 L1660.3 2250.7 L1661.3 2250.5 L1662.3 2250.2 L1663.4 2250 L1664.4 2249.4 L1665.4 2249.2 L1666.4 2249.7 L1667.4 2249.6 L1668.4 2248.9 L1669.5 2248.8 L1670.5 2249 L1671.5 2248.9 L1672.5 2248.6 L1673.5 2248.5 L1674.6 2249 L1675.6 2248.9 L1676.6 2248.8 L1677.6 2248.7 L1678.6 2248.3 L1679.6 2248.2 L1680.7 2246.9 L1681.7 2246.8 L1682.7 2249.5 L1683.7 2249.4 L1684.7 2247.2 L1685.8 2247.1 L1686.8 2247.2 L1687.8 2247.1 L1688.8 2247.9 L1689.8 2247.9 L1690.9 2248 L1691.9 2247.9 L1692.9 2247.6 L1693.9 2247.5 L1694.9 2247 L1695.9 2246.9 L1697 2247.2 L1698 2247.1 L1699 2246.8 L1700 2246.7 L1701 2245.4 L1702.1 2245.3 L1703.1 2245.4 L1704.1 2245.3 L1705.1 2244.8 L1706.1 2244.7 L1707.2 2246.7 L1708.2 2246.7 L1709.2 2246.1 L1710.2 2246.1 L1711.2 2244.7 L1712.2 2244.7 L1713.3 2245.8 L1714.3 2245.7 L1715.3 2245.5 L1716.3 2245.4 L1717.3 2245.6 L1718.4 2245.6 L1719.4 2246.1 L1720.4 2246.1 L1721.4 2246.3 L1722.4 2246.2 L1723.4 2246.1 L1724.5 2246.1 L1725.5 2244.6 L1726.5 2244.5 L1727.5 2246.5 L1728.5 2246.5 L1729.6 2245.8 L1730.6 2245.7 L1731.6 2245.6 L1732.6 2245.6 L1733.6 2245.2 L1734.7 2245.2 L1735.7 2244.6 L1736.7 2244.6 L1737.7 2244 L1738.7 2244 L1739.7 2243.4 L1740.8 2243.4 L1741.8 2243.2 L1742.8 2243.1 L1743.8 2246 L1744.8 2246 L1745.9 2242.9 L1746.9 2242.9 L1747.9 2244.1 L1748.9 2244 L1749.9 2244.4 L1751 2244.4 L1752 2243.7 L1753 2243.6 L1754 2244.2 L1755 2244.1 L1756 2243.8 L1757.1 2243.7 L1758.1 2244 L1759.1 2243.9 L1760.1 2243.3 L1761.1 2243.3 L1762.2 2242.9 L1763.2 2242.9 L1764.2 2243.9 L1765.2 2243.9 L1766.2 2243.8 L1767.2 2243.8 L1768.3 2243 L1769.3 2243 L1770.3 2244.2 L1771.3 2244.2 L1772.3 2243.7 L1773.4 2243.7 L1774.4 2244.3 L1775.4 2244.3 L1776.4 2244.9 L1777.4 2244.9 L1778.5 2244.6 L1779.5 2244.5 L1780.5 2244.4 L1781.5 2244.3 L1782.5 2243.8 L1783.5 2243.8 L1784.6 2243.9 L1785.6 2243.9 L1786.6 2242.6 L1787.6 2242.6 L1788.6 2244.2 L1789.7 2244.2 L1790.7 2243.2 L1791.7 2243.2 L1792.7 2242.5 L1793.7 2242.5 L1794.8 2242.6 L1795.8 2242.6 L1796.8 2242.9 L1797.8 2242.8 L1798.8 2242.1 L1799.8 2242.1 L1800.9 2242.3 L1801.9 2242.3 L1802.9 2243.3 L1803.9 2243.2 L1804.9 2243.1 L1806 2243.1 L1807 2243.1 L1808 2243.1 L1809 2243.6 L1810 2243.5 L1811 2241.7 L1812.1 2241.7 L1813.1 2242.5 L1814.1 2242.5 L1815.1 2242.7 L1816.1 2242.7 L1817.2 2242 L1818.2 2242 L1819.2 2241.8 L1820.2 2241.7 L1821.2 2241.8 L1822.3 2241.8 L1823.3 2242.5 L1824.3 2242.5 L1825.3 2241.9 L1826.3 2241.9 L1827.3 2241.9 L1828.4 2241.9 L1829.4 2242.2 L1830.4 2242.2 L1831.4 2241.4 L1832.4 2241.4 L1833.5 2242.2 L1834.5 2242.2 L1835.5 2242.4 L1836.5 2242.4 L1837.5 2241.2 L1838.6 2241.2 L1839.6 2241 L1840.6 2241 L1841.6 2243.3 L1842.6 2243.3 L1843.6 2242.6 L1844.7 2242.6 L1845.7 2243.1 L1846.7 2243.1 L1847.7 2240.7 L1848.7 2240.7 L1849.8 2242.3 L1850.8 2242.3 L1851.8 2242.8 L1852.8 2242.8 L1853.8 2242.2 L1854.8 2242.2 L1855.9 2242.5 L1856.9 2242.5 L1857.9 2241.5 L1858.9 2241.5 L1859.9 2241.5 L1861 2241.5 L1862 2241.9 L1863 2241.9 L1864 2243.4 L1865 2243.4 L1866.1 2242.3 L1867.1 2242.3 L1868.1 2242.4 L1869.1 2242.4 L1870.1 2241.1 L1871.1 2241.1 L1872.2 2241.1 L1873.2 2241.1 L1874.2 2242.5 L1875.2 2242.5 L1876.2 2242.3 L1877.3 2242.3 L1878.3 2242.2 L1879.3 2242.2 L1880.3 2240.5 L1881.3 2240.5 L1882.4 2243.3 L1883.4 2243.3 L1884.4 2241.7 L1885.4 2241.7 L1886.4 2241.9 L1887.4 2241.9 L1888.5 2242.4 L1889.5 2242.4 L1890.5 2244 L1892.5 2244.1 L1894.6 2243.6 L1896.6 2243.6" fill="none" stroke="#8e2b83" stroke-width="8" stroke-linejoin="round" stroke-linecap="butt"/>
<path d="M1226.4 2240.9 L1227.4 2241.6 L1228.4 2244.9 L1229.4 2245 L1230.4 2240.7 L1231.5 2240.7 L1232.5 2237.3 L1233.5 2237.4 L1234.5 2244.4 L1235.5 2244.5 L1236.6 2239.4 L1237.6 2239.5 L1238.6 2240.6 L1239.6 2240.7 L1240.6 2239.2 L1241.7 2239.3 L1242.7 2241.5 L1243.7 2241.6 L1244.7 2244.5 L1245.7 2244.6 L1246.7 2239.8 L1247.8 2239.8 L1248.8 2242.8 L1249.8 2242.9 L1250.8 2241.6 L1251.8 2241.6 L1252.9 2245.1 L1253.9 2245.2 L1254.9 2244.6 L1255.9 2244.6 L1256.9 2248.1 L1257.9 2248.1 L1259 2241.6 L1260 2241.6 L1261 2249.7 L1262 2249.8 L1263 2244.2 L1264.1 2244.3 L1265.1 2247.8 L1266.1 2247.9 L1267.1 2241.6 L1268.1 2241.7 L1269.2 2246 L1270.2 2246.1 L1271.2 2247.4 L1272.2 2247.5 L1273.2 2245.3 L1274.2 2245.4 L1275.3 2242.9 L1276.3 2243 L1277.3 2245.1 L1278.3 2245.2 L1279.3 2244 L1280.4 2244.1 L1281.4 2242.8 L1282.4 2242.9 L1283.4 2243.9 L1284.4 2244 L1285.5 2246.8 L1286.5 2246.9 L1287.5 2245.1 L1288.5 2245.2 L1289.5 2246.1 L1290.5 2246.3 L1291.6 2247.4 L1292.6 2247.5 L1293.6 2248.4 L1294.6 2248.5 L1295.6 2245.4 L1296.7 2245.6 L1297.7 2246.5 L1298.7 2246.6 L1299.7 2247.2 L1300.7 2247.3 L1301.7 2249.1 L1302.8 2249.2 L1303.8 2248.2 L1304.8 2248.3 L1305.8 2243.9 L1306.8 2244 L1307.9 2245 L1308.9 2245.1 L1309.9 2251.5 L1310.9 2251.6 L1311.9 2245.9 L1313 2246 L1314 2250.7 L1315 2250.9 L1316 2250.7 L1317 2250.8 L1318 2250.5 L1319.1 2250.6 L1320.1 2248.8 L1321.1 2249 L1322.1 2254.6 L1323.1 2254.8 L1324.2 2250.5 L1325.2 2250.6 L1326.2 2251.5 L1327.2 2251.6 L1328.2 2252.2 L1329.3 2252.4 L1330.3 2254.5 L1331.3 2254.7 L1332.3 2249.7 L1333.3 2249.9 L1334.3 2249.3 L1335.4 2249.4 L1336.4 2252.2 L1337.4 2252.3 L1338.4 2253.4 L1339.4 2253.5 L1340.5 2252.1 L1341.5 2252.2 L1342.5 2250.7 L1343.5 2250.9 L1344.5 2254.8 L1345.5 2255 L1346.6 2256.6 L1347.6 2256.8 L1348.6 2255.8 L1349.6 2255.9 L1350.6 2253.7 L1351.7 2253.8 L1352.7 2252.2 L1353.7 2252.3 L1354.7 2255.7 L1355.7 2255.9 L1356.8 2255.1 L1357.8 2255.3 L1358.8 2255.8 L1359.8 2256 L1360.8 2254.3 L1361.8 2254.5 L1362.9 2254.2 L1363.9 2254.4 L1364.9 2257.2 L1365.9 2257.4 L1366.9 2257.8 L1368 2258 L1369 2261.4 L1370 2261.6 L1371 2256.7 L1372 2256.9 L1373.1 2259.2 L1374.1 2259.4 L1375.1 2257.8 L1376.1 2258.1 L1377.1 2256.8 L1378.1 2257 L1379.2 2259.4 L1380.2 2259.7 L1381.2 2264.4 L1382.2 2264.6 L1383.2 2261.7 L1384.3 2261.9 L1385.3 2259.4 L1386.3 2259.6 L1387.3 2259.8 L1388.3 2260 L1389.3 2258.1 L1390.4 2258.4 L1391.4 2265.1 L1392.4 2265.4 L1393.4 2260.2 L1394.4 2260.4 L1395.5 2262.4 L1396.5 2262.7 L1397.5 2260.5 L1398.5 2260.8 L1399.5 2260.8 L1400.6 2261.1 L1401.6 2260.5 L1402.6 2260.8 L1403.6 2263.5 L1404.6 2263.8 L1405.6 2265.9 L1406.7 2266.2 L1407.7 2264.5 L1408.7 2264.8 L1409.7 2269.5 L1410.7 2269.8 L1411.8 2268.6 L1412.8 2268.9 L1413.8 2270.7 L1414.8 2271 L1415.8 2268.6 L1416.9 2268.9 L1417.9 2266 L1418.9 2266.4 L1419.9 2269.3 L1420.9 2269.7 L1421.9 2272.1 L1423 2272.4 L1424 2271.8 L1425 2272.2 L1426 2269.8 L1427 2270.2 L1428.1 2275.2 L1429.1 2275.6 L1430.1 2275 L1431.1 2275.4 L1432.1 2276.1 L1433.1 2276.6 L1434.2 2278.1 L1435.2 2278.5 L1436.2 2277.6 L1437.2 2278 L1438.2 2274.8 L1439.3 2275.3 L1440.3 2278 L1441.3 2278.5 L1442.3 2278.7 L1443.3 2279.2 L1444.4 2283.7 L1445.4 2284.2 L1446.4 2281.2 L1447.4 2281.7 L1448.4 2283.8 L1449.4 2284.3 L1450.5 2285.9 L1451.5 2286.4 L1452.5 2285 L1453.5 2285.6 L1454.5 2289.1 L1455.6 2289.7 L1456.6 2286.4 L1457.6 2287 L1458.6 2292.4 L1459.6 2293 L1460.7 2289.7 L1461.7 2290.3 L1462.7 2289 L1463.7 2289.6 L1464.7 2290.7 L1465.7 2291.4 L1466.8 2299 L1467.8 2299.6 L1468.8 2296.3 L1469.8 2297 L1470.8 2296.3 L1471.9 2297 L1472.9 2300.1 L1473.9 2300.8 L1474.9 2300 L1475.9 2300.7 L1476.9 2301.8 L1478 2302.6 L1479 2303 L1480 2303.8 L1481 2305.6 L1482 2306.3 L1483.1 2303.2 L1484.1 2304 L1485.1 2309.2 L1486.1 2310 L1487.1 2306.4 L1488.2 2307.3 L1489.2 2309.4 L1490.2 2310.3 L1491.2 2314.8 L1492.2 2315.7 L1493.2 2311.2 L1494.3 2312.1 L1495.3 2316.6 L1496.3 2317.6 L1497.3 2318.5 L1498.3 2319.5 L1499.4 2319.3 L1500.4 2320.4 L1501.4 2321.5 L1502.4 2322.6 L1503.4 2325.1 L1504.5 2326.2 L1505.5 2328.8 L1506.5 2329.9 L1507.5 2324.2 L1508.5 2325.3 L1509.5 2332.1 L1510.6 2333.3 L1511.6 2330.7 L1512.6 2331.9 L1513.6 2338.3 L1514.6 2339.5 L1515.7 2335.8 L1516.7 2337 L1517.7 2338.9 L1518.7 2340.1 L1519.7 2341.2 L1520.7 2342.5 L1521.8 2344.3 L1522.8 2345.7 L1523.8 2352.6 L1524.8 2354 L1525.8 2350.8 L1526.9 2352.3 L1527.9 2356.6 L1528.9 2358.1 L1529.9 2359.3 L1530.9 2360.8 L1532 2358.6 L1533 2360.2 L1534 2362.2 L1535 2363.9 L1536 2364.2 L1537 2365.9 L1538.1 2371 L1539.1 2372.8 L1540.1 2374.6 L1541.1 2376.4 L1542.1 2375.5 L1543.2 2377.4 L1544.2 2378.4 L1545.2 2380.3 L1546.2 2382.9 L1547.2 2384.9 L1548.3 2389.1 L1549.3 2391.2 L1550.3 2393.6 L1551.3 2395.8 L1552.3 2397.1 L1553.3 2399.3 L1554.4 2406.6 L1555.4 2408.8 L1556.4 2408.4 L1557.4 2410.7 L1558.4 2412.1 L1559.5 2414.4 L1560.5 2417.4 L1561.5 2419.8 L1562.5 2420 L1563.5 2422.4 L1564.5 2422.1 L1565.6 2424.5 L1566.6 2430.8 L1567.6 2433.2 L1568.6 2431.9 L1569.6 2434.3 L1570.7 2439.8 L1571.7 2442.1 L1572.7 2445.3 L1573.7 2447.6 L1574.7 2449.3 L1575.8 2451.6 L1576.8 2454.3 L1577.8 2456.6 L1578.8 2457.9 L1579.8 2460.2 L1580.8 2461.2 L1581.9 2463.5 L1582.9 2472.1 L1583.9 2474.4 L1584.9 2473.2 L1585.9 2475.5 L1587 2479.6 L1588 2481.9 L1589 2481.3 L1590 2483.7 L1591 2486.7 L1592.1 2489.1 L1593.1 2492.7 L1594.1 2495.2 L1595.1 2496.6 L1596.1 2499.1 L1597.1 2503.6 L1598.2 2506.3 L1599.2 2508.8 L1600.2 2511.5 L1601.2 2515.6 L1602.2 2518.4 L1603.3 2519.2 L1604.3 2522.1 L1605.3 2525.5 L1606.3 2528.6 L1607.3 2530.2 L1608.3 2533.5 L1609.4 2541.1 L1610.4 2544.7 L1611.4 2547.7 L1612.4 2551.3 L1613.4 2550.4 L1614.5 2554.2 L1615.5 2557.9 L1616.5 2561.7 L1617.5 2566.3 L1618.5 2570 L1619.6 2571.8 L1620.6 2575.4 L1621.6 2582.2 L1622.6 2585.8 L1623.6 2587.7 L1624.6 2591.3 L1625.7 2595 L1626.7 2598.7 L1627.7 2601.3 L1628.7 2605 L1629.7 2609.2 L1630.8 2613 L1631.8 2619.4 L1632.8 2623.2 L1633.8 2621.1 L1634.8 2624.8 L1635.8 2634.2 L1636.9 2637.7 L1637.9 2639.5 L1638.9 2642.9 L1639.9 2643.6 L1640.9 2646.7 L1642 2652.7 L1643 2655.5 L1644 2656.3 L1645 2658.8 L1646 2663.3 L1647.1 2665.6 L1648.1 2670.6 L1649.1 2672.9 L1650.1 2670.8 L1651.1 2673 L1652.1 2678.9 L1653.2 2681.1 L1654.2 2682.4 L1655.2 2684.4 L1656.2 2684.7 L1657.2 2686.5 L1658.3 2687.9 L1659.3 2689.5 L1660.3 2690.7 L1661.3 2692.1 L1662.3 2695.4 L1663.4 2696.5 L1664.4 2696.6 L1665.4 2697.4 L1666.4 2696.5 L1667.4 2697.2 L1668.4 2698.4 L1669.5 2699 L1670.5 2701.7 L1671.5 2702.2 L1672.5 2697.4 L1673.5 2697.8 L1674.6 2700.8 L1675.6 2700.9 L1676.6 2702.2 L1677.6 2702.2 L1678.6 2700.3 L1679.6 2700 L1680.7 2699.7 L1681.7 2699.3 L1682.7 2697.1 L1683.7 2696.5 L1684.7 2692.1 L1685.8 2691.4 L1686.8 2697.3 L1687.8 2696.5 L1688.8 2697.1 L1689.8 2696 L1690.9 2698.6 L1691.9 2697.2 L1692.9 2692.6 L1693.9 2690.9 L1694.9 2686.3 L1695.9 2684.4 L1697 2684.2 L1698 2682 L1699 2678.8 L1700 2676.3 L1701 2673.2 L1702.1 2670.5 L1703.1 2664.6 L1704.1 2661.6 L1705.1 2660 L1706.1 2656.5 L1707.2 2656 L1708.2 2651.2 L1709.2 2644.6 L1710.2 2638.8 L1711.2 2632.2 L1712.2 2625.7 L1713.3 2617.2 L1714.3 2610.2 L1715.3 2601.2 L1716.3 2593.9 L1717.3 2590.5 L1718.4 2583.3 L1719.4 2577 L1720.4 2569.1 L1721.4 2554.2 L1722.4 2545.5 L1723.4 2541.5 L1724.5 2532.3 L1725.5 2521.4 L1726.5 2511.9 L1727.5 2504.7 L1728.5 2495.3 L1729.6 2481.5 L1730.6 2472.4 L1731.6 2466.5 L1732.6 2457.9 L1733.6 2453.4 L1734.7 2445.8 L1735.7 2435.7 L1736.7 2428.1 L1737.7 2419.9 L1738.7 2412.4 L1739.7 2402.7 L1740.8 2395.4 L1741.8 2390.6 L1742.8 2383.5 L1743.8 2377 L1744.8 2370.2 L1745.9 2360.4 L1746.9 2354 L1747.9 2350.9 L1748.9 2344.9 L1749.9 2336.9 L1751 2331.3 L1752 2326.4 L1753 2321.5 L1754 2318.3 L1755 2313.4 L1756 2305.6 L1757.1 2300.7 L1758.1 2293.6 L1759.1 2288.9 L1760.1 2288.8 L1761.1 2284.2 L1762.2 2279.8 L1763.2 2275.6 L1764.2 2267 L1765.2 2263.4 L1766.2 2264.9 L1767.2 2262 L1768.3 2259.2 L1769.3 2257.1 L1770.3 2256.1 L1771.3 2254.9 L1772.3 2249.9 L1773.4 2249.1 L1774.4 2249 L1775.4 2248.2 L1776.4 2256.8 L1777.4 2256.1 L1778.5 2248.4 L1779.5 2247.8 L1780.5 2244.1 L1781.5 2243.6 L1782.5 2248.5 L1783.5 2248.1 L1784.6 2242.4 L1785.6 2242.1 L1786.6 2248.8 L1787.6 2248.6 L1788.6 2244.7 L1789.7 2244.6 L1790.7 2246.2 L1791.7 2246.1 L1792.7 2243.6 L1793.7 2243.6 L1794.8 2246.5 L1795.8 2246.4 L1796.8 2244.1 L1797.8 2244.1 L1798.8 2245.9 L1799.8 2245.9 L1800.9 2246.6 L1801.9 2246.6 L1802.9 2244.2 L1803.9 2244.1 L1804.9 2247.3 L1806 2247.2 L1807 2245.2 L1808 2245.2 L1809 2244.5 L1810 2244.5 L1811 2244.3 L1812.1 2244.2 L1813.1 2241.9 L1814.1 2241.8 L1815.1 2243.2 L1816.1 2243.2 L1817.2 2245.4 L1818.2 2245.4 L1819.2 2242.4 L1820.2 2242.3 L1821.2 2239.1 L1822.3 2239.1 L1823.3 2245.7 L1824.3 2245.7 L1825.3 2244.5 L1826.3 2244.5 L1827.3 2240.8 L1828.4 2240.7 L1829.4 2242.8 L1830.4 2242.8 L1831.4 2243 L1832.4 2243 L1833.5 2246.4 L1834.5 2246.4 L1835.5 2242.8 L1836.5 2242.8 L1837.5 2244.7 L1838.6 2244.7 L1839.6 2243.8 L1840.6 2243.8 L1841.6 2238.3 L1842.6 2238.3 L1843.6 2245.9 L1844.7 2245.9 L1845.7 2246.8 L1846.7 2246.8 L1847.7 2244.5 L1848.7 2244.5 L1849.8 2243 L1850.8 2243 L1851.8 2243.3 L1852.8 2243.3 L1853.8 2242.6 L1854.8 2242.6 L1855.9 2244 L1856.9 2244 L1857.9 2244.3 L1858.9 2244.3 L1859.9 2244.3 L1861 2244.3 L1862 2246.6 L1863 2246.6 L1864 2246.1 L1865 2246.1 L1866.1 2241.8 L1867.1 2241.8 L1868.1 2242.9 L1869.1 2242.9 L1870.1 2242.9 L1871.1 2242.9 L1872.2 2241.7 L1873.2 2241.7 L1874.2 2245.6 L1875.2 2245.6 L1876.2 2240.1 L1877.3 2240.1 L1878.3 2245.6 L1879.3 2245.6 L1880.3 2242.9 L1881.3 2242.9 L1882.4 2248.2 L1883.4 2248.2 L1884.4 2246.8 L1885.4 2246.8 L1886.4 2242.1 L1887.4 2242.1 L1888.5 2242.1 L1889.5 2242.1 L1890.5 2244.6 L1892.5 2244.6 L1894.6 2242.8 L1896.6 2242.8" fill="none" stroke="#64a632" stroke-width="8" stroke-linejoin="round" stroke-linecap="butt"/>
<g font-family="'Liberation Sans', Arial, sans-serif" fill="#2a2623">
<text x="106.6" y="1961.6" font-size="54">0.05</text>
<text x="181.5" y="2130.9" font-size="54">0</text>
<text x="88.6" y="2300.2" font-size="54">-0.05</text>
<text x="119" y="2469.5" font-size="54">-0.1</text>
<text x="88.6" y="2638.9" font-size="54">-0.15</text>
<text x="119.1" y="2808.2" font-size="54">-0.2</text>
<text x="88.6" y="2977.5" font-size="54">-0.25</text>
<text x="118.7" y="3146.8" font-size="54">-0.3</text>
<text x="326.9" y="3201.5" font-size="54">100</text>
<text x="524.1" y="3201.5" font-size="54">200</text>
<text x="721.2" y="3201.5" font-size="54">300</text>
<text x="918.3" y="3201.5" font-size="54">400</text>
<text x="1115.4" y="3201.5" font-size="54">500</text>
<text x="1312.6" y="3201.5" font-size="54">600</text>
<text x="1509.7" y="3201.5" font-size="54">700</text>
<text x="1706.8" y="3201.5" font-size="54">800</text>
<text x="1904" y="3201.5" font-size="54">900</text>
<text x="860.9" y="3279.4" font-size="59.07">Temperature (°C)</text>
<text transform="translate(57 2819.3) rotate(-90)" x="0" y="0" font-size="58.52">d(Mass loss)/d(Temp) (1/°C)</text>
<text x="773.4" y="1871.4" font-size="47.76">UiO-67@Cotton</text>
<text x="773.4" y="1934.6" font-size="47.58">UiO-66 NDC @Cotton</text>
<text x="773.4" y="1995.4" font-size="47.76">UiO-66@Cotton</text>
<text y="1861.6" font-size="48.0"><tspan x="1445.1">UiO-66-NH</tspan><tspan x="1680.6" y="1882.5" font-size="35">2</tspan><tspan x="1702.6" y="1861.6">@Cotton</tspan></text>
<text x="1446.4" y="1932.9" font-size="47.87">Cotton</text>
<text x="1187.7" y="2255.7" font-size="46">0</text>
<text x="1108.6" y="2364.9" font-size="46">-0.05</text>
<text x="1134.5" y="2474.1" font-size="46">-0.1</text>
<text x="1108.6" y="2583.3" font-size="46">-0.15</text>
<text x="1134.5" y="2692.5" font-size="46">-0.2</text>
<text x="1108.6" y="2801.7" font-size="46">-0.25</text>
<text x="1134.3" y="2910.9" font-size="46">-0.3</text>
<text x="1342.8" y="2953" font-size="46">300</text>
<text x="1597.5" y="2953" font-size="46">350</text>
<text x="1852.1" y="2953" font-size="46">400</text>
<text x="1367.9" y="3012.8" font-size="49.77">Temperature (°C)</text>
<text transform="translate(1090.9 2877.4) rotate(-90)" x="0" y="0" font-size="49.60">d(Mass loss)/d(Temp) (1/°C)</text>
</g>
<text y="3429.4" font-family="'Liberation Serif', 'Times New Roman', serif" font-size="86" fill="#000"><tspan x="961.2">(</tspan><tspan x="988" font-weight="bold">b</tspan><tspan x="1037.2">)</tspan></text>
</svg></body></html>
